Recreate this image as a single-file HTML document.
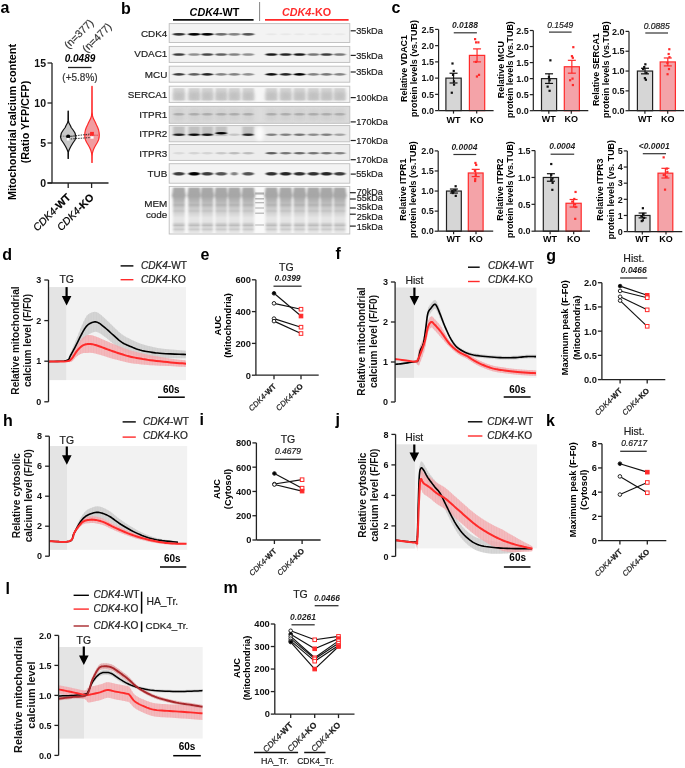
<!DOCTYPE html>
<html><head><meta charset="utf-8"><style>
html,body{margin:0;padding:0;background:#fff;width:685px;height:768px;overflow:hidden}
svg{display:block;will-change:transform}
text{font-family:"Liberation Sans", sans-serif}
</style></head><body>
<svg width="685" height="768" viewBox="0 0 685 768">
<rect width="685" height="768" fill="#fff"/>
<text x="0.50" y="13.10" font-size="16" font-weight="bold" font-style="normal" text-anchor="start" fill="#000">a</text>
<text x="16.00" y="122.00" font-size="10.8" font-weight="bold" font-style="normal" text-anchor="middle" fill="#000" transform="rotate(-90 16.00 122.00)">Mitochondrial calcium content</text>
<text x="28.50" y="122.00" font-size="10.8" font-weight="bold" font-style="normal" text-anchor="middle" fill="#000" transform="rotate(-90 28.50 122.00)">(Ratio YFP/CFP)</text>
<line x1="52.00" y1="63.00" x2="52.00" y2="183.00" stroke="#222" stroke-width="1.3"/>
<line x1="47.50" y1="183.00" x2="52.00" y2="183.00" stroke="#222" stroke-width="1.3"/>
<text x="46.00" y="186.78" font-size="10.5" font-weight="bold" font-style="normal" text-anchor="end" fill="#111">0</text>
<line x1="47.50" y1="143.00" x2="52.00" y2="143.00" stroke="#222" stroke-width="1.3"/>
<text x="46.00" y="146.78" font-size="10.5" font-weight="bold" font-style="normal" text-anchor="end" fill="#111">5</text>
<line x1="47.50" y1="103.00" x2="52.00" y2="103.00" stroke="#222" stroke-width="1.3"/>
<text x="46.00" y="106.78" font-size="10.5" font-weight="bold" font-style="normal" text-anchor="end" fill="#111">10</text>
<line x1="47.50" y1="63.00" x2="52.00" y2="63.00" stroke="#222" stroke-width="1.3"/>
<text x="46.00" y="66.78" font-size="10.5" font-weight="bold" font-style="normal" text-anchor="end" fill="#111">15</text>
<line x1="47.50" y1="183.00" x2="108.50" y2="183.00" stroke="#222" stroke-width="1.3"/>
<line x1="68.20" y1="183.00" x2="68.20" y2="188.00" stroke="#222" stroke-width="1.3"/>
<line x1="91.60" y1="183.00" x2="91.60" y2="188.00" stroke="#222" stroke-width="1.3"/>
<text x="71.20" y="198.00" font-size="10.5" font-weight="normal" font-style="normal" text-anchor="end" fill="#000" transform="rotate(-45 71.20 198.00)" stroke="#000" stroke-width="0.2"><tspan font-style="italic">CDK4</tspan><tspan font-weight="bold">-WT</tspan></text>
<text x="94.60" y="198.00" font-size="10.5" font-weight="normal" font-style="normal" text-anchor="end" fill="#000" transform="rotate(-45 94.60 198.00)" stroke="#000" stroke-width="0.2"><tspan font-style="italic">CDK4</tspan><tspan font-weight="bold">-KO</tspan></text>
<text x="80.00" y="61.50" font-size="10" font-weight="bold" font-style="italic" text-anchor="middle" fill="#000">0.0489</text>
<line x1="68.00" y1="67.50" x2="91.50" y2="67.50" stroke="#222" stroke-width="1.3"/>
<text x="80.00" y="80.60" font-size="10" font-weight="normal" font-style="normal" text-anchor="middle" fill="#333" stroke="#333" stroke-width="0.2">(+5.8%)</text>
<text x="81.30" y="36.40" font-size="10.5" font-weight="normal" font-style="normal" text-anchor="middle" fill="#333" transform="rotate(-45 81.30 36.40)" stroke="#333" stroke-width="0.2">(n=377)</text>
<text x="99.40" y="40.20" font-size="10.5" font-weight="normal" font-style="normal" text-anchor="middle" fill="#333" transform="rotate(-45 99.40 40.20)" stroke="#333" stroke-width="0.2">(n=477)</text>
<polygon points="68.35,111.00 68.40,121.00 69.00,123.00 69.80,124.50 70.60,126.00 71.20,127.50 73.10,130.00 75.00,133.00 75.90,136.80 75.00,140.00 72.90,143.00 70.80,146.50 69.80,148.50 69.00,150.30 68.40,152.00 68.35,158.50 68.05,158.50 68.00,152.00 67.40,150.30 66.60,148.50 65.60,146.50 63.50,143.00 61.40,140.00 60.50,136.80 61.40,133.00 63.30,130.00 65.20,127.50 65.80,126.00 66.60,124.50 67.40,123.00 68.00,121.00 68.05,111.00" fill="#c8c8c8" stroke="#111" stroke-width="1.2" stroke-linejoin="round"/>
<polygon points="92.15,86.40 92.20,112.00 92.50,116.00 93.40,118.60 94.40,120.50 95.40,122.50 96.50,125.00 97.70,127.50 98.60,130.00 99.10,132.50 99.30,135.00 99.10,137.50 98.50,140.00 97.30,142.50 95.80,145.00 94.40,147.50 93.20,150.30 92.40,153.00 92.20,156.00 92.15,162.50 91.85,162.50 91.80,156.00 91.60,153.00 90.80,150.30 89.60,147.50 88.20,145.00 86.70,142.50 85.50,140.00 84.90,137.50 84.70,135.00 84.90,132.50 85.40,130.00 86.30,127.50 87.50,125.00 88.60,122.50 89.60,120.50 90.60,118.60 91.50,116.00 91.80,112.00 91.85,86.40" fill="#f19ca0" stroke="#ff2a2a" stroke-width="1.2" stroke-linejoin="round"/>
<line x1="61.00" y1="136.20" x2="75.50" y2="136.20" stroke="#444" stroke-width="0.7" stroke-dasharray="1.2,1"/>
<line x1="85.50" y1="135.20" x2="98.50" y2="135.20" stroke="#c00" stroke-width="0.7" stroke-dasharray="1.2,1"/>
<line x1="68.20" y1="136.60" x2="92.00" y2="133.80" stroke="#222" stroke-width="0.9" stroke-dasharray="1.5,1"/>
<line x1="68.20" y1="139.20" x2="92.00" y2="137.40" stroke="#222" stroke-width="0.9" stroke-dasharray="1.5,1"/>
<circle cx="68.2" cy="136.6" r="2.1" fill="#000"/>
<rect x="66.80" y="137.90" width="2.80" height="2.60" fill="#fff" stroke="none" stroke-width="1"/>
<rect x="90.10" y="131.90" width="3.80" height="3.80" fill="#ff2a2a" stroke="none" stroke-width="1"/>
<rect x="90.40" y="136.30" width="3.20" height="2.40" fill="#fff" stroke="none" stroke-width="1"/>
<text x="121.00" y="13.50" font-size="16" font-weight="bold" font-style="normal" text-anchor="start" fill="#000">b</text>
<text x="214.50" y="15.80" font-size="10.8" font-weight="bold" font-style="normal" text-anchor="middle" fill="#000"><tspan font-style="italic">CDK4</tspan>-WT</text>
<text x="306.50" y="15.80" font-size="10.8" font-weight="bold" font-style="normal" text-anchor="middle" fill="#ff2a2a"><tspan font-style="italic">CDK4</tspan>-KO</text>
<line x1="173.00" y1="19.90" x2="253.60" y2="19.90" stroke="#111" stroke-width="1.8"/>
<line x1="265.00" y1="19.90" x2="348.60" y2="19.90" stroke="#ff2a2a" stroke-width="1.8"/>
<line x1="259.60" y1="2.00" x2="259.60" y2="21.00" stroke="#777" stroke-width="0.9"/>
<defs><filter id="bl" x="-50%" y="-100%" width="200%" height="300%"><feGaussianBlur stdDeviation="1.3 0.65"/></filter><filter id="blh" x="-20%" y="-5%" width="140%" height="110%"><feGaussianBlur stdDeviation="0.9 0.3"/></filter><filter id="bl2" x="-50%" y="-50%" width="200%" height="200%"><feGaussianBlur stdDeviation="2 1.5"/></filter><linearGradient id="memg" x1="0" y1="0" x2="0" y2="1"><stop offset="0.000" stop-color="#bcbcbc"/><stop offset="0.035" stop-color="#a8a8a8"/><stop offset="0.189" stop-color="#a6a6a6"/><stop offset="0.287" stop-color="#b4b4b4"/><stop offset="0.342" stop-color="#bdbdbd"/><stop offset="0.386" stop-color="#b3b3b3"/><stop offset="0.430" stop-color="#c5c5c5"/><stop offset="0.474" stop-color="#cdcdcd"/><stop offset="0.518" stop-color="#c2c2c2"/><stop offset="0.561" stop-color="#d4d4d4"/><stop offset="0.671" stop-color="#e5e5e5"/><stop offset="0.759" stop-color="#e3e3e3"/><stop offset="0.803" stop-color="#cbcbcb"/><stop offset="0.836" stop-color="#bdbdbd"/><stop offset="0.868" stop-color="#dadada"/><stop offset="0.923" stop-color="#cbcbcb"/><stop offset="0.956" stop-color="#dfdfdf"/><stop offset="1.000" stop-color="#e8e8e8"/></linearGradient></defs>
<rect x="169.20" y="23.60" width="180.60" height="18.90" fill="#f3f3f3" stroke="#bdbdbd" stroke-width="0.9"/>
<g clip-path="url(#clipCDK4)">
<ellipse cx="178.90" cy="34.30" rx="6.25" ry="1.40" fill="#000" opacity="0.8" filter="url(#bl)"/>
<ellipse cx="194.20" cy="34.30" rx="6.25" ry="1.40" fill="#000" opacity="1" filter="url(#bl)"/>
<ellipse cx="207.30" cy="34.30" rx="6.25" ry="1.40" fill="#000" opacity="1" filter="url(#bl)"/>
<ellipse cx="221.20" cy="34.30" rx="6.25" ry="1.40" fill="#000" opacity="0.55" filter="url(#bl)"/>
<ellipse cx="234.30" cy="34.30" rx="6.25" ry="1.40" fill="#000" opacity="0.45" filter="url(#bl)"/>
<ellipse cx="248.20" cy="34.30" rx="6.25" ry="1.40" fill="#000" opacity="0.65" filter="url(#bl)"/>
<ellipse cx="271.40" cy="34.30" rx="5.50" ry="1.00" fill="#000" opacity="0.04" filter="url(#bl)"/>
<ellipse cx="285.70" cy="34.30" rx="5.50" ry="1.00" fill="#000" opacity="0.04" filter="url(#bl)"/>
<ellipse cx="299.50" cy="34.30" rx="5.50" ry="1.00" fill="#000" opacity="0.04" filter="url(#bl)"/>
<ellipse cx="313.40" cy="34.30" rx="5.50" ry="1.00" fill="#000" opacity="0.04" filter="url(#bl)"/>
<ellipse cx="326.50" cy="34.30" rx="5.50" ry="1.00" fill="#000" opacity="0.04" filter="url(#bl)"/>
<ellipse cx="339.70" cy="34.30" rx="5.50" ry="1.00" fill="#000" opacity="0.04" filter="url(#bl)"/>
</g>
<clipPath id="clipCDK4"><rect x="169.2" y="23.6" width="180.60000000000002" height="18.9"/></clipPath>
<text x="167.30" y="37.00" font-size="9.9" font-weight="normal" font-style="normal" text-anchor="end" fill="#222" stroke="#222" stroke-width="0.2">CDK4</text>
<line x1="350.70" y1="30.80" x2="355.80" y2="30.80" stroke="#222" stroke-width="1.2"/>
<text x="356.20" y="34.10" font-size="9.2" font-weight="normal" font-style="normal" text-anchor="start" fill="#222" stroke="#222" stroke-width="0.2">35kDa</text>
<rect x="169.20" y="46.40" width="180.60" height="16.00" fill="#f1f1f1" stroke="#bdbdbd" stroke-width="0.9"/>
<g clip-path="url(#clipVDAC1)">
<ellipse cx="178.90" cy="54.50" rx="6.00" ry="1.30" fill="#000" opacity="0.75" filter="url(#bl)"/>
<ellipse cx="194.20" cy="54.50" rx="6.00" ry="1.30" fill="#000" opacity="0.4" filter="url(#bl)"/>
<ellipse cx="207.30" cy="54.50" rx="6.00" ry="1.30" fill="#000" opacity="0.7" filter="url(#bl)"/>
<ellipse cx="221.20" cy="54.50" rx="6.00" ry="1.30" fill="#000" opacity="0.6" filter="url(#bl)"/>
<ellipse cx="234.30" cy="54.50" rx="6.00" ry="1.30" fill="#000" opacity="0.45" filter="url(#bl)"/>
<ellipse cx="248.20" cy="54.50" rx="6.00" ry="1.30" fill="#000" opacity="0.4" filter="url(#bl)"/>
<ellipse cx="271.40" cy="54.50" rx="6.00" ry="1.30" fill="#000" opacity="0.9" filter="url(#bl)"/>
<ellipse cx="285.70" cy="54.50" rx="6.00" ry="1.30" fill="#000" opacity="0.85" filter="url(#bl)"/>
<ellipse cx="299.50" cy="54.50" rx="6.00" ry="1.30" fill="#000" opacity="0.9" filter="url(#bl)"/>
<ellipse cx="313.40" cy="54.50" rx="6.00" ry="1.30" fill="#000" opacity="0.5" filter="url(#bl)"/>
<ellipse cx="326.50" cy="54.50" rx="6.00" ry="1.30" fill="#000" opacity="0.75" filter="url(#bl)"/>
<ellipse cx="339.70" cy="54.50" rx="6.00" ry="1.30" fill="#000" opacity="0.5" filter="url(#bl)"/>
</g>
<clipPath id="clipVDAC1"><rect x="169.2" y="46.4" width="180.60000000000002" height="16.0"/></clipPath>
<text x="167.30" y="56.90" font-size="9.9" font-weight="normal" font-style="normal" text-anchor="end" fill="#222" stroke="#222" stroke-width="0.2">VDAC1</text>
<line x1="350.70" y1="55.40" x2="355.80" y2="55.40" stroke="#222" stroke-width="1.2"/>
<text x="356.20" y="58.70" font-size="9.2" font-weight="normal" font-style="normal" text-anchor="start" fill="#222" stroke="#222" stroke-width="0.2">35kDa</text>
<rect x="169.20" y="66.20" width="180.60" height="16.00" fill="#f1f1f1" stroke="#bdbdbd" stroke-width="0.9"/>
<g clip-path="url(#clipMCU)">
<ellipse cx="178.90" cy="74.40" rx="6.00" ry="1.30" fill="#000" opacity="0.75" filter="url(#bl)"/>
<ellipse cx="194.20" cy="74.40" rx="6.00" ry="1.30" fill="#000" opacity="0.6" filter="url(#bl)"/>
<ellipse cx="207.30" cy="74.40" rx="6.00" ry="1.30" fill="#000" opacity="0.85" filter="url(#bl)"/>
<ellipse cx="221.20" cy="74.40" rx="6.00" ry="1.30" fill="#000" opacity="0.45" filter="url(#bl)"/>
<ellipse cx="234.30" cy="74.40" rx="6.00" ry="1.30" fill="#000" opacity="0.45" filter="url(#bl)"/>
<ellipse cx="248.20" cy="74.40" rx="6.00" ry="1.30" fill="#000" opacity="0.4" filter="url(#bl)"/>
<ellipse cx="271.40" cy="74.40" rx="6.00" ry="1.30" fill="#000" opacity="0.95" filter="url(#bl)"/>
<ellipse cx="285.70" cy="74.40" rx="6.00" ry="1.30" fill="#000" opacity="0.85" filter="url(#bl)"/>
<ellipse cx="299.50" cy="74.40" rx="6.00" ry="1.30" fill="#000" opacity="1" filter="url(#bl)"/>
<ellipse cx="313.40" cy="74.40" rx="6.00" ry="1.30" fill="#000" opacity="0.45" filter="url(#bl)"/>
<ellipse cx="326.50" cy="74.40" rx="6.00" ry="1.30" fill="#000" opacity="0.5" filter="url(#bl)"/>
<ellipse cx="339.70" cy="74.40" rx="6.00" ry="1.30" fill="#000" opacity="0.45" filter="url(#bl)"/>
</g>
<clipPath id="clipMCU"><rect x="169.2" y="66.2" width="180.60000000000002" height="16.0"/></clipPath>
<text x="167.30" y="78.20" font-size="9.9" font-weight="normal" font-style="normal" text-anchor="end" fill="#222" stroke="#222" stroke-width="0.2">MCU</text>
<line x1="350.70" y1="72.00" x2="355.80" y2="72.00" stroke="#222" stroke-width="1.2"/>
<text x="356.20" y="75.30" font-size="9.2" font-weight="normal" font-style="normal" text-anchor="start" fill="#222" stroke="#222" stroke-width="0.2">35kDa</text>
<rect x="169.20" y="86.20" width="180.60" height="16.20" fill="#f6f6f6" stroke="#bdbdbd" stroke-width="0.9"/>
<g clip-path="url(#clipSERCA1)">
<rect x="173.10" y="88.20" width="11.60" height="12.20" fill="#d2d2d2" stroke="none" stroke-width="1" filter="url(#blh)"/>
<rect x="173.70" y="92.20" width="10.40" height="8.00" fill="#bdbdbd" stroke="none" stroke-width="1" filter="url(#bl2)" opacity="0.8"/>
<rect x="188.40" y="88.20" width="11.60" height="12.20" fill="#d2d2d2" stroke="none" stroke-width="1" filter="url(#blh)"/>
<rect x="189.00" y="92.20" width="10.40" height="8.00" fill="#bdbdbd" stroke="none" stroke-width="1" filter="url(#bl2)" opacity="0.8"/>
<rect x="201.50" y="88.20" width="11.60" height="12.20" fill="#d2d2d2" stroke="none" stroke-width="1" filter="url(#blh)"/>
<rect x="202.10" y="92.20" width="10.40" height="8.00" fill="#bdbdbd" stroke="none" stroke-width="1" filter="url(#bl2)" opacity="0.8"/>
<rect x="215.40" y="88.20" width="11.60" height="12.20" fill="#d2d2d2" stroke="none" stroke-width="1" filter="url(#blh)"/>
<rect x="216.00" y="92.20" width="10.40" height="8.00" fill="#bdbdbd" stroke="none" stroke-width="1" filter="url(#bl2)" opacity="0.8"/>
<rect x="228.50" y="88.20" width="11.60" height="12.20" fill="#d2d2d2" stroke="none" stroke-width="1" filter="url(#blh)"/>
<rect x="229.10" y="92.20" width="10.40" height="8.00" fill="#bdbdbd" stroke="none" stroke-width="1" filter="url(#bl2)" opacity="0.8"/>
<rect x="242.40" y="88.20" width="11.60" height="12.20" fill="#d2d2d2" stroke="none" stroke-width="1" filter="url(#blh)"/>
<rect x="243.00" y="92.20" width="10.40" height="8.00" fill="#bdbdbd" stroke="none" stroke-width="1" filter="url(#bl2)" opacity="0.8"/>
<rect x="265.60" y="88.20" width="11.60" height="12.20" fill="#d2d2d2" stroke="none" stroke-width="1" filter="url(#blh)"/>
<rect x="266.20" y="92.20" width="10.40" height="8.00" fill="#bdbdbd" stroke="none" stroke-width="1" filter="url(#bl2)" opacity="0.8"/>
<rect x="279.90" y="88.20" width="11.60" height="12.20" fill="#d2d2d2" stroke="none" stroke-width="1" filter="url(#blh)"/>
<rect x="280.50" y="92.20" width="10.40" height="8.00" fill="#bdbdbd" stroke="none" stroke-width="1" filter="url(#bl2)" opacity="0.8"/>
<rect x="293.70" y="88.20" width="11.60" height="12.20" fill="#d2d2d2" stroke="none" stroke-width="1" filter="url(#blh)"/>
<rect x="294.30" y="92.20" width="10.40" height="8.00" fill="#bdbdbd" stroke="none" stroke-width="1" filter="url(#bl2)" opacity="0.8"/>
<rect x="307.60" y="88.20" width="11.60" height="12.20" fill="#d2d2d2" stroke="none" stroke-width="1" filter="url(#blh)"/>
<rect x="308.20" y="92.20" width="10.40" height="8.00" fill="#bdbdbd" stroke="none" stroke-width="1" filter="url(#bl2)" opacity="0.8"/>
<rect x="320.70" y="88.20" width="11.60" height="12.20" fill="#d2d2d2" stroke="none" stroke-width="1" filter="url(#blh)"/>
<rect x="321.30" y="92.20" width="10.40" height="8.00" fill="#bdbdbd" stroke="none" stroke-width="1" filter="url(#bl2)" opacity="0.8"/>
<rect x="333.90" y="88.20" width="11.60" height="12.20" fill="#d2d2d2" stroke="none" stroke-width="1" filter="url(#blh)"/>
<rect x="334.50" y="92.20" width="10.40" height="8.00" fill="#bdbdbd" stroke="none" stroke-width="1" filter="url(#bl2)" opacity="0.8"/>
</g>
<clipPath id="clipSERCA1"><rect x="169.2" y="86.2" width="180.60000000000002" height="16.200000000000003"/></clipPath>
<text x="167.30" y="98.00" font-size="9.9" font-weight="normal" font-style="normal" text-anchor="end" fill="#222" stroke="#222" stroke-width="0.2">SERCA1</text>
<line x1="350.70" y1="97.60" x2="355.80" y2="97.60" stroke="#222" stroke-width="1.2"/>
<text x="356.20" y="100.90" font-size="9.2" font-weight="normal" font-style="normal" text-anchor="start" fill="#222" stroke="#222" stroke-width="0.2">100kDa</text>
<rect x="169.20" y="106.30" width="180.60" height="17.00" fill="#dcdcdc" stroke="#bdbdbd" stroke-width="0.9"/>
<g clip-path="url(#clipITPR1)">
<rect x="173.40" y="108.30" width="11.00" height="13.00" fill="#cfcfcf" stroke="none" stroke-width="1" filter="url(#bl2)" opacity="0.8"/>
<rect x="188.70" y="108.30" width="11.00" height="13.00" fill="#cfcfcf" stroke="none" stroke-width="1" filter="url(#bl2)" opacity="0.8"/>
<rect x="201.80" y="108.30" width="11.00" height="13.00" fill="#cfcfcf" stroke="none" stroke-width="1" filter="url(#bl2)" opacity="0.8"/>
<rect x="215.70" y="108.30" width="11.00" height="13.00" fill="#cfcfcf" stroke="none" stroke-width="1" filter="url(#bl2)" opacity="0.8"/>
<rect x="228.80" y="108.30" width="11.00" height="13.00" fill="#cfcfcf" stroke="none" stroke-width="1" filter="url(#bl2)" opacity="0.8"/>
<rect x="242.70" y="108.30" width="11.00" height="13.00" fill="#cfcfcf" stroke="none" stroke-width="1" filter="url(#bl2)" opacity="0.8"/>
<rect x="265.90" y="108.30" width="11.00" height="13.00" fill="#cfcfcf" stroke="none" stroke-width="1" filter="url(#bl2)" opacity="0.8"/>
<rect x="280.20" y="108.30" width="11.00" height="13.00" fill="#cfcfcf" stroke="none" stroke-width="1" filter="url(#bl2)" opacity="0.8"/>
<rect x="294.00" y="108.30" width="11.00" height="13.00" fill="#cfcfcf" stroke="none" stroke-width="1" filter="url(#bl2)" opacity="0.8"/>
<rect x="307.90" y="108.30" width="11.00" height="13.00" fill="#cfcfcf" stroke="none" stroke-width="1" filter="url(#bl2)" opacity="0.8"/>
<rect x="321.00" y="108.30" width="11.00" height="13.00" fill="#cfcfcf" stroke="none" stroke-width="1" filter="url(#bl2)" opacity="0.8"/>
<rect x="334.20" y="108.30" width="11.00" height="13.00" fill="#cfcfcf" stroke="none" stroke-width="1" filter="url(#bl2)" opacity="0.8"/>
<ellipse cx="178.90" cy="114.30" rx="5.50" ry="1.25" fill="#888" opacity="0.5" filter="url(#bl)"/>
<ellipse cx="194.20" cy="114.30" rx="5.50" ry="1.25" fill="#888" opacity="0.5" filter="url(#bl)"/>
<ellipse cx="207.30" cy="114.30" rx="5.50" ry="1.25" fill="#888" opacity="0.5" filter="url(#bl)"/>
<ellipse cx="221.20" cy="114.30" rx="5.50" ry="1.25" fill="#888" opacity="0.5" filter="url(#bl)"/>
<ellipse cx="234.30" cy="114.30" rx="5.50" ry="1.25" fill="#888" opacity="0.5" filter="url(#bl)"/>
<ellipse cx="248.20" cy="114.30" rx="5.50" ry="1.25" fill="#888" opacity="0.5" filter="url(#bl)"/>
<ellipse cx="271.40" cy="114.30" rx="5.50" ry="1.25" fill="#888" opacity="0.5" filter="url(#bl)"/>
<ellipse cx="285.70" cy="114.30" rx="5.50" ry="1.25" fill="#888" opacity="0.5" filter="url(#bl)"/>
<ellipse cx="299.50" cy="114.30" rx="5.50" ry="1.25" fill="#888" opacity="0.5" filter="url(#bl)"/>
<ellipse cx="313.40" cy="114.30" rx="5.50" ry="1.25" fill="#888" opacity="0.5" filter="url(#bl)"/>
<ellipse cx="326.50" cy="114.30" rx="5.50" ry="1.25" fill="#888" opacity="0.5" filter="url(#bl)"/>
<ellipse cx="339.70" cy="114.30" rx="5.50" ry="1.25" fill="#888" opacity="0.5" filter="url(#bl)"/>
</g>
<clipPath id="clipITPR1"><rect x="169.2" y="106.3" width="180.60000000000002" height="17.0"/></clipPath>
<text x="167.30" y="118.20" font-size="9.9" font-weight="normal" font-style="normal" text-anchor="end" fill="#222" stroke="#222" stroke-width="0.2">ITPR1</text>
<line x1="350.70" y1="121.90" x2="355.80" y2="121.90" stroke="#222" stroke-width="1.2"/>
<text x="356.20" y="125.20" font-size="9.2" font-weight="normal" font-style="normal" text-anchor="start" fill="#222" stroke="#222" stroke-width="0.2">170kDa</text>
<rect x="169.20" y="125.60" width="180.60" height="16.20" fill="#e9e9e9" stroke="#bdbdbd" stroke-width="0.9"/>
<g clip-path="url(#clipITPR2)">
<rect x="173.10" y="126.60" width="11.60" height="9.50" fill="#bdbdbd" stroke="none" stroke-width="1" filter="url(#blh)" opacity="0.9"/>
<rect x="188.40" y="126.60" width="11.60" height="9.50" fill="#bdbdbd" stroke="none" stroke-width="1" filter="url(#blh)" opacity="0.9"/>
<rect x="201.50" y="126.60" width="11.60" height="9.50" fill="#bdbdbd" stroke="none" stroke-width="1" filter="url(#blh)" opacity="0.9"/>
<rect x="215.40" y="126.60" width="11.60" height="9.50" fill="#bdbdbd" stroke="none" stroke-width="1" filter="url(#blh)" opacity="0.9"/>
<rect x="242.40" y="126.60" width="11.60" height="9.50" fill="#bdbdbd" stroke="none" stroke-width="1" filter="url(#blh)" opacity="0.9"/>
<ellipse cx="178.90" cy="134.70" rx="5.75" ry="1.30" fill="#000" opacity="0.85" filter="url(#bl)"/>
<ellipse cx="194.20" cy="134.70" rx="5.75" ry="1.30" fill="#000" opacity="0.95" filter="url(#bl)"/>
<ellipse cx="207.30" cy="134.70" rx="5.75" ry="1.30" fill="#000" opacity="0.9" filter="url(#bl)"/>
<ellipse cx="221.20" cy="133.20" rx="5.75" ry="1.30" fill="#000" opacity="1" filter="url(#bl)"/>
<ellipse cx="234.30" cy="134.70" rx="5.75" ry="1.30" fill="#000" opacity="0.15" filter="url(#bl)"/>
<ellipse cx="248.20" cy="134.70" rx="5.75" ry="1.30" fill="#000" opacity="0.8" filter="url(#bl)"/>
<ellipse cx="271.40" cy="134.70" rx="5.75" ry="1.30" fill="#000" opacity="0.45" filter="url(#bl)"/>
<ellipse cx="285.70" cy="134.70" rx="5.75" ry="1.30" fill="#000" opacity="0.45" filter="url(#bl)"/>
<ellipse cx="299.50" cy="134.70" rx="5.75" ry="1.30" fill="#000" opacity="0.5" filter="url(#bl)"/>
<ellipse cx="313.40" cy="134.70" rx="5.75" ry="1.30" fill="#000" opacity="0.4" filter="url(#bl)"/>
<ellipse cx="326.50" cy="134.70" rx="5.75" ry="1.30" fill="#000" opacity="0.45" filter="url(#bl)"/>
<ellipse cx="339.70" cy="134.70" rx="5.75" ry="1.30" fill="#000" opacity="0.3" filter="url(#bl)"/>
<ellipse cx="259.60" cy="133.70" rx="4.00" ry="8.00" fill="#fff" opacity="0.9" filter="url(#bl2)"/>
</g>
<clipPath id="clipITPR2"><rect x="169.2" y="125.6" width="180.60000000000002" height="16.200000000000017"/></clipPath>
<text x="167.30" y="137.40" font-size="9.9" font-weight="normal" font-style="normal" text-anchor="end" fill="#222" stroke="#222" stroke-width="0.2">ITPR2</text>
<line x1="350.70" y1="140.50" x2="355.80" y2="140.50" stroke="#222" stroke-width="1.2"/>
<text x="356.20" y="143.80" font-size="9.2" font-weight="normal" font-style="normal" text-anchor="start" fill="#222" stroke="#222" stroke-width="0.2">170kDa</text>
<rect x="169.20" y="144.40" width="180.60" height="16.00" fill="#ededed" stroke="#bdbdbd" stroke-width="0.9"/>
<g clip-path="url(#clipITPR3)">
<ellipse cx="178.90" cy="153.20" rx="5.75" ry="1.20" fill="#000" opacity="0.08" filter="url(#bl)"/>
<ellipse cx="194.20" cy="153.20" rx="5.75" ry="1.20" fill="#000" opacity="0.1" filter="url(#bl)"/>
<ellipse cx="207.30" cy="153.20" rx="5.75" ry="1.20" fill="#000" opacity="0.1" filter="url(#bl)"/>
<ellipse cx="221.20" cy="153.20" rx="5.75" ry="1.20" fill="#000" opacity="0.15" filter="url(#bl)"/>
<ellipse cx="234.30" cy="153.20" rx="5.75" ry="1.20" fill="#000" opacity="0.2" filter="url(#bl)"/>
<ellipse cx="248.20" cy="153.20" rx="5.75" ry="1.20" fill="#000" opacity="0.2" filter="url(#bl)"/>
<ellipse cx="271.40" cy="153.20" rx="5.75" ry="1.20" fill="#000" opacity="0.6" filter="url(#bl)"/>
<ellipse cx="285.70" cy="153.20" rx="5.75" ry="1.20" fill="#000" opacity="0.5" filter="url(#bl)"/>
<ellipse cx="299.50" cy="153.20" rx="5.75" ry="1.20" fill="#000" opacity="0.55" filter="url(#bl)"/>
<ellipse cx="313.40" cy="153.20" rx="5.75" ry="1.20" fill="#000" opacity="0.5" filter="url(#bl)"/>
<ellipse cx="326.50" cy="153.20" rx="5.75" ry="1.20" fill="#000" opacity="0.5" filter="url(#bl)"/>
<ellipse cx="339.70" cy="153.20" rx="5.75" ry="1.20" fill="#000" opacity="0.45" filter="url(#bl)"/>
</g>
<clipPath id="clipITPR3"><rect x="169.2" y="144.4" width="180.60000000000002" height="16.0"/></clipPath>
<text x="167.30" y="157.40" font-size="9.9" font-weight="normal" font-style="normal" text-anchor="end" fill="#222" stroke="#222" stroke-width="0.2">ITPR3</text>
<line x1="350.70" y1="159.70" x2="355.80" y2="159.70" stroke="#222" stroke-width="1.2"/>
<text x="356.20" y="163.00" font-size="9.2" font-weight="normal" font-style="normal" text-anchor="start" fill="#222" stroke="#222" stroke-width="0.2">170kDa</text>
<rect x="169.20" y="163.70" width="180.60" height="19.50" fill="#f3f3f3" stroke="#bdbdbd" stroke-width="0.9"/>
<g clip-path="url(#clipTUB)">
<ellipse cx="178.90" cy="173.75" rx="5.75" ry="1.70" fill="#000" opacity="0.75" filter="url(#bl)"/>
<ellipse cx="194.20" cy="173.75" rx="5.75" ry="1.70" fill="#000" opacity="1" filter="url(#bl)"/>
<ellipse cx="207.30" cy="173.75" rx="5.75" ry="1.70" fill="#000" opacity="0.75" filter="url(#bl)"/>
<ellipse cx="221.20" cy="173.75" rx="5.75" ry="1.70" fill="#000" opacity="0.65" filter="url(#bl)"/>
<ellipse cx="234.30" cy="173.75" rx="3.50" ry="1.70" fill="#000" opacity="0.45" filter="url(#bl)"/>
<ellipse cx="248.20" cy="173.75" rx="5.75" ry="1.70" fill="#000" opacity="0.65" filter="url(#bl)"/>
<ellipse cx="271.40" cy="173.75" rx="5.75" ry="1.70" fill="#000" opacity="0.8" filter="url(#bl)"/>
<ellipse cx="285.70" cy="173.75" rx="5.75" ry="1.70" fill="#000" opacity="0.85" filter="url(#bl)"/>
<ellipse cx="299.50" cy="173.75" rx="5.75" ry="1.70" fill="#000" opacity="0.8" filter="url(#bl)"/>
<ellipse cx="313.40" cy="173.75" rx="5.75" ry="1.70" fill="#000" opacity="0.8" filter="url(#bl)"/>
<ellipse cx="326.50" cy="173.75" rx="5.75" ry="1.70" fill="#000" opacity="0.85" filter="url(#bl)"/>
<ellipse cx="339.70" cy="173.75" rx="5.75" ry="1.70" fill="#000" opacity="0.75" filter="url(#bl)"/>
</g>
<clipPath id="clipTUB"><rect x="169.2" y="163.7" width="180.60000000000002" height="19.5"/></clipPath>
<text x="167.30" y="176.60" font-size="9.9" font-weight="normal" font-style="normal" text-anchor="end" fill="#222" stroke="#222" stroke-width="0.2">TUB</text>
<line x1="350.70" y1="174.10" x2="355.80" y2="174.10" stroke="#222" stroke-width="1.2"/>
<text x="356.20" y="177.40" font-size="9.2" font-weight="normal" font-style="normal" text-anchor="start" fill="#222" stroke="#222" stroke-width="0.2">55kDa</text>
<rect x="169.20" y="186.40" width="180.60" height="47.60" fill="#fafafa" stroke="#bdbdbd" stroke-width="0.9"/>
<g clip-path="url(#clipMEM)">
<polygon points="173.10,187.40 184.70,187.40 185.20,191.40 185.90,195.40 184.90,199.40 184.70,233.00 173.10,233.00 172.90,199.40 171.90,195.40 172.60,191.40" fill="url(#memg)" filter="url(#blh)"/>
<polygon points="188.40,187.40 200.00,187.40 200.50,191.40 201.20,195.40 200.20,199.40 200.00,233.00 188.40,233.00 188.20,199.40 187.20,195.40 187.90,191.40" fill="url(#memg)" filter="url(#blh)"/>
<polygon points="201.50,187.40 213.10,187.40 213.60,191.40 214.30,195.40 213.30,199.40 213.10,233.00 201.50,233.00 201.30,199.40 200.30,195.40 201.00,191.40" fill="url(#memg)" filter="url(#blh)"/>
<polygon points="215.40,187.40 227.00,187.40 227.50,191.40 228.20,195.40 227.20,199.40 227.00,233.00 215.40,233.00 215.20,199.40 214.20,195.40 214.90,191.40" fill="url(#memg)" filter="url(#blh)"/>
<polygon points="228.50,187.40 240.10,187.40 240.60,191.40 241.30,195.40 240.30,199.40 240.10,233.00 228.50,233.00 228.30,199.40 227.30,195.40 228.00,191.40" fill="url(#memg)" filter="url(#blh)"/>
<polygon points="242.40,187.40 254.00,187.40 254.50,191.40 255.20,195.40 254.20,199.40 254.00,233.00 242.40,233.00 242.20,199.40 241.20,195.40 241.90,191.40" fill="url(#memg)" filter="url(#blh)"/>
<polygon points="265.60,187.40 277.20,187.40 277.70,191.40 278.40,195.40 277.40,199.40 277.20,233.00 265.60,233.00 265.40,199.40 264.40,195.40 265.10,191.40" fill="url(#memg)" filter="url(#blh)"/>
<polygon points="279.90,187.40 291.50,187.40 292.00,191.40 292.70,195.40 291.70,199.40 291.50,233.00 279.90,233.00 279.70,199.40 278.70,195.40 279.40,191.40" fill="url(#memg)" filter="url(#blh)"/>
<polygon points="293.70,187.40 305.30,187.40 305.80,191.40 306.50,195.40 305.50,199.40 305.30,233.00 293.70,233.00 293.50,199.40 292.50,195.40 293.20,191.40" fill="url(#memg)" filter="url(#blh)"/>
<polygon points="307.60,187.40 319.20,187.40 319.70,191.40 320.40,195.40 319.40,199.40 319.20,233.00 307.60,233.00 307.40,199.40 306.40,195.40 307.10,191.40" fill="url(#memg)" filter="url(#blh)"/>
<polygon points="320.70,187.40 332.30,187.40 332.80,191.40 333.50,195.40 332.50,199.40 332.30,233.00 320.70,233.00 320.50,199.40 319.50,195.40 320.20,191.40" fill="url(#memg)" filter="url(#blh)"/>
<polygon points="333.90,187.40 345.50,187.40 346.00,191.40 346.70,195.40 345.70,199.40 345.50,233.00 333.90,233.00 333.70,199.40 332.70,195.40 333.40,191.40" fill="url(#memg)" filter="url(#blh)"/>
<line x1="255.20" y1="193.50" x2="264.00" y2="193.50" stroke="#777" stroke-width="2.2" opacity="0.55"/>
<line x1="255.20" y1="198.80" x2="264.00" y2="198.80" stroke="#777" stroke-width="1.3" opacity="0.6"/>
<line x1="255.20" y1="202.70" x2="264.00" y2="202.70" stroke="#777" stroke-width="1.2" opacity="0.55"/>
<line x1="255.20" y1="208.00" x2="264.00" y2="208.00" stroke="#777" stroke-width="1.2" opacity="0.5"/>
<line x1="255.20" y1="213.20" x2="264.00" y2="213.20" stroke="#777" stroke-width="1.2" opacity="0.55"/>
<line x1="255.20" y1="225.00" x2="264.00" y2="225.00" stroke="#777" stroke-width="1.2" opacity="0.45"/>
</g>
<clipPath id="clipMEM"><rect x="169.2" y="186.4" width="180.60000000000002" height="47.599999999999994"/></clipPath>
<text x="167.30" y="206.70" font-size="9.9" font-weight="normal" font-style="normal" text-anchor="end" fill="#222" stroke="#222" stroke-width="0.2">MEM</text>
<text x="167.30" y="218.20" font-size="9.9" font-weight="normal" font-style="normal" text-anchor="end" fill="#222" stroke="#222" stroke-width="0.2">code</text>
<line x1="349.90" y1="192.70" x2="355.80" y2="192.70" stroke="#222" stroke-width="1.2"/>
<line x1="349.90" y1="199.00" x2="355.80" y2="199.00" stroke="#222" stroke-width="1.2"/>
<line x1="349.90" y1="208.00" x2="355.80" y2="208.00" stroke="#222" stroke-width="1.2"/>
<line x1="349.90" y1="214.20" x2="355.80" y2="214.20" stroke="#222" stroke-width="1.2"/>
<line x1="349.90" y1="226.10" x2="355.80" y2="226.10" stroke="#222" stroke-width="1.2"/>
<text x="356.80" y="194.50" font-size="9" font-weight="normal" font-style="normal" text-anchor="start" fill="#222" stroke="#222" stroke-width="0.2">70kDa</text>
<text x="356.80" y="201.40" font-size="9" font-weight="normal" font-style="normal" text-anchor="start" fill="#222" stroke="#222" stroke-width="0.2">55kDa</text>
<text x="356.80" y="210.00" font-size="9" font-weight="normal" font-style="normal" text-anchor="start" fill="#222" stroke="#222" stroke-width="0.2">35kDa</text>
<text x="356.80" y="219.50" font-size="9" font-weight="normal" font-style="normal" text-anchor="start" fill="#222" stroke="#222" stroke-width="0.2">25kDa</text>
<text x="356.80" y="229.70" font-size="9" font-weight="normal" font-style="normal" text-anchor="start" fill="#222" stroke="#222" stroke-width="0.2">15kDa</text>
<text x="391.50" y="13.30" font-size="16" font-weight="bold" font-style="normal" text-anchor="start" fill="#000">c</text>
<rect x="445.90" y="78.12" width="15.30" height="32.48" fill="#d6d6d6" stroke="#222" stroke-width="1.2"/>
<rect x="469.40" y="55.38" width="15.30" height="55.22" fill="#f4a3a8" stroke="#ff2a2a" stroke-width="1.2"/>
<rect x="451.40" y="62.40" width="2.2" height="2.2" fill="#111"/>
<rect x="452.63" y="69.87" width="2.2" height="2.2" fill="#111"/>
<rect x="451.93" y="73.77" width="2.2" height="2.2" fill="#111"/>
<rect x="452.87" y="80.27" width="2.2" height="2.2" fill="#111"/>
<rect x="452.95" y="83.52" width="2.2" height="2.2" fill="#111"/>
<rect x="450.71" y="91.64" width="2.2" height="2.2" fill="#111"/>
<rect x="474.00" y="38.04" width="2.2" height="2.2" fill="#ff2a2a"/>
<rect x="477.30" y="41.29" width="2.2" height="2.2" fill="#ff2a2a"/>
<rect x="474.99" y="41.29" width="2.2" height="2.2" fill="#ff2a2a"/>
<rect x="474.89" y="60.78" width="2.2" height="2.2" fill="#ff2a2a"/>
<rect x="477.93" y="73.77" width="2.2" height="2.2" fill="#ff2a2a"/>
<rect x="475.83" y="75.40" width="2.2" height="2.2" fill="#ff2a2a"/>
<line x1="453.55" y1="73.25" x2="453.55" y2="82.99" stroke="#111" stroke-width="1.2"/>
<line x1="449.55" y1="73.25" x2="457.55" y2="73.25" stroke="#111" stroke-width="1.2"/>
<line x1="449.55" y1="82.99" x2="457.55" y2="82.99" stroke="#111" stroke-width="1.2"/>
<line x1="477.05" y1="48.89" x2="477.05" y2="61.88" stroke="#ff2a2a" stroke-width="1.2"/>
<line x1="473.05" y1="48.89" x2="481.05" y2="48.89" stroke="#ff2a2a" stroke-width="1.2"/>
<line x1="473.05" y1="61.88" x2="481.05" y2="61.88" stroke="#ff2a2a" stroke-width="1.2"/>
<line x1="438.60" y1="29.40" x2="438.60" y2="110.60" stroke="#222" stroke-width="1.2"/>
<line x1="435.10" y1="110.60" x2="438.60" y2="110.60" stroke="#222" stroke-width="1.2"/>
<text x="434.10" y="113.84" font-size="9" font-weight="bold" font-style="normal" text-anchor="end" fill="#111">0.0</text>
<line x1="435.10" y1="94.36" x2="438.60" y2="94.36" stroke="#222" stroke-width="1.2"/>
<text x="434.10" y="97.60" font-size="9" font-weight="bold" font-style="normal" text-anchor="end" fill="#111">0.5</text>
<line x1="435.10" y1="78.12" x2="438.60" y2="78.12" stroke="#222" stroke-width="1.2"/>
<text x="434.10" y="81.36" font-size="9" font-weight="bold" font-style="normal" text-anchor="end" fill="#111">1.0</text>
<line x1="435.10" y1="61.88" x2="438.60" y2="61.88" stroke="#222" stroke-width="1.2"/>
<text x="434.10" y="65.12" font-size="9" font-weight="bold" font-style="normal" text-anchor="end" fill="#111">1.5</text>
<line x1="435.10" y1="45.64" x2="438.60" y2="45.64" stroke="#222" stroke-width="1.2"/>
<text x="434.10" y="48.88" font-size="9" font-weight="bold" font-style="normal" text-anchor="end" fill="#111">2.0</text>
<line x1="435.10" y1="29.40" x2="438.60" y2="29.40" stroke="#222" stroke-width="1.2"/>
<text x="434.10" y="32.64" font-size="9" font-weight="bold" font-style="normal" text-anchor="end" fill="#111">2.5</text>
<line x1="438.60" y1="110.60" x2="493.60" y2="110.60" stroke="#222" stroke-width="1.2"/>
<line x1="453.50" y1="110.60" x2="453.50" y2="113.60" stroke="#222" stroke-width="1.2"/>
<line x1="476.70" y1="110.60" x2="476.70" y2="113.60" stroke="#222" stroke-width="1.2"/>
<text x="453.50" y="122.60" font-size="9" font-weight="bold" font-style="normal" text-anchor="middle" fill="#000">WT</text>
<text x="476.70" y="122.60" font-size="9" font-weight="bold" font-style="normal" text-anchor="middle" fill="#000">KO</text>
<text x="465.00" y="28.10" font-size="8.5" font-weight="bold" font-style="italic" text-anchor="middle" fill="#222">0.0188</text>
<line x1="453.75" y1="32.80" x2="476.90" y2="32.80" stroke="#333" stroke-width="1.2"/>
<text x="406.75" y="68.50" font-size="8.95" font-weight="bold" font-style="normal" text-anchor="middle" fill="#000" transform="rotate(-90 406.75 68.50)">Relative VDAC1</text>
<text x="416.90" y="68.50" font-size="8.95" font-weight="bold" font-style="normal" text-anchor="middle" fill="#000" transform="rotate(-90 416.90 68.50)">protein levels (vs.TUB)</text>
<rect x="541.50" y="78.62" width="15.10" height="32.08" fill="#d6d6d6" stroke="#222" stroke-width="1.2"/>
<rect x="564.30" y="66.75" width="15.10" height="43.95" fill="#f4a3a8" stroke="#ff2a2a" stroke-width="1.2"/>
<rect x="549.30" y="59.23" width="2.2" height="2.2" fill="#111"/>
<rect x="547.86" y="75.92" width="2.2" height="2.2" fill="#111"/>
<rect x="548.51" y="79.12" width="2.2" height="2.2" fill="#111"/>
<rect x="546.55" y="85.54" width="2.2" height="2.2" fill="#111"/>
<rect x="548.49" y="89.71" width="2.2" height="2.2" fill="#111"/>
<rect x="572.22" y="46.08" width="2.2" height="2.2" fill="#ff2a2a"/>
<rect x="570.84" y="55.06" width="2.2" height="2.2" fill="#ff2a2a"/>
<rect x="571.72" y="56.67" width="2.2" height="2.2" fill="#ff2a2a"/>
<rect x="571.44" y="77.52" width="2.2" height="2.2" fill="#ff2a2a"/>
<rect x="569.01" y="79.12" width="2.2" height="2.2" fill="#ff2a2a"/>
<rect x="571.78" y="83.94" width="2.2" height="2.2" fill="#ff2a2a"/>
<line x1="549.05" y1="73.81" x2="549.05" y2="83.43" stroke="#111" stroke-width="1.2"/>
<line x1="545.05" y1="73.81" x2="553.05" y2="73.81" stroke="#111" stroke-width="1.2"/>
<line x1="545.05" y1="83.43" x2="553.05" y2="83.43" stroke="#111" stroke-width="1.2"/>
<line x1="571.85" y1="60.33" x2="571.85" y2="73.17" stroke="#ff2a2a" stroke-width="1.2"/>
<line x1="567.85" y1="60.33" x2="575.85" y2="60.33" stroke="#ff2a2a" stroke-width="1.2"/>
<line x1="567.85" y1="73.17" x2="575.85" y2="73.17" stroke="#ff2a2a" stroke-width="1.2"/>
<line x1="533.30" y1="30.50" x2="533.30" y2="110.70" stroke="#222" stroke-width="1.2"/>
<line x1="529.80" y1="110.70" x2="533.30" y2="110.70" stroke="#222" stroke-width="1.2"/>
<text x="528.80" y="113.94" font-size="9" font-weight="bold" font-style="normal" text-anchor="end" fill="#111">0.0</text>
<line x1="529.80" y1="94.66" x2="533.30" y2="94.66" stroke="#222" stroke-width="1.2"/>
<text x="528.80" y="97.90" font-size="9" font-weight="bold" font-style="normal" text-anchor="end" fill="#111">0.5</text>
<line x1="529.80" y1="78.62" x2="533.30" y2="78.62" stroke="#222" stroke-width="1.2"/>
<text x="528.80" y="81.86" font-size="9" font-weight="bold" font-style="normal" text-anchor="end" fill="#111">1.0</text>
<line x1="529.80" y1="62.58" x2="533.30" y2="62.58" stroke="#222" stroke-width="1.2"/>
<text x="528.80" y="65.82" font-size="9" font-weight="bold" font-style="normal" text-anchor="end" fill="#111">1.5</text>
<line x1="529.80" y1="46.54" x2="533.30" y2="46.54" stroke="#222" stroke-width="1.2"/>
<text x="528.80" y="49.78" font-size="9" font-weight="bold" font-style="normal" text-anchor="end" fill="#111">2.0</text>
<line x1="529.80" y1="30.50" x2="533.30" y2="30.50" stroke="#222" stroke-width="1.2"/>
<text x="528.80" y="33.74" font-size="9" font-weight="bold" font-style="normal" text-anchor="end" fill="#111">2.5</text>
<line x1="533.30" y1="110.70" x2="588.30" y2="110.70" stroke="#222" stroke-width="1.2"/>
<line x1="548.80" y1="110.70" x2="548.80" y2="113.70" stroke="#222" stroke-width="1.2"/>
<line x1="571.30" y1="110.70" x2="571.30" y2="113.70" stroke="#222" stroke-width="1.2"/>
<text x="548.80" y="122.40" font-size="9" font-weight="bold" font-style="normal" text-anchor="middle" fill="#000">WT</text>
<text x="571.30" y="122.40" font-size="9" font-weight="bold" font-style="normal" text-anchor="middle" fill="#000">KO</text>
<text x="560.20" y="27.70" font-size="8.5" font-weight="normal" font-style="italic" text-anchor="middle" fill="#222" stroke="#222" stroke-width="0.2">0.1549</text>
<line x1="549.00" y1="32.10" x2="571.60" y2="32.10" stroke="#333" stroke-width="1.2"/>
<text x="504.00" y="69.60" font-size="8.95" font-weight="bold" font-style="normal" text-anchor="middle" fill="#000" transform="rotate(-90 504.00 69.60)">Relative MCU</text>
<text x="513.20" y="69.60" font-size="8.95" font-weight="bold" font-style="normal" text-anchor="middle" fill="#000" transform="rotate(-90 513.20 69.60)">protein levels (vs.TUB)</text>
<rect x="637.40" y="71.05" width="15.20" height="39.65" fill="#d6d6d6" stroke="#222" stroke-width="1.2"/>
<rect x="660.20" y="61.93" width="15.20" height="48.77" fill="#f4a3a8" stroke="#ff2a2a" stroke-width="1.2"/>
<rect x="644.26" y="63.21" width="2.2" height="2.2" fill="#111"/>
<rect x="643.11" y="65.98" width="2.2" height="2.2" fill="#111"/>
<rect x="642.02" y="67.97" width="2.2" height="2.2" fill="#111"/>
<rect x="645.36" y="71.93" width="2.2" height="2.2" fill="#111"/>
<rect x="643.79" y="77.09" width="2.2" height="2.2" fill="#111"/>
<rect x="644.78" y="78.67" width="2.2" height="2.2" fill="#111"/>
<rect x="668.22" y="48.14" width="2.2" height="2.2" fill="#ff2a2a"/>
<rect x="667.56" y="52.90" width="2.2" height="2.2" fill="#ff2a2a"/>
<rect x="668.38" y="56.07" width="2.2" height="2.2" fill="#ff2a2a"/>
<rect x="666.28" y="62.02" width="2.2" height="2.2" fill="#ff2a2a"/>
<rect x="667.90" y="67.97" width="2.2" height="2.2" fill="#ff2a2a"/>
<rect x="666.48" y="73.12" width="2.2" height="2.2" fill="#ff2a2a"/>
<line x1="645.00" y1="68.27" x2="645.00" y2="73.83" stroke="#111" stroke-width="1.2"/>
<line x1="641.00" y1="68.27" x2="649.00" y2="68.27" stroke="#111" stroke-width="1.2"/>
<line x1="641.00" y1="73.83" x2="649.00" y2="73.83" stroke="#111" stroke-width="1.2"/>
<line x1="667.80" y1="57.97" x2="667.80" y2="65.90" stroke="#ff2a2a" stroke-width="1.2"/>
<line x1="663.80" y1="57.97" x2="671.80" y2="57.97" stroke="#ff2a2a" stroke-width="1.2"/>
<line x1="663.80" y1="65.90" x2="671.80" y2="65.90" stroke="#ff2a2a" stroke-width="1.2"/>
<line x1="629.00" y1="31.40" x2="629.00" y2="110.70" stroke="#222" stroke-width="1.2"/>
<line x1="625.50" y1="110.70" x2="629.00" y2="110.70" stroke="#222" stroke-width="1.2"/>
<text x="624.50" y="113.94" font-size="9" font-weight="bold" font-style="normal" text-anchor="end" fill="#111">0.0</text>
<line x1="625.50" y1="90.88" x2="629.00" y2="90.88" stroke="#222" stroke-width="1.2"/>
<text x="624.50" y="94.11" font-size="9" font-weight="bold" font-style="normal" text-anchor="end" fill="#111">0.5</text>
<line x1="625.50" y1="71.05" x2="629.00" y2="71.05" stroke="#222" stroke-width="1.2"/>
<text x="624.50" y="74.29" font-size="9" font-weight="bold" font-style="normal" text-anchor="end" fill="#111">1.0</text>
<line x1="625.50" y1="51.22" x2="629.00" y2="51.22" stroke="#222" stroke-width="1.2"/>
<text x="624.50" y="54.46" font-size="9" font-weight="bold" font-style="normal" text-anchor="end" fill="#111">1.5</text>
<line x1="625.50" y1="31.40" x2="629.00" y2="31.40" stroke="#222" stroke-width="1.2"/>
<text x="624.50" y="34.64" font-size="9" font-weight="bold" font-style="normal" text-anchor="end" fill="#111">2.0</text>
<line x1="629.00" y1="110.70" x2="684.00" y2="110.70" stroke="#222" stroke-width="1.2"/>
<line x1="644.90" y1="110.70" x2="644.90" y2="113.70" stroke="#222" stroke-width="1.2"/>
<line x1="667.70" y1="110.70" x2="667.70" y2="113.70" stroke="#222" stroke-width="1.2"/>
<text x="644.90" y="122.40" font-size="9" font-weight="bold" font-style="normal" text-anchor="middle" fill="#000">WT</text>
<text x="667.70" y="122.40" font-size="9" font-weight="bold" font-style="normal" text-anchor="middle" fill="#000">KO</text>
<text x="656.70" y="28.50" font-size="8.5" font-weight="normal" font-style="italic" text-anchor="middle" fill="#222" stroke="#222" stroke-width="0.2">0.0885</text>
<line x1="645.30" y1="33.00" x2="668.00" y2="33.00" stroke="#333" stroke-width="1.2"/>
<text x="598.60" y="69.60" font-size="8.95" font-weight="bold" font-style="normal" text-anchor="middle" fill="#000" transform="rotate(-90 598.60 69.60)">Relative SERCA1</text>
<text x="608.80" y="69.60" font-size="8.95" font-weight="bold" font-style="normal" text-anchor="middle" fill="#000" transform="rotate(-90 608.80 69.60)">protein levels (vs.TUB)</text>
<rect x="446.50" y="191.05" width="14.80" height="40.15" fill="#d6d6d6" stroke="#222" stroke-width="1.2"/>
<rect x="468.30" y="172.98" width="14.80" height="58.22" fill="#f4a3a8" stroke="#ff2a2a" stroke-width="1.2"/>
<rect x="454.54" y="185.13" width="2.2" height="2.2" fill="#111"/>
<rect x="454.32" y="189.15" width="2.2" height="2.2" fill="#111"/>
<rect x="451.19" y="189.95" width="2.2" height="2.2" fill="#111"/>
<rect x="451.34" y="190.75" width="2.2" height="2.2" fill="#111"/>
<rect x="451.67" y="191.96" width="2.2" height="2.2" fill="#111"/>
<rect x="454.66" y="194.77" width="2.2" height="2.2" fill="#111"/>
<rect x="474.34" y="161.84" width="2.2" height="2.2" fill="#ff2a2a"/>
<rect x="475.11" y="163.85" width="2.2" height="2.2" fill="#ff2a2a"/>
<rect x="473.80" y="169.88" width="2.2" height="2.2" fill="#ff2a2a"/>
<rect x="474.63" y="173.89" width="2.2" height="2.2" fill="#ff2a2a"/>
<rect x="474.14" y="177.91" width="2.2" height="2.2" fill="#ff2a2a"/>
<rect x="474.00" y="179.91" width="2.2" height="2.2" fill="#ff2a2a"/>
<line x1="453.90" y1="189.04" x2="453.90" y2="193.06" stroke="#111" stroke-width="1.2"/>
<line x1="449.90" y1="189.04" x2="457.90" y2="189.04" stroke="#111" stroke-width="1.2"/>
<line x1="449.90" y1="193.06" x2="457.90" y2="193.06" stroke="#111" stroke-width="1.2"/>
<line x1="475.70" y1="169.37" x2="475.70" y2="176.60" stroke="#ff2a2a" stroke-width="1.2"/>
<line x1="471.70" y1="169.37" x2="479.70" y2="169.37" stroke="#ff2a2a" stroke-width="1.2"/>
<line x1="471.70" y1="176.60" x2="479.70" y2="176.60" stroke="#ff2a2a" stroke-width="1.2"/>
<line x1="438.20" y1="150.90" x2="438.20" y2="231.20" stroke="#222" stroke-width="1.2"/>
<line x1="434.70" y1="231.20" x2="438.20" y2="231.20" stroke="#222" stroke-width="1.2"/>
<text x="433.70" y="234.44" font-size="9" font-weight="bold" font-style="normal" text-anchor="end" fill="#111">0.0</text>
<line x1="434.70" y1="211.12" x2="438.20" y2="211.12" stroke="#222" stroke-width="1.2"/>
<text x="433.70" y="214.37" font-size="9" font-weight="bold" font-style="normal" text-anchor="end" fill="#111">0.5</text>
<line x1="434.70" y1="191.05" x2="438.20" y2="191.05" stroke="#222" stroke-width="1.2"/>
<text x="433.70" y="194.29" font-size="9" font-weight="bold" font-style="normal" text-anchor="end" fill="#111">1.0</text>
<line x1="434.70" y1="170.97" x2="438.20" y2="170.97" stroke="#222" stroke-width="1.2"/>
<text x="433.70" y="174.22" font-size="9" font-weight="bold" font-style="normal" text-anchor="end" fill="#111">1.5</text>
<line x1="434.70" y1="150.90" x2="438.20" y2="150.90" stroke="#222" stroke-width="1.2"/>
<text x="433.70" y="154.14" font-size="9" font-weight="bold" font-style="normal" text-anchor="end" fill="#111">2.0</text>
<line x1="438.20" y1="231.20" x2="493.20" y2="231.20" stroke="#222" stroke-width="1.2"/>
<line x1="453.60" y1="231.20" x2="453.60" y2="234.20" stroke="#222" stroke-width="1.2"/>
<line x1="476.00" y1="231.20" x2="476.00" y2="234.20" stroke="#222" stroke-width="1.2"/>
<text x="453.60" y="242.40" font-size="9" font-weight="bold" font-style="normal" text-anchor="middle" fill="#000">WT</text>
<text x="476.00" y="242.40" font-size="9" font-weight="bold" font-style="normal" text-anchor="middle" fill="#000">KO</text>
<text x="464.40" y="149.80" font-size="8.5" font-weight="bold" font-style="italic" text-anchor="middle" fill="#222">0.0004</text>
<line x1="453.40" y1="154.50" x2="476.20" y2="154.50" stroke="#333" stroke-width="1.2"/>
<text x="405.90" y="189.60" font-size="8.95" font-weight="bold" font-style="normal" text-anchor="middle" fill="#000" transform="rotate(-90 405.90 189.60)">Relative ITPR1</text>
<text x="416.50" y="189.60" font-size="8.95" font-weight="bold" font-style="normal" text-anchor="middle" fill="#000" transform="rotate(-90 416.50 189.60)">protein levels (vs.TUB)</text>
<rect x="543.30" y="177.47" width="15.20" height="53.73" fill="#d6d6d6" stroke="#222" stroke-width="1.2"/>
<rect x="566.00" y="203.26" width="15.20" height="27.94" fill="#f4a3a8" stroke="#ff2a2a" stroke-width="1.2"/>
<rect x="550.14" y="162.93" width="2.2" height="2.2" fill="#111"/>
<rect x="550.14" y="173.68" width="2.2" height="2.2" fill="#111"/>
<rect x="551.42" y="177.44" width="2.2" height="2.2" fill="#111"/>
<rect x="550.53" y="179.05" width="2.2" height="2.2" fill="#111"/>
<rect x="551.52" y="181.74" width="2.2" height="2.2" fill="#111"/>
<rect x="551.23" y="188.73" width="2.2" height="2.2" fill="#111"/>
<rect x="574.46" y="190.87" width="2.2" height="2.2" fill="#ff2a2a"/>
<rect x="573.19" y="197.86" width="2.2" height="2.2" fill="#ff2a2a"/>
<rect x="571.15" y="200.55" width="2.2" height="2.2" fill="#ff2a2a"/>
<rect x="573.94" y="203.23" width="2.2" height="2.2" fill="#ff2a2a"/>
<rect x="574.36" y="205.92" width="2.2" height="2.2" fill="#ff2a2a"/>
<rect x="574.12" y="217.74" width="2.2" height="2.2" fill="#ff2a2a"/>
<line x1="550.90" y1="173.71" x2="550.90" y2="181.23" stroke="#111" stroke-width="1.2"/>
<line x1="546.90" y1="173.71" x2="554.90" y2="173.71" stroke="#111" stroke-width="1.2"/>
<line x1="546.90" y1="181.23" x2="554.90" y2="181.23" stroke="#111" stroke-width="1.2"/>
<line x1="573.60" y1="199.50" x2="573.60" y2="207.02" stroke="#ff2a2a" stroke-width="1.2"/>
<line x1="569.60" y1="199.50" x2="577.60" y2="199.50" stroke="#ff2a2a" stroke-width="1.2"/>
<line x1="569.60" y1="207.02" x2="577.60" y2="207.02" stroke="#ff2a2a" stroke-width="1.2"/>
<line x1="535.00" y1="150.60" x2="535.00" y2="231.20" stroke="#222" stroke-width="1.2"/>
<line x1="531.50" y1="231.20" x2="535.00" y2="231.20" stroke="#222" stroke-width="1.2"/>
<text x="530.50" y="234.44" font-size="9" font-weight="bold" font-style="normal" text-anchor="end" fill="#111">0.0</text>
<line x1="531.50" y1="204.33" x2="535.00" y2="204.33" stroke="#222" stroke-width="1.2"/>
<text x="530.50" y="207.57" font-size="9" font-weight="bold" font-style="normal" text-anchor="end" fill="#111">0.5</text>
<line x1="531.50" y1="177.47" x2="535.00" y2="177.47" stroke="#222" stroke-width="1.2"/>
<text x="530.50" y="180.71" font-size="9" font-weight="bold" font-style="normal" text-anchor="end" fill="#111">1.0</text>
<line x1="531.50" y1="150.60" x2="535.00" y2="150.60" stroke="#222" stroke-width="1.2"/>
<text x="530.50" y="153.84" font-size="9" font-weight="bold" font-style="normal" text-anchor="end" fill="#111">1.5</text>
<line x1="535.00" y1="231.20" x2="590.00" y2="231.20" stroke="#222" stroke-width="1.2"/>
<line x1="550.10" y1="231.20" x2="550.10" y2="234.20" stroke="#222" stroke-width="1.2"/>
<line x1="573.70" y1="231.20" x2="573.70" y2="234.20" stroke="#222" stroke-width="1.2"/>
<text x="550.10" y="242.40" font-size="9" font-weight="bold" font-style="normal" text-anchor="middle" fill="#000">WT</text>
<text x="573.70" y="242.40" font-size="9" font-weight="bold" font-style="normal" text-anchor="middle" fill="#000">KO</text>
<text x="562.30" y="149.30" font-size="8.5" font-weight="bold" font-style="italic" text-anchor="middle" fill="#222">0.0004</text>
<line x1="550.60" y1="154.20" x2="574.20" y2="154.20" stroke="#333" stroke-width="1.2"/>
<text x="503.00" y="189.60" font-size="8.95" font-weight="bold" font-style="normal" text-anchor="middle" fill="#000" transform="rotate(-90 503.00 189.60)">Relative ITPR2</text>
<text x="513.20" y="189.60" font-size="8.95" font-weight="bold" font-style="normal" text-anchor="middle" fill="#000" transform="rotate(-90 513.20 189.60)">protein levels (vs.TUB)</text>
<rect x="635.20" y="215.46" width="14.80" height="16.14" fill="#d6d6d6" stroke="#222" stroke-width="1.2"/>
<rect x="658.00" y="173.17" width="14.80" height="58.43" fill="#f4a3a8" stroke="#ff2a2a" stroke-width="1.2"/>
<rect x="641.78" y="207.10" width="2.2" height="2.2" fill="#111"/>
<rect x="642.36" y="212.75" width="2.2" height="2.2" fill="#111"/>
<rect x="640.34" y="215.17" width="2.2" height="2.2" fill="#111"/>
<rect x="642.83" y="216.78" width="2.2" height="2.2" fill="#111"/>
<rect x="641.79" y="219.20" width="2.2" height="2.2" fill="#111"/>
<rect x="640.64" y="220.01" width="2.2" height="2.2" fill="#111"/>
<rect x="662.55" y="156.26" width="2.2" height="2.2" fill="#ff2a2a"/>
<rect x="665.72" y="167.55" width="2.2" height="2.2" fill="#ff2a2a"/>
<rect x="666.26" y="170.78" width="2.2" height="2.2" fill="#ff2a2a"/>
<rect x="662.65" y="174.01" width="2.2" height="2.2" fill="#ff2a2a"/>
<rect x="665.50" y="175.62" width="2.2" height="2.2" fill="#ff2a2a"/>
<rect x="663.94" y="188.54" width="2.2" height="2.2" fill="#ff2a2a"/>
<line x1="642.60" y1="213.04" x2="642.60" y2="217.88" stroke="#111" stroke-width="1.2"/>
<line x1="638.60" y1="213.04" x2="646.60" y2="213.04" stroke="#111" stroke-width="1.2"/>
<line x1="638.60" y1="217.88" x2="646.60" y2="217.88" stroke="#111" stroke-width="1.2"/>
<line x1="665.40" y1="168.33" x2="665.40" y2="178.02" stroke="#ff2a2a" stroke-width="1.2"/>
<line x1="661.40" y1="168.33" x2="669.40" y2="168.33" stroke="#ff2a2a" stroke-width="1.2"/>
<line x1="661.40" y1="178.02" x2="669.40" y2="178.02" stroke="#ff2a2a" stroke-width="1.2"/>
<line x1="627.30" y1="150.90" x2="627.30" y2="231.60" stroke="#222" stroke-width="1.2"/>
<line x1="623.80" y1="231.60" x2="627.30" y2="231.60" stroke="#222" stroke-width="1.2"/>
<text x="622.80" y="234.84" font-size="9" font-weight="bold" font-style="normal" text-anchor="end" fill="#111">0</text>
<line x1="623.80" y1="215.46" x2="627.30" y2="215.46" stroke="#222" stroke-width="1.2"/>
<text x="622.80" y="218.70" font-size="9" font-weight="bold" font-style="normal" text-anchor="end" fill="#111">1</text>
<line x1="623.80" y1="199.32" x2="627.30" y2="199.32" stroke="#222" stroke-width="1.2"/>
<text x="622.80" y="202.56" font-size="9" font-weight="bold" font-style="normal" text-anchor="end" fill="#111">2</text>
<line x1="623.80" y1="183.18" x2="627.30" y2="183.18" stroke="#222" stroke-width="1.2"/>
<text x="622.80" y="186.42" font-size="9" font-weight="bold" font-style="normal" text-anchor="end" fill="#111">3</text>
<line x1="623.80" y1="167.04" x2="627.30" y2="167.04" stroke="#222" stroke-width="1.2"/>
<text x="622.80" y="170.28" font-size="9" font-weight="bold" font-style="normal" text-anchor="end" fill="#111">4</text>
<line x1="623.80" y1="150.90" x2="627.30" y2="150.90" stroke="#222" stroke-width="1.2"/>
<text x="622.80" y="154.14" font-size="9" font-weight="bold" font-style="normal" text-anchor="end" fill="#111">5</text>
<line x1="627.30" y1="231.60" x2="682.30" y2="231.60" stroke="#222" stroke-width="1.2"/>
<line x1="642.30" y1="231.60" x2="642.30" y2="234.60" stroke="#222" stroke-width="1.2"/>
<line x1="666.00" y1="231.60" x2="666.00" y2="234.60" stroke="#222" stroke-width="1.2"/>
<text x="642.30" y="242.40" font-size="9" font-weight="bold" font-style="normal" text-anchor="middle" fill="#000">WT</text>
<text x="666.00" y="242.40" font-size="9" font-weight="bold" font-style="normal" text-anchor="middle" fill="#000">KO</text>
<text x="654.20" y="149.00" font-size="8.5" font-weight="bold" font-style="italic" text-anchor="middle" fill="#222">&lt;0.0001</text>
<line x1="642.80" y1="153.70" x2="666.00" y2="153.70" stroke="#333" stroke-width="1.2"/>
<text x="603.00" y="189.60" font-size="8.95" font-weight="bold" font-style="normal" text-anchor="middle" fill="#000" transform="rotate(-90 603.00 189.60)">Relative ITPR3</text>
<text x="613.70" y="189.60" font-size="8.95" font-weight="bold" font-style="normal" text-anchor="middle" fill="#000" transform="rotate(-90 613.70 189.60)">protein levels (vs. TUB)</text>
<text x="2.20" y="259.70" font-size="16" font-weight="bold" font-style="normal" text-anchor="start" fill="#000">d</text>
<rect x="49.20" y="287.10" width="136.80" height="93.00" fill="#f2f2f2" stroke="none" stroke-width="1"/>
<rect x="49.20" y="287.10" width="17.00" height="93.00" fill="#e4e4e4" stroke="none" stroke-width="1"/>
<polygon points="48.60,361.20 50.70,361.10 53.72,361.02 57.24,360.91 60.82,360.73 64.02,360.44 66.40,359.99 67.85,359.12 68.71,358.17 69.18,357.10 69.49,355.89 69.86,354.51 70.50,352.92 71.41,350.88 72.42,348.56 73.49,346.06 74.57,343.50 75.62,340.97 76.60,338.58 77.51,336.38 78.37,334.20 79.21,332.06 80.04,329.96 80.86,327.92 81.70,325.94 82.54,324.07 83.36,322.22 84.18,320.43 85.02,318.73 85.89,317.15 86.80,315.73 87.78,314.81 88.83,314.03 89.90,313.37 90.97,312.83 92.02,312.40 93.00,312.07 93.89,311.92 94.71,311.86 95.49,311.92 96.29,312.10 97.15,312.41 98.10,312.87 99.15,313.54 100.28,314.38 101.46,315.35 102.68,316.43 103.93,317.55 105.20,318.70 106.50,319.91 107.85,321.21 109.23,322.57 110.63,323.95 112.02,325.32 113.40,326.64 114.77,327.95 116.14,329.29 117.51,330.61 118.87,331.89 120.24,333.09 121.60,334.17 122.93,335.12 124.23,335.95 125.52,336.71 126.84,337.42 128.22,338.12 129.70,338.86 131.29,339.67 132.97,340.49 134.72,341.31 136.49,342.10 138.26,342.84 140.00,343.51 141.68,344.09 143.33,344.61 144.98,345.07 146.66,345.50 148.39,345.91 150.20,346.33 151.99,346.76 153.70,347.17 155.46,347.57 157.41,347.95 159.68,348.33 162.40,348.69 165.95,349.08 170.30,349.48 174.96,349.86 179.46,350.22 183.30,350.55 186.00,350.85 186.00,358.16 183.30,358.24 179.46,358.29 174.96,358.31 170.30,358.31 165.95,358.30 162.40,358.28 159.68,358.23 157.41,358.18 155.46,358.11 153.70,358.02 151.99,357.92 150.20,357.80 148.39,357.65 146.66,357.50 144.98,357.33 143.33,357.13 141.68,356.88 140.00,356.56 138.26,356.16 136.49,355.68 134.72,355.16 132.97,354.60 131.29,354.04 129.70,353.50 128.22,352.97 126.84,352.47 125.52,351.97 124.23,351.42 122.93,350.80 121.60,350.06 120.24,349.19 118.87,348.20 117.51,347.13 116.14,346.02 114.77,344.89 113.40,343.79 112.02,342.68 110.63,341.52 109.23,340.35 107.85,339.21 106.50,338.12 105.20,337.12 103.93,336.15 102.68,335.21 101.46,334.32 100.28,333.53 99.15,332.87 98.10,332.39 97.15,332.06 96.29,331.87 95.49,331.82 94.71,331.90 93.89,332.08 93.00,332.37 92.02,332.70 90.97,333.13 89.90,333.67 88.83,334.33 87.78,335.11 86.80,336.03 85.89,336.75 85.02,337.63 84.18,338.63 83.36,339.73 82.54,340.88 81.70,342.05 80.86,343.20 80.04,344.41 79.21,345.68 78.37,347.00 77.51,348.35 76.60,349.72 75.62,351.12 74.57,352.66 73.49,354.23 72.42,355.74 71.41,357.07 70.50,358.11 69.86,359.04 69.49,359.76 69.18,360.30 68.71,360.70 67.85,360.99 66.40,361.19 64.02,361.58 60.82,361.80 57.24,361.92 53.72,361.96 50.70,361.98 48.60,362.01" fill="#cfcfcf" opacity="0.75"/>
<line x1="67.80" y1="359.15" x2="67.80" y2="360.99" stroke="#c4c4c4" stroke-width="0.45"/>
<line x1="69.40" y1="356.25" x2="69.40" y2="359.92" stroke="#c4c4c4" stroke-width="0.45"/>
<line x1="71.00" y1="351.80" x2="71.00" y2="357.54" stroke="#c4c4c4" stroke-width="0.45"/>
<line x1="72.60" y1="348.14" x2="72.60" y2="355.49" stroke="#c4c4c4" stroke-width="0.45"/>
<line x1="74.20" y1="344.37" x2="74.20" y2="353.19" stroke="#c4c4c4" stroke-width="0.45"/>
<line x1="75.80" y1="340.53" x2="75.80" y2="350.86" stroke="#c4c4c4" stroke-width="0.45"/>
<line x1="77.40" y1="336.64" x2="77.40" y2="348.51" stroke="#c4c4c4" stroke-width="0.45"/>
<line x1="79.00" y1="332.60" x2="79.00" y2="346.02" stroke="#c4c4c4" stroke-width="0.45"/>
<line x1="80.60" y1="328.56" x2="80.60" y2="343.58" stroke="#c4c4c4" stroke-width="0.45"/>
<line x1="82.20" y1="324.83" x2="82.20" y2="341.35" stroke="#c4c4c4" stroke-width="0.45"/>
<line x1="83.80" y1="321.26" x2="83.80" y2="339.14" stroke="#c4c4c4" stroke-width="0.45"/>
<line x1="85.40" y1="318.03" x2="85.40" y2="337.24" stroke="#c4c4c4" stroke-width="0.45"/>
<line x1="87.00" y1="315.54" x2="87.00" y2="335.84" stroke="#c4c4c4" stroke-width="0.45"/>
<line x1="88.60" y1="314.20" x2="88.60" y2="334.50" stroke="#c4c4c4" stroke-width="0.45"/>
<line x1="90.20" y1="313.22" x2="90.20" y2="333.52" stroke="#c4c4c4" stroke-width="0.45"/>
<line x1="91.80" y1="312.49" x2="91.80" y2="332.79" stroke="#c4c4c4" stroke-width="0.45"/>
<line x1="93.40" y1="312.00" x2="93.40" y2="332.24" stroke="#c4c4c4" stroke-width="0.45"/>
<line x1="95.00" y1="311.88" x2="95.00" y2="331.87" stroke="#c4c4c4" stroke-width="0.45"/>
<line x1="96.60" y1="312.21" x2="96.60" y2="331.94" stroke="#c4c4c4" stroke-width="0.45"/>
<line x1="98.20" y1="312.94" x2="98.20" y2="332.43" stroke="#c4c4c4" stroke-width="0.45"/>
<line x1="99.80" y1="314.02" x2="99.80" y2="333.25" stroke="#c4c4c4" stroke-width="0.45"/>
<line x1="101.40" y1="315.31" x2="101.40" y2="334.28" stroke="#c4c4c4" stroke-width="0.45"/>
<line x1="103.00" y1="316.72" x2="103.00" y2="335.45" stroke="#c4c4c4" stroke-width="0.45"/>
<line x1="104.60" y1="318.16" x2="104.60" y2="336.66" stroke="#c4c4c4" stroke-width="0.45"/>
<line x1="106.20" y1="319.63" x2="106.20" y2="337.88" stroke="#c4c4c4" stroke-width="0.45"/>
<line x1="107.80" y1="321.16" x2="107.80" y2="339.16" stroke="#c4c4c4" stroke-width="0.45"/>
<line x1="109.40" y1="322.73" x2="109.40" y2="340.49" stroke="#c4c4c4" stroke-width="0.45"/>
<line x1="111.00" y1="324.31" x2="111.00" y2="341.83" stroke="#c4c4c4" stroke-width="0.45"/>
<line x1="112.60" y1="325.87" x2="112.60" y2="343.15" stroke="#c4c4c4" stroke-width="0.45"/>
<line x1="114.20" y1="327.41" x2="114.20" y2="344.44" stroke="#c4c4c4" stroke-width="0.45"/>
<line x1="115.80" y1="328.96" x2="115.80" y2="345.74" stroke="#c4c4c4" stroke-width="0.45"/>
<line x1="117.40" y1="330.51" x2="117.40" y2="347.04" stroke="#c4c4c4" stroke-width="0.45"/>
<line x1="119.00" y1="332.00" x2="119.00" y2="348.29" stroke="#c4c4c4" stroke-width="0.45"/>
<line x1="120.60" y1="333.38" x2="120.60" y2="349.42" stroke="#c4c4c4" stroke-width="0.45"/>
<line x1="122.20" y1="334.60" x2="122.20" y2="350.40" stroke="#c4c4c4" stroke-width="0.45"/>
<line x1="123.80" y1="335.68" x2="123.80" y2="351.22" stroke="#c4c4c4" stroke-width="0.45"/>
<line x1="125.40" y1="336.64" x2="125.40" y2="351.92" stroke="#c4c4c4" stroke-width="0.45"/>
<line x1="127.00" y1="337.50" x2="127.00" y2="352.53" stroke="#c4c4c4" stroke-width="0.45"/>
<line x1="128.60" y1="338.31" x2="128.60" y2="353.10" stroke="#c4c4c4" stroke-width="0.45"/>
<line x1="130.20" y1="339.11" x2="130.20" y2="353.67" stroke="#c4c4c4" stroke-width="0.45"/>
<line x1="131.80" y1="339.92" x2="131.80" y2="354.21" stroke="#c4c4c4" stroke-width="0.45"/>
<line x1="133.40" y1="340.69" x2="133.40" y2="354.74" stroke="#c4c4c4" stroke-width="0.45"/>
<line x1="135.00" y1="341.44" x2="135.00" y2="355.24" stroke="#c4c4c4" stroke-width="0.45"/>
<line x1="136.60" y1="342.15" x2="136.60" y2="355.71" stroke="#c4c4c4" stroke-width="0.45"/>
<line x1="138.20" y1="342.82" x2="138.20" y2="356.14" stroke="#c4c4c4" stroke-width="0.45"/>
<line x1="139.80" y1="343.43" x2="139.80" y2="356.51" stroke="#c4c4c4" stroke-width="0.45"/>
<line x1="141.40" y1="344.00" x2="141.40" y2="356.83" stroke="#c4c4c4" stroke-width="0.45"/>
<line x1="143.00" y1="344.50" x2="143.00" y2="357.08" stroke="#c4c4c4" stroke-width="0.45"/>
<line x1="144.60" y1="344.96" x2="144.60" y2="357.29" stroke="#c4c4c4" stroke-width="0.45"/>
<line x1="146.20" y1="345.38" x2="146.20" y2="357.46" stroke="#c4c4c4" stroke-width="0.45"/>
<line x1="147.80" y1="345.77" x2="147.80" y2="357.60" stroke="#c4c4c4" stroke-width="0.45"/>
<line x1="149.40" y1="346.15" x2="149.40" y2="357.74" stroke="#c4c4c4" stroke-width="0.45"/>
<line x1="151.00" y1="346.52" x2="151.00" y2="357.86" stroke="#c4c4c4" stroke-width="0.45"/>
<line x1="152.60" y1="346.91" x2="152.60" y2="357.96" stroke="#c4c4c4" stroke-width="0.45"/>
<line x1="154.20" y1="347.29" x2="154.20" y2="358.05" stroke="#c4c4c4" stroke-width="0.45"/>
<line x1="155.80" y1="347.64" x2="155.80" y2="358.12" stroke="#c4c4c4" stroke-width="0.45"/>
<line x1="157.40" y1="347.95" x2="157.40" y2="358.17" stroke="#c4c4c4" stroke-width="0.45"/>
<line x1="159.00" y1="348.21" x2="159.00" y2="358.22" stroke="#c4c4c4" stroke-width="0.45"/>
<line x1="160.60" y1="348.45" x2="160.60" y2="358.25" stroke="#c4c4c4" stroke-width="0.45"/>
<line x1="162.20" y1="348.66" x2="162.20" y2="358.28" stroke="#c4c4c4" stroke-width="0.45"/>
<line x1="163.80" y1="348.85" x2="163.80" y2="358.29" stroke="#c4c4c4" stroke-width="0.45"/>
<line x1="165.40" y1="349.02" x2="165.40" y2="358.29" stroke="#c4c4c4" stroke-width="0.45"/>
<line x1="167.00" y1="349.18" x2="167.00" y2="358.30" stroke="#c4c4c4" stroke-width="0.45"/>
<line x1="168.60" y1="349.32" x2="168.60" y2="358.30" stroke="#c4c4c4" stroke-width="0.45"/>
<line x1="170.20" y1="349.47" x2="170.20" y2="358.31" stroke="#c4c4c4" stroke-width="0.45"/>
<line x1="171.80" y1="349.60" x2="171.80" y2="358.31" stroke="#c4c4c4" stroke-width="0.45"/>
<line x1="173.40" y1="349.73" x2="173.40" y2="358.31" stroke="#c4c4c4" stroke-width="0.45"/>
<line x1="175.00" y1="349.86" x2="175.00" y2="358.31" stroke="#c4c4c4" stroke-width="0.45"/>
<line x1="176.60" y1="349.99" x2="176.60" y2="358.30" stroke="#c4c4c4" stroke-width="0.45"/>
<line x1="178.20" y1="350.12" x2="178.20" y2="358.29" stroke="#c4c4c4" stroke-width="0.45"/>
<line x1="179.80" y1="350.25" x2="179.80" y2="358.28" stroke="#c4c4c4" stroke-width="0.45"/>
<line x1="181.40" y1="350.39" x2="181.40" y2="358.26" stroke="#c4c4c4" stroke-width="0.45"/>
<line x1="183.00" y1="350.52" x2="183.00" y2="358.24" stroke="#c4c4c4" stroke-width="0.45"/>
<line x1="184.60" y1="350.69" x2="184.60" y2="358.20" stroke="#c4c4c4" stroke-width="0.45"/>
<polygon points="48.60,361.20 50.68,361.15 53.69,361.11 57.18,361.06 60.75,360.98 63.96,360.83 66.40,360.62 67.98,360.00 69.04,359.37 69.74,358.69 70.27,357.91 70.80,356.99 71.50,355.90 72.35,354.56 73.20,352.99 74.05,351.29 74.90,349.54 75.75,347.85 76.60,346.32 77.45,344.90 78.30,343.53 79.15,342.21 80.00,340.96 80.85,339.81 81.70,338.76 82.55,337.96 83.40,337.26 84.25,336.66 85.10,336.13 85.95,335.65 86.80,335.22 87.63,335.10 88.42,335.03 89.22,335.02 90.04,335.07 90.93,335.18 91.90,335.34 92.94,335.62 94.03,335.95 95.18,336.35 96.40,336.79 97.70,337.29 99.10,337.84 100.63,338.49 102.28,339.22 104.01,340.01 105.79,340.81 107.57,341.61 109.30,342.36 111.00,343.07 112.70,343.77 114.40,344.46 116.10,345.14 117.80,345.81 119.50,346.47 121.20,347.12 122.90,347.77 124.59,348.41 126.29,349.03 127.99,349.62 129.70,350.18 131.41,350.69 133.13,351.17 134.85,351.62 136.57,352.04 138.29,352.46 140.00,352.88 141.59,353.27 143.03,353.65 144.47,354.01 146.05,354.37 147.91,354.75 150.20,355.16 153.07,355.73 156.43,356.34 160.07,356.97 163.79,357.59 167.37,358.18 170.60,358.72 173.63,359.07 176.67,359.40 179.58,359.69 182.19,359.96 184.38,360.19 186.00,360.39 186.00,366.88 184.38,366.84 182.19,366.76 179.58,366.64 176.67,366.49 173.63,366.32 170.60,366.11 167.37,366.01 163.79,365.86 160.07,365.69 156.43,365.50 153.07,365.33 150.20,365.21 147.91,365.02 146.05,364.86 144.47,364.71 143.03,364.57 141.59,364.42 140.00,364.25 138.29,364.05 136.57,363.86 134.85,363.65 133.13,363.43 131.41,363.17 129.70,362.88 127.99,362.55 126.29,362.18 124.59,361.78 122.90,361.36 121.20,360.93 119.50,360.50 117.80,360.07 116.10,359.62 114.40,359.16 112.70,358.69 111.00,358.21 109.30,357.71 107.57,357.18 105.79,356.61 104.01,356.03 102.28,355.46 100.63,354.95 99.10,354.52 97.70,354.13 96.40,353.79 95.18,353.50 94.03,353.26 92.94,353.08 91.90,352.96 90.93,352.84 90.04,352.77 89.22,352.76 88.42,352.81 87.63,352.92 86.80,353.08 85.95,353.01 85.10,352.98 84.25,353.01 83.40,353.11 82.55,353.30 81.70,353.60 80.85,353.88 80.00,354.28 79.15,354.77 78.30,355.33 77.45,355.94 76.60,356.60 75.75,357.37 74.90,358.30 74.05,359.29 73.20,360.24 72.35,361.05 71.50,361.63 70.80,361.96 70.27,362.12 69.74,362.14 69.04,362.06 67.98,361.93 66.40,361.78 63.96,361.94 60.75,362.03 57.18,362.05 53.69,362.04 50.68,362.02 48.60,362.01" fill="#f5b3b7" opacity="0.8"/>
<line x1="67.80" y1="360.08" x2="67.80" y2="361.91" stroke="#ee9ca1" stroke-width="0.45"/>
<line x1="69.40" y1="359.02" x2="69.40" y2="362.10" stroke="#ee9ca1" stroke-width="0.45"/>
<line x1="71.00" y1="356.68" x2="71.00" y2="361.86" stroke="#ee9ca1" stroke-width="0.45"/>
<line x1="72.60" y1="354.10" x2="72.60" y2="360.81" stroke="#ee9ca1" stroke-width="0.45"/>
<line x1="74.20" y1="350.98" x2="74.20" y2="359.11" stroke="#ee9ca1" stroke-width="0.45"/>
<line x1="75.80" y1="347.76" x2="75.80" y2="357.33" stroke="#ee9ca1" stroke-width="0.45"/>
<line x1="77.40" y1="344.98" x2="77.40" y2="355.98" stroke="#ee9ca1" stroke-width="0.45"/>
<line x1="79.00" y1="342.44" x2="79.00" y2="354.86" stroke="#ee9ca1" stroke-width="0.45"/>
<line x1="80.60" y1="340.15" x2="80.60" y2="354.00" stroke="#ee9ca1" stroke-width="0.45"/>
<line x1="82.20" y1="338.29" x2="82.20" y2="353.42" stroke="#ee9ca1" stroke-width="0.45"/>
<line x1="83.80" y1="336.98" x2="83.80" y2="353.06" stroke="#ee9ca1" stroke-width="0.45"/>
<line x1="85.40" y1="335.96" x2="85.40" y2="352.99" stroke="#ee9ca1" stroke-width="0.45"/>
<line x1="87.00" y1="335.19" x2="87.00" y2="353.04" stroke="#ee9ca1" stroke-width="0.45"/>
<line x1="88.60" y1="335.03" x2="88.60" y2="352.80" stroke="#ee9ca1" stroke-width="0.45"/>
<line x1="90.20" y1="335.09" x2="90.20" y2="352.78" stroke="#ee9ca1" stroke-width="0.45"/>
<line x1="91.80" y1="335.32" x2="91.80" y2="352.94" stroke="#ee9ca1" stroke-width="0.45"/>
<line x1="93.40" y1="335.76" x2="93.40" y2="353.15" stroke="#ee9ca1" stroke-width="0.45"/>
<line x1="95.00" y1="336.29" x2="95.00" y2="353.46" stroke="#ee9ca1" stroke-width="0.45"/>
<line x1="96.60" y1="336.87" x2="96.60" y2="353.84" stroke="#ee9ca1" stroke-width="0.45"/>
<line x1="98.20" y1="337.49" x2="98.20" y2="354.27" stroke="#ee9ca1" stroke-width="0.45"/>
<line x1="99.80" y1="338.14" x2="99.80" y2="354.72" stroke="#ee9ca1" stroke-width="0.45"/>
<line x1="101.40" y1="338.83" x2="101.40" y2="355.19" stroke="#ee9ca1" stroke-width="0.45"/>
<line x1="103.00" y1="339.55" x2="103.00" y2="355.70" stroke="#ee9ca1" stroke-width="0.45"/>
<line x1="104.60" y1="340.27" x2="104.60" y2="356.22" stroke="#ee9ca1" stroke-width="0.45"/>
<line x1="106.20" y1="341.00" x2="106.20" y2="356.74" stroke="#ee9ca1" stroke-width="0.45"/>
<line x1="107.80" y1="341.71" x2="107.80" y2="357.25" stroke="#ee9ca1" stroke-width="0.45"/>
<line x1="109.40" y1="342.40" x2="109.40" y2="357.74" stroke="#ee9ca1" stroke-width="0.45"/>
<line x1="111.00" y1="343.07" x2="111.00" y2="358.21" stroke="#ee9ca1" stroke-width="0.45"/>
<line x1="112.60" y1="343.73" x2="112.60" y2="358.66" stroke="#ee9ca1" stroke-width="0.45"/>
<line x1="114.20" y1="344.38" x2="114.20" y2="359.10" stroke="#ee9ca1" stroke-width="0.45"/>
<line x1="115.80" y1="345.02" x2="115.80" y2="359.54" stroke="#ee9ca1" stroke-width="0.45"/>
<line x1="117.40" y1="345.66" x2="117.40" y2="359.96" stroke="#ee9ca1" stroke-width="0.45"/>
<line x1="119.00" y1="346.28" x2="119.00" y2="360.37" stroke="#ee9ca1" stroke-width="0.45"/>
<line x1="120.60" y1="346.89" x2="120.60" y2="360.78" stroke="#ee9ca1" stroke-width="0.45"/>
<line x1="122.20" y1="347.51" x2="122.20" y2="361.19" stroke="#ee9ca1" stroke-width="0.45"/>
<line x1="123.80" y1="348.11" x2="123.80" y2="361.59" stroke="#ee9ca1" stroke-width="0.45"/>
<line x1="125.40" y1="348.71" x2="125.40" y2="361.97" stroke="#ee9ca1" stroke-width="0.45"/>
<line x1="127.00" y1="349.28" x2="127.00" y2="362.33" stroke="#ee9ca1" stroke-width="0.45"/>
<line x1="128.60" y1="349.82" x2="128.60" y2="362.67" stroke="#ee9ca1" stroke-width="0.45"/>
<line x1="130.20" y1="350.33" x2="130.20" y2="362.97" stroke="#ee9ca1" stroke-width="0.45"/>
<line x1="131.80" y1="350.80" x2="131.80" y2="363.23" stroke="#ee9ca1" stroke-width="0.45"/>
<line x1="133.40" y1="351.24" x2="133.40" y2="363.46" stroke="#ee9ca1" stroke-width="0.45"/>
<line x1="135.00" y1="351.65" x2="135.00" y2="363.67" stroke="#ee9ca1" stroke-width="0.45"/>
<line x1="136.60" y1="352.05" x2="136.60" y2="363.86" stroke="#ee9ca1" stroke-width="0.45"/>
<line x1="138.20" y1="352.44" x2="138.20" y2="364.04" stroke="#ee9ca1" stroke-width="0.45"/>
<line x1="139.80" y1="352.83" x2="139.80" y2="364.22" stroke="#ee9ca1" stroke-width="0.45"/>
<line x1="141.40" y1="353.23" x2="141.40" y2="364.40" stroke="#ee9ca1" stroke-width="0.45"/>
<line x1="143.00" y1="353.64" x2="143.00" y2="364.57" stroke="#ee9ca1" stroke-width="0.45"/>
<line x1="144.60" y1="354.04" x2="144.60" y2="364.72" stroke="#ee9ca1" stroke-width="0.45"/>
<line x1="146.20" y1="354.40" x2="146.20" y2="364.87" stroke="#ee9ca1" stroke-width="0.45"/>
<line x1="147.80" y1="354.73" x2="147.80" y2="365.01" stroke="#ee9ca1" stroke-width="0.45"/>
<line x1="149.40" y1="355.02" x2="149.40" y2="365.14" stroke="#ee9ca1" stroke-width="0.45"/>
<line x1="151.00" y1="355.32" x2="151.00" y2="365.24" stroke="#ee9ca1" stroke-width="0.45"/>
<line x1="152.60" y1="355.64" x2="152.60" y2="365.31" stroke="#ee9ca1" stroke-width="0.45"/>
<line x1="154.20" y1="355.94" x2="154.20" y2="365.39" stroke="#ee9ca1" stroke-width="0.45"/>
<line x1="155.80" y1="356.23" x2="155.80" y2="365.47" stroke="#ee9ca1" stroke-width="0.45"/>
<line x1="157.40" y1="356.51" x2="157.40" y2="365.55" stroke="#ee9ca1" stroke-width="0.45"/>
<line x1="159.00" y1="356.78" x2="159.00" y2="365.63" stroke="#ee9ca1" stroke-width="0.45"/>
<line x1="160.60" y1="357.06" x2="160.60" y2="365.71" stroke="#ee9ca1" stroke-width="0.45"/>
<line x1="162.20" y1="357.32" x2="162.20" y2="365.79" stroke="#ee9ca1" stroke-width="0.45"/>
<line x1="163.80" y1="357.59" x2="163.80" y2="365.86" stroke="#ee9ca1" stroke-width="0.45"/>
<line x1="165.40" y1="357.85" x2="165.40" y2="365.93" stroke="#ee9ca1" stroke-width="0.45"/>
<line x1="167.00" y1="358.12" x2="167.00" y2="366.00" stroke="#ee9ca1" stroke-width="0.45"/>
<line x1="168.60" y1="358.39" x2="168.60" y2="366.05" stroke="#ee9ca1" stroke-width="0.45"/>
<line x1="170.20" y1="358.65" x2="170.20" y2="366.10" stroke="#ee9ca1" stroke-width="0.45"/>
<line x1="171.80" y1="358.86" x2="171.80" y2="366.19" stroke="#ee9ca1" stroke-width="0.45"/>
<line x1="173.40" y1="359.05" x2="173.40" y2="366.30" stroke="#ee9ca1" stroke-width="0.45"/>
<line x1="175.00" y1="359.22" x2="175.00" y2="366.39" stroke="#ee9ca1" stroke-width="0.45"/>
<line x1="176.60" y1="359.39" x2="176.60" y2="366.49" stroke="#ee9ca1" stroke-width="0.45"/>
<line x1="178.20" y1="359.55" x2="178.20" y2="366.57" stroke="#ee9ca1" stroke-width="0.45"/>
<line x1="179.80" y1="359.72" x2="179.80" y2="366.65" stroke="#ee9ca1" stroke-width="0.45"/>
<line x1="181.40" y1="359.88" x2="181.40" y2="366.72" stroke="#ee9ca1" stroke-width="0.45"/>
<line x1="183.00" y1="360.05" x2="183.00" y2="366.79" stroke="#ee9ca1" stroke-width="0.45"/>
<line x1="184.60" y1="360.22" x2="184.60" y2="366.84" stroke="#ee9ca1" stroke-width="0.45"/>
<polyline points="48.60,361.61 50.70,361.54 53.72,361.49 57.24,361.42 60.82,361.27 64.02,361.01 66.40,360.59 67.85,360.05 68.71,359.43 69.18,358.70 69.49,357.82 69.86,356.77 70.50,355.52 71.41,353.97 72.42,352.15 73.49,350.15 74.57,348.08 75.62,346.05 76.60,344.15 77.51,342.36 78.37,340.60 79.21,338.87 80.04,337.19 80.86,335.56 81.70,334.00 82.54,332.48 83.36,330.98 84.18,329.53 85.02,328.18 85.89,326.95 86.80,325.88 87.78,324.96 88.83,324.18 89.90,323.52 90.97,322.98 92.02,322.55 93.00,322.22 93.89,322.00 94.71,321.88 95.49,321.87 96.29,321.98 97.15,322.23 98.10,322.63 99.15,323.20 100.28,323.95 101.46,324.84 102.68,325.82 103.93,326.85 105.20,327.91 106.50,329.01 107.85,330.21 109.23,331.46 110.63,332.73 112.02,334.00 113.40,335.22 114.77,336.42 116.14,337.65 117.51,338.87 118.87,340.04 120.24,341.14 121.60,342.12 122.93,342.96 124.23,343.69 125.52,344.34 126.84,344.94 128.22,345.55 129.70,346.18 131.29,346.85 132.97,347.55 134.72,348.23 136.49,348.89 138.26,349.50 140.00,350.04 141.68,350.49 143.33,350.87 144.98,351.20 146.66,351.50 148.39,351.78 150.20,352.06 151.99,352.34 153.70,352.60 155.46,352.84 157.41,353.06 159.68,353.28 162.40,353.49 165.95,353.69 170.30,353.89 174.96,354.08 179.46,354.25 183.30,354.40 186.00,354.50" fill="none" stroke="#000" stroke-width="1.6" stroke-linejoin="round"/>
<polyline points="48.60,361.61 50.68,361.59 53.69,361.58 57.18,361.56 60.75,361.50 63.96,361.39 66.40,361.20 67.98,360.97 69.04,360.72 69.74,360.41 70.27,360.01 70.80,359.48 71.50,358.76 72.35,357.80 73.20,356.61 74.05,355.29 74.90,353.92 75.75,352.61 76.60,351.46 77.45,350.42 78.30,349.43 79.15,348.49 80.00,347.62 80.85,346.85 81.70,346.18 82.55,345.63 83.40,345.19 84.25,344.83 85.10,344.55 85.95,344.33 86.80,344.15 87.63,344.01 88.42,343.92 89.22,343.89 90.04,343.92 90.93,344.01 91.90,344.15 92.94,344.35 94.03,344.61 95.18,344.92 96.40,345.29 97.70,345.71 99.10,346.18 100.63,346.72 102.28,347.34 104.01,348.02 105.79,348.71 107.57,349.39 109.30,350.04 111.00,350.64 112.70,351.23 114.40,351.81 116.10,352.38 117.80,352.94 119.50,353.49 121.20,354.03 122.90,354.57 124.59,355.10 126.29,355.61 127.99,356.09 129.70,356.53 131.41,356.93 133.13,357.30 134.85,357.63 136.57,357.95 138.29,358.26 140.00,358.56 141.59,358.85 143.03,359.11 144.47,359.36 146.05,359.61 147.91,359.88 150.20,360.19 153.07,360.53 156.43,360.92 160.07,361.33 163.79,361.73 167.37,362.10 170.60,362.42 173.63,362.69 176.67,362.94 179.58,363.17 182.19,363.36 184.38,363.52 186.00,363.64" fill="none" stroke="#ff2a2a" stroke-width="2.0" stroke-linejoin="round"/>
<line x1="48.50" y1="280.00" x2="48.50" y2="401.80" stroke="#222" stroke-width="1.3"/>
<line x1="44.30" y1="401.80" x2="48.50" y2="401.80" stroke="#222" stroke-width="1.3"/>
<text x="41.30" y="405.04" font-size="9.0" font-weight="bold" font-style="normal" text-anchor="end" fill="#111">0</text>
<line x1="44.30" y1="361.20" x2="48.50" y2="361.20" stroke="#222" stroke-width="1.3"/>
<text x="41.30" y="364.44" font-size="9.0" font-weight="bold" font-style="normal" text-anchor="end" fill="#111">1</text>
<line x1="44.30" y1="320.60" x2="48.50" y2="320.60" stroke="#222" stroke-width="1.3"/>
<text x="41.30" y="323.84" font-size="9.0" font-weight="bold" font-style="normal" text-anchor="end" fill="#111">2</text>
<line x1="44.30" y1="280.00" x2="48.50" y2="280.00" stroke="#222" stroke-width="1.3"/>
<text x="41.30" y="283.24" font-size="9.0" font-weight="bold" font-style="normal" text-anchor="end" fill="#111">3</text>
<text x="19.00" y="340.50" font-size="10.1" font-weight="bold" font-style="normal" text-anchor="middle" fill="#111" transform="rotate(-90 19.00 340.50)">Relative mitochondrial</text>
<text x="31.20" y="340.50" font-size="10.1" font-weight="bold" font-style="normal" text-anchor="middle" fill="#111" transform="rotate(-90 31.20 340.50)">calcium level (F/F0)</text>
<text x="66.60" y="283.10" font-size="10.4" font-weight="normal" font-style="normal" text-anchor="middle" fill="#222" stroke="#222" stroke-width="0.2">TG</text>
<line x1="66.60" y1="287.10" x2="66.60" y2="297.50" stroke="#000" stroke-width="2.2"/>
<polygon points="61.80,295.90 71.40,295.90 66.60,305.50" fill="#000"/>
<line x1="120.60" y1="265.90" x2="133.40" y2="265.90" stroke="#000" stroke-width="1.4"/>
<text x="140.90" y="268.70" font-size="10.1" font-weight="normal" font-style="normal" text-anchor="start" fill="#222" stroke="#222" stroke-width="0.2"><tspan font-style="italic">CDK4</tspan>-WT</text>
<line x1="120.60" y1="279.70" x2="133.40" y2="279.70" stroke="#ff2a2a" stroke-width="1.4"/>
<text x="140.90" y="282.70" font-size="10.1" font-weight="normal" font-style="normal" text-anchor="start" fill="#222" stroke="#222" stroke-width="0.2"><tspan font-style="italic">CDK4</tspan>-KO</text>
<line x1="158.00" y1="397.20" x2="184.80" y2="397.20" stroke="#000" stroke-width="1.5"/>
<text x="171.30" y="393.00" font-size="10" font-weight="bold" font-style="normal" text-anchor="middle" fill="#000">60s</text>
<text x="335.60" y="259.00" font-size="16" font-weight="bold" font-style="normal" text-anchor="start" fill="#000">f</text>
<rect x="395.80" y="287.60" width="140.70" height="90.20" fill="#f2f2f2" stroke="none" stroke-width="1"/>
<rect x="395.80" y="287.60" width="18.20" height="90.20" fill="#e4e4e4" stroke="none" stroke-width="1"/>
<polygon points="395.00,363.80 395.93,363.70 397.20,363.57 398.72,363.41 400.39,363.23 402.11,363.02 403.80,362.80 405.58,362.54 407.56,362.24 409.59,361.91 411.55,361.59 413.30,361.27 414.70,361.00 415.70,360.23 416.40,359.60 416.89,358.99 417.26,358.27 417.60,357.31 418.00,356.00 418.42,354.87 418.77,353.36 419.10,351.61 419.43,349.78 419.78,347.99 420.20,346.40 420.70,345.07 421.26,343.90 421.85,342.79 422.44,341.61 423.00,340.25 423.50,338.60 423.93,336.62 424.32,334.38 424.68,331.96 425.01,329.44 425.35,326.90 425.70,324.40 426.04,321.81 426.36,319.05 426.68,316.26 427.01,313.59 427.38,311.19 427.80,309.20 428.28,307.69 428.81,306.55 429.38,305.68 429.96,304.96 430.54,304.31 431.10,303.60 431.66,302.82 432.24,302.06 432.82,301.35 433.38,300.74 433.91,300.28 434.40,300.00 434.82,299.90 435.17,299.93 435.50,300.10 435.83,300.43 436.18,300.93 436.60,301.60 437.06,302.45 437.54,303.45 438.04,304.62 438.60,305.97 439.21,307.49 439.90,309.20 440.68,311.61 441.53,314.29 442.45,317.15 443.41,320.09 444.40,323.01 445.40,325.80 446.42,328.11 447.49,330.47 448.58,332.80 449.69,335.04 450.80,337.13 451.90,339.00 452.94,340.61 453.93,342.02 454.92,343.27 455.98,344.42 457.15,345.51 458.50,346.60 460.04,347.69 461.73,348.74 463.54,349.74 465.44,350.66 467.40,351.49 469.40,352.20 471.42,352.77 473.47,353.21 475.59,353.56 477.80,353.85 480.12,354.12 482.60,354.40 485.29,354.70 488.20,354.98 491.22,355.24 494.27,355.47 497.26,355.66 500.10,355.80 502.83,355.89 505.52,355.94 508.16,355.95 510.70,355.93 513.12,355.87 515.40,355.80 517.50,355.68 519.44,355.50 521.26,355.30 523.00,355.10 524.70,354.92 526.40,354.80 528.19,354.74 530.06,354.73 531.89,354.74 533.56,354.76 534.97,354.79 536.00,354.80 536.00,358.40 534.97,358.39 533.56,358.36 531.89,358.34 530.06,358.33 528.19,358.34 526.40,358.40 524.70,358.52 523.00,358.70 521.26,358.90 519.44,359.10 517.50,359.28 515.40,359.40 513.12,359.47 510.70,359.53 508.16,359.55 505.52,359.54 502.83,359.49 500.10,359.40 497.26,359.26 494.27,359.07 491.22,358.84 488.20,358.58 485.29,358.30 482.60,358.00 480.12,357.72 477.80,357.45 475.59,357.16 473.47,356.81 471.42,356.37 469.40,355.80 467.40,355.09 465.44,354.26 463.54,353.34 461.73,352.34 460.04,351.29 458.50,350.20 457.15,349.11 455.98,348.02 454.92,346.88 453.93,345.62 452.94,344.21 451.90,342.60 450.80,340.73 449.69,338.64 448.58,336.40 447.49,334.07 446.42,331.71 445.40,329.40 444.40,327.47 443.41,325.42 442.45,323.35 441.53,321.36 440.68,319.54 439.90,318.00 439.21,316.29 438.60,314.77 438.04,313.43 437.54,312.25 437.06,311.25 436.60,310.40 436.18,309.73 435.83,309.23 435.50,308.90 435.17,308.73 434.82,308.70 434.40,308.80 433.91,309.08 433.38,309.54 432.82,310.15 432.24,310.86 431.66,311.62 431.10,312.40 430.54,313.11 429.96,313.76 429.38,314.48 428.81,315.35 428.28,316.49 427.80,318.00 427.38,319.99 427.01,322.39 426.68,325.06 426.36,327.85 426.04,330.61 425.70,333.20 425.35,335.70 425.01,338.24 424.68,340.76 424.32,343.18 423.93,345.42 423.50,347.40 423.00,349.05 422.44,350.41 421.85,351.59 421.26,352.70 420.70,353.87 420.20,355.20 419.78,356.79 419.43,358.58 419.10,360.41 418.77,362.16 418.42,363.67 418.00,364.80 417.60,364.85 417.26,364.53 416.89,363.99 416.40,363.33 415.70,362.70 414.70,362.20 413.30,362.47 411.55,362.79 409.59,363.11 407.56,363.44 405.58,363.74 403.80,364.00 402.11,364.22 400.39,364.43 398.72,364.61 397.20,364.77 395.93,364.90 395.00,365.00" fill="#cfcfcf" opacity="0.75"/>
<line x1="415.80" y1="360.14" x2="415.80" y2="362.78" stroke="#c4c4c4" stroke-width="0.45"/>
<line x1="417.40" y1="357.88" x2="417.40" y2="364.66" stroke="#c4c4c4" stroke-width="0.45"/>
<line x1="419.00" y1="352.15" x2="419.00" y2="360.95" stroke="#c4c4c4" stroke-width="0.45"/>
<line x1="420.60" y1="345.33" x2="420.60" y2="354.13" stroke="#c4c4c4" stroke-width="0.45"/>
<line x1="422.20" y1="342.09" x2="422.20" y2="350.89" stroke="#c4c4c4" stroke-width="0.45"/>
<line x1="423.80" y1="337.22" x2="423.80" y2="346.02" stroke="#c4c4c4" stroke-width="0.45"/>
<line x1="425.40" y1="326.55" x2="425.40" y2="335.35" stroke="#c4c4c4" stroke-width="0.45"/>
<line x1="427.00" y1="313.71" x2="427.00" y2="322.51" stroke="#c4c4c4" stroke-width="0.45"/>
<line x1="428.60" y1="307.00" x2="428.60" y2="315.80" stroke="#c4c4c4" stroke-width="0.45"/>
<line x1="430.20" y1="304.69" x2="430.20" y2="313.49" stroke="#c4c4c4" stroke-width="0.45"/>
<line x1="431.80" y1="302.64" x2="431.80" y2="311.44" stroke="#c4c4c4" stroke-width="0.45"/>
<line x1="433.40" y1="300.72" x2="433.40" y2="309.52" stroke="#c4c4c4" stroke-width="0.45"/>
<line x1="435.00" y1="299.91" x2="435.00" y2="308.71" stroke="#c4c4c4" stroke-width="0.45"/>
<line x1="436.60" y1="301.60" x2="436.60" y2="310.40" stroke="#c4c4c4" stroke-width="0.45"/>
<line x1="438.20" y1="305.01" x2="438.20" y2="313.81" stroke="#c4c4c4" stroke-width="0.45"/>
<line x1="439.80" y1="308.95" x2="439.80" y2="317.75" stroke="#c4c4c4" stroke-width="0.45"/>
<line x1="441.40" y1="313.87" x2="441.40" y2="321.07" stroke="#c4c4c4" stroke-width="0.45"/>
<line x1="443.00" y1="318.83" x2="443.00" y2="324.54" stroke="#c4c4c4" stroke-width="0.45"/>
<line x1="444.60" y1="323.56" x2="444.60" y2="327.86" stroke="#c4c4c4" stroke-width="0.45"/>
<line x1="446.20" y1="327.61" x2="446.20" y2="331.21" stroke="#c4c4c4" stroke-width="0.45"/>
<line x1="447.80" y1="331.13" x2="447.80" y2="334.73" stroke="#c4c4c4" stroke-width="0.45"/>
<line x1="449.40" y1="334.46" x2="449.40" y2="338.06" stroke="#c4c4c4" stroke-width="0.45"/>
<line x1="451.00" y1="337.47" x2="451.00" y2="341.07" stroke="#c4c4c4" stroke-width="0.45"/>
<line x1="452.60" y1="340.08" x2="452.60" y2="343.68" stroke="#c4c4c4" stroke-width="0.45"/>
<line x1="454.20" y1="342.36" x2="454.20" y2="345.96" stroke="#c4c4c4" stroke-width="0.45"/>
<line x1="455.80" y1="344.23" x2="455.80" y2="347.83" stroke="#c4c4c4" stroke-width="0.45"/>
<line x1="457.40" y1="345.72" x2="457.40" y2="349.32" stroke="#c4c4c4" stroke-width="0.45"/>
<line x1="459.00" y1="346.95" x2="459.00" y2="350.55" stroke="#c4c4c4" stroke-width="0.45"/>
<line x1="460.60" y1="348.04" x2="460.60" y2="351.64" stroke="#c4c4c4" stroke-width="0.45"/>
<line x1="462.20" y1="349.00" x2="462.20" y2="352.60" stroke="#c4c4c4" stroke-width="0.45"/>
<line x1="463.80" y1="349.86" x2="463.80" y2="353.46" stroke="#c4c4c4" stroke-width="0.45"/>
<line x1="465.40" y1="350.64" x2="465.40" y2="354.24" stroke="#c4c4c4" stroke-width="0.45"/>
<line x1="467.00" y1="351.32" x2="467.00" y2="354.92" stroke="#c4c4c4" stroke-width="0.45"/>
<line x1="468.60" y1="351.91" x2="468.60" y2="355.51" stroke="#c4c4c4" stroke-width="0.45"/>
<line x1="470.20" y1="352.43" x2="470.20" y2="356.03" stroke="#c4c4c4" stroke-width="0.45"/>
<line x1="471.80" y1="352.86" x2="471.80" y2="356.46" stroke="#c4c4c4" stroke-width="0.45"/>
<line x1="473.40" y1="353.20" x2="473.40" y2="356.80" stroke="#c4c4c4" stroke-width="0.45"/>
<line x1="475.00" y1="353.47" x2="475.00" y2="357.07" stroke="#c4c4c4" stroke-width="0.45"/>
<line x1="476.60" y1="353.70" x2="476.60" y2="357.30" stroke="#c4c4c4" stroke-width="0.45"/>
<line x1="478.20" y1="353.90" x2="478.20" y2="357.50" stroke="#c4c4c4" stroke-width="0.45"/>
<line x1="479.80" y1="354.08" x2="479.80" y2="357.68" stroke="#c4c4c4" stroke-width="0.45"/>
<line x1="481.40" y1="354.26" x2="481.40" y2="357.86" stroke="#c4c4c4" stroke-width="0.45"/>
<line x1="483.00" y1="354.44" x2="483.00" y2="358.04" stroke="#c4c4c4" stroke-width="0.45"/>
<line x1="484.60" y1="354.62" x2="484.60" y2="358.22" stroke="#c4c4c4" stroke-width="0.45"/>
<line x1="486.20" y1="354.78" x2="486.20" y2="358.38" stroke="#c4c4c4" stroke-width="0.45"/>
<line x1="487.80" y1="354.94" x2="487.80" y2="358.54" stroke="#c4c4c4" stroke-width="0.45"/>
<line x1="489.40" y1="355.08" x2="489.40" y2="358.68" stroke="#c4c4c4" stroke-width="0.45"/>
<line x1="491.00" y1="355.22" x2="491.00" y2="358.82" stroke="#c4c4c4" stroke-width="0.45"/>
<line x1="492.60" y1="355.34" x2="492.60" y2="358.94" stroke="#c4c4c4" stroke-width="0.45"/>
<line x1="494.20" y1="355.46" x2="494.20" y2="359.06" stroke="#c4c4c4" stroke-width="0.45"/>
<line x1="495.80" y1="355.56" x2="495.80" y2="359.16" stroke="#c4c4c4" stroke-width="0.45"/>
<line x1="497.40" y1="355.66" x2="497.40" y2="359.26" stroke="#c4c4c4" stroke-width="0.45"/>
<line x1="499.00" y1="355.74" x2="499.00" y2="359.34" stroke="#c4c4c4" stroke-width="0.45"/>
<line x1="500.60" y1="355.82" x2="500.60" y2="359.42" stroke="#c4c4c4" stroke-width="0.45"/>
<line x1="502.20" y1="355.87" x2="502.20" y2="359.47" stroke="#c4c4c4" stroke-width="0.45"/>
<line x1="503.80" y1="355.91" x2="503.80" y2="359.51" stroke="#c4c4c4" stroke-width="0.45"/>
<line x1="505.40" y1="355.94" x2="505.40" y2="359.54" stroke="#c4c4c4" stroke-width="0.45"/>
<line x1="507.00" y1="355.95" x2="507.00" y2="359.55" stroke="#c4c4c4" stroke-width="0.45"/>
<line x1="508.60" y1="355.95" x2="508.60" y2="359.55" stroke="#c4c4c4" stroke-width="0.45"/>
<line x1="510.20" y1="355.93" x2="510.20" y2="359.53" stroke="#c4c4c4" stroke-width="0.45"/>
<line x1="511.80" y1="355.90" x2="511.80" y2="359.50" stroke="#c4c4c4" stroke-width="0.45"/>
<line x1="513.40" y1="355.87" x2="513.40" y2="359.47" stroke="#c4c4c4" stroke-width="0.45"/>
<line x1="515.00" y1="355.81" x2="515.00" y2="359.41" stroke="#c4c4c4" stroke-width="0.45"/>
<line x1="516.60" y1="355.73" x2="516.60" y2="359.33" stroke="#c4c4c4" stroke-width="0.45"/>
<line x1="518.20" y1="355.62" x2="518.20" y2="359.22" stroke="#c4c4c4" stroke-width="0.45"/>
<line x1="519.80" y1="355.46" x2="519.80" y2="359.06" stroke="#c4c4c4" stroke-width="0.45"/>
<line x1="521.40" y1="355.28" x2="521.40" y2="358.88" stroke="#c4c4c4" stroke-width="0.45"/>
<line x1="523.00" y1="355.10" x2="523.00" y2="358.70" stroke="#c4c4c4" stroke-width="0.45"/>
<line x1="524.60" y1="354.93" x2="524.60" y2="358.53" stroke="#c4c4c4" stroke-width="0.45"/>
<line x1="526.20" y1="354.81" x2="526.20" y2="358.41" stroke="#c4c4c4" stroke-width="0.45"/>
<line x1="527.80" y1="354.75" x2="527.80" y2="358.35" stroke="#c4c4c4" stroke-width="0.45"/>
<line x1="529.40" y1="354.73" x2="529.40" y2="358.33" stroke="#c4c4c4" stroke-width="0.45"/>
<line x1="531.00" y1="354.73" x2="531.00" y2="358.33" stroke="#c4c4c4" stroke-width="0.45"/>
<line x1="532.60" y1="354.75" x2="532.60" y2="358.35" stroke="#c4c4c4" stroke-width="0.45"/>
<line x1="534.20" y1="354.77" x2="534.20" y2="358.37" stroke="#c4c4c4" stroke-width="0.45"/>
<line x1="535.80" y1="354.80" x2="535.80" y2="358.40" stroke="#c4c4c4" stroke-width="0.45"/>
<polygon points="395.00,358.40 396.21,358.55 397.90,358.77 399.89,359.02 402.01,359.30 404.11,359.56 406.00,359.80 407.78,360.08 409.60,360.42 411.39,360.76 413.07,361.02 414.56,361.13 415.80,361.00 416.69,359.48 417.27,357.88 417.66,356.12 418.00,354.14 418.40,351.86 419.00,349.20 419.82,347.28 420.78,344.90 421.80,342.23 422.82,339.41 423.78,336.61 424.60,334.00 425.27,331.85 425.84,329.61 426.34,327.40 426.81,325.32 427.29,323.48 427.80,322.00 428.34,320.46 428.89,319.19 429.44,318.15 430.00,317.35 430.55,316.77 431.10,316.40 431.61,316.28 432.08,316.41 432.54,316.77 433.06,317.32 433.66,318.01 434.40,318.80 435.28,319.71 436.28,320.79 437.36,322.00 438.52,323.35 439.74,324.82 441.00,326.40 442.33,328.66 443.74,331.17 445.21,333.80 446.71,336.43 448.22,338.94 449.70,341.20 451.16,342.76 452.63,344.17 454.09,345.46 455.56,346.65 457.03,347.76 458.50,348.80 459.99,349.74 461.52,350.57 463.04,351.31 464.54,352.01 465.97,352.69 467.30,353.40 468.49,354.12 469.55,354.82 470.55,355.51 471.55,356.20 472.61,356.89 473.80,357.60 475.11,358.33 476.49,359.07 477.93,359.82 479.43,360.57 480.99,361.30 482.60,362.00 484.29,362.69 486.07,363.39 487.91,364.06 489.78,364.70 491.65,365.29 493.50,365.80 495.30,366.22 497.08,366.56 498.86,366.84 500.67,367.09 502.54,367.33 504.50,367.60 506.50,367.88 508.51,368.16 510.59,368.44 512.76,368.70 515.09,368.96 517.60,369.20 520.57,369.44 524.02,369.67 527.62,369.90 531.03,370.10 533.94,370.27 536.00,370.40 536.00,376.00 533.94,375.87 531.03,375.70 527.62,375.50 524.02,375.27 520.57,375.04 517.60,374.80 515.09,374.56 512.76,374.30 510.59,374.04 508.51,373.76 506.50,373.48 504.50,373.20 502.54,372.93 500.67,372.69 498.86,372.44 497.08,372.16 495.30,371.82 493.50,371.40 491.65,370.89 489.78,370.30 487.91,369.66 486.07,368.99 484.29,368.29 482.60,367.60 480.99,366.90 479.43,366.17 477.93,365.43 476.49,364.67 475.11,363.93 473.80,363.20 472.61,362.49 471.55,361.80 470.55,361.11 469.55,360.42 468.49,359.72 467.30,359.00 465.97,358.29 464.54,357.61 463.04,356.91 461.52,356.17 459.99,355.34 458.50,354.40 457.03,353.36 455.56,352.25 454.09,351.06 452.63,349.77 451.16,348.36 449.70,346.80 448.22,345.47 446.71,343.90 445.21,342.20 443.74,340.50 442.33,338.93 441.00,337.60 439.74,336.02 438.52,334.55 437.36,333.20 436.28,331.99 435.28,330.91 434.40,330.00 433.66,329.21 433.06,328.52 432.54,327.98 432.08,327.61 431.61,327.48 431.10,327.60 430.55,327.97 430.00,328.55 429.44,329.35 428.89,330.39 428.34,331.66 427.80,333.20 427.29,335.48 426.81,338.12 426.34,341.00 425.84,344.01 425.27,347.05 424.60,350.00 423.78,352.61 422.82,355.41 421.80,358.23 420.78,360.90 419.82,363.28 419.00,365.20 418.40,365.39 418.00,365.21 417.66,364.73 417.27,364.01 416.69,363.15 415.80,362.20 414.56,362.33 413.07,362.22 411.39,361.96 409.60,361.62 407.78,361.28 406.00,361.00 404.11,360.76 402.01,360.50 399.89,360.23 397.90,359.97 396.21,359.75 395.00,359.60" fill="#f5b3b7" opacity="0.8"/>
<line x1="417.40" y1="357.29" x2="417.40" y2="364.25" stroke="#ee9ca1" stroke-width="0.45"/>
<line x1="419.00" y1="349.20" x2="419.00" y2="365.20" stroke="#ee9ca1" stroke-width="0.45"/>
<line x1="420.60" y1="345.35" x2="420.60" y2="361.35" stroke="#ee9ca1" stroke-width="0.45"/>
<line x1="422.20" y1="341.12" x2="422.20" y2="357.12" stroke="#ee9ca1" stroke-width="0.45"/>
<line x1="423.80" y1="336.54" x2="423.80" y2="352.54" stroke="#ee9ca1" stroke-width="0.45"/>
<line x1="425.40" y1="331.35" x2="425.40" y2="346.36" stroke="#ee9ca1" stroke-width="0.45"/>
<line x1="427.00" y1="324.60" x2="427.00" y2="337.09" stroke="#ee9ca1" stroke-width="0.45"/>
<line x1="428.60" y1="319.87" x2="428.60" y2="331.07" stroke="#ee9ca1" stroke-width="0.45"/>
<line x1="430.20" y1="317.13" x2="430.20" y2="328.33" stroke="#ee9ca1" stroke-width="0.45"/>
<line x1="431.80" y1="316.33" x2="431.80" y2="327.53" stroke="#ee9ca1" stroke-width="0.45"/>
<line x1="433.40" y1="317.71" x2="433.40" y2="328.91" stroke="#ee9ca1" stroke-width="0.45"/>
<line x1="435.00" y1="319.42" x2="435.00" y2="330.62" stroke="#ee9ca1" stroke-width="0.45"/>
<line x1="436.60" y1="321.15" x2="436.60" y2="332.35" stroke="#ee9ca1" stroke-width="0.45"/>
<line x1="438.20" y1="322.97" x2="438.20" y2="334.17" stroke="#ee9ca1" stroke-width="0.45"/>
<line x1="439.80" y1="324.89" x2="439.80" y2="336.09" stroke="#ee9ca1" stroke-width="0.45"/>
<line x1="441.40" y1="327.08" x2="441.40" y2="338.00" stroke="#ee9ca1" stroke-width="0.45"/>
<line x1="443.00" y1="329.86" x2="443.00" y2="339.68" stroke="#ee9ca1" stroke-width="0.45"/>
<line x1="444.60" y1="332.71" x2="444.60" y2="341.49" stroke="#ee9ca1" stroke-width="0.45"/>
<line x1="446.20" y1="335.53" x2="446.20" y2="343.32" stroke="#ee9ca1" stroke-width="0.45"/>
<line x1="447.80" y1="338.24" x2="447.80" y2="345.03" stroke="#ee9ca1" stroke-width="0.45"/>
<line x1="449.40" y1="340.74" x2="449.40" y2="346.53" stroke="#ee9ca1" stroke-width="0.45"/>
<line x1="451.00" y1="342.58" x2="451.00" y2="348.18" stroke="#ee9ca1" stroke-width="0.45"/>
<line x1="452.60" y1="344.15" x2="452.60" y2="349.75" stroke="#ee9ca1" stroke-width="0.45"/>
<line x1="454.20" y1="345.55" x2="454.20" y2="351.15" stroke="#ee9ca1" stroke-width="0.45"/>
<line x1="455.80" y1="346.83" x2="455.80" y2="352.43" stroke="#ee9ca1" stroke-width="0.45"/>
<line x1="457.40" y1="348.02" x2="457.40" y2="353.62" stroke="#ee9ca1" stroke-width="0.45"/>
<line x1="459.00" y1="349.12" x2="459.00" y2="354.72" stroke="#ee9ca1" stroke-width="0.45"/>
<line x1="460.60" y1="350.07" x2="460.60" y2="355.67" stroke="#ee9ca1" stroke-width="0.45"/>
<line x1="462.20" y1="350.90" x2="462.20" y2="356.50" stroke="#ee9ca1" stroke-width="0.45"/>
<line x1="463.80" y1="351.66" x2="463.80" y2="357.26" stroke="#ee9ca1" stroke-width="0.45"/>
<line x1="465.40" y1="352.42" x2="465.40" y2="358.02" stroke="#ee9ca1" stroke-width="0.45"/>
<line x1="467.00" y1="353.24" x2="467.00" y2="358.84" stroke="#ee9ca1" stroke-width="0.45"/>
<line x1="468.60" y1="354.19" x2="468.60" y2="359.79" stroke="#ee9ca1" stroke-width="0.45"/>
<line x1="470.20" y1="355.27" x2="470.20" y2="360.87" stroke="#ee9ca1" stroke-width="0.45"/>
<line x1="471.80" y1="356.36" x2="471.80" y2="361.96" stroke="#ee9ca1" stroke-width="0.45"/>
<line x1="473.40" y1="357.36" x2="473.40" y2="362.96" stroke="#ee9ca1" stroke-width="0.45"/>
<line x1="475.00" y1="358.27" x2="475.00" y2="363.87" stroke="#ee9ca1" stroke-width="0.45"/>
<line x1="476.60" y1="359.13" x2="476.60" y2="364.73" stroke="#ee9ca1" stroke-width="0.45"/>
<line x1="478.20" y1="359.96" x2="478.20" y2="365.56" stroke="#ee9ca1" stroke-width="0.45"/>
<line x1="479.80" y1="360.75" x2="479.80" y2="366.35" stroke="#ee9ca1" stroke-width="0.45"/>
<line x1="481.40" y1="361.48" x2="481.40" y2="367.08" stroke="#ee9ca1" stroke-width="0.45"/>
<line x1="483.00" y1="362.16" x2="483.00" y2="367.76" stroke="#ee9ca1" stroke-width="0.45"/>
<line x1="484.60" y1="362.81" x2="484.60" y2="368.41" stroke="#ee9ca1" stroke-width="0.45"/>
<line x1="486.20" y1="363.43" x2="486.20" y2="369.03" stroke="#ee9ca1" stroke-width="0.45"/>
<line x1="487.80" y1="364.02" x2="487.80" y2="369.62" stroke="#ee9ca1" stroke-width="0.45"/>
<line x1="489.40" y1="364.57" x2="489.40" y2="370.17" stroke="#ee9ca1" stroke-width="0.45"/>
<line x1="491.00" y1="365.08" x2="491.00" y2="370.68" stroke="#ee9ca1" stroke-width="0.45"/>
<line x1="492.60" y1="365.55" x2="492.60" y2="371.15" stroke="#ee9ca1" stroke-width="0.45"/>
<line x1="494.20" y1="365.96" x2="494.20" y2="371.56" stroke="#ee9ca1" stroke-width="0.45"/>
<line x1="495.80" y1="366.31" x2="495.80" y2="371.91" stroke="#ee9ca1" stroke-width="0.45"/>
<line x1="497.40" y1="366.61" x2="497.40" y2="372.21" stroke="#ee9ca1" stroke-width="0.45"/>
<line x1="499.00" y1="366.86" x2="499.00" y2="372.46" stroke="#ee9ca1" stroke-width="0.45"/>
<line x1="500.60" y1="367.08" x2="500.60" y2="372.68" stroke="#ee9ca1" stroke-width="0.45"/>
<line x1="502.20" y1="367.29" x2="502.20" y2="372.89" stroke="#ee9ca1" stroke-width="0.45"/>
<line x1="503.80" y1="367.51" x2="503.80" y2="373.11" stroke="#ee9ca1" stroke-width="0.45"/>
<line x1="505.40" y1="367.73" x2="505.40" y2="373.33" stroke="#ee9ca1" stroke-width="0.45"/>
<line x1="507.00" y1="367.95" x2="507.00" y2="373.55" stroke="#ee9ca1" stroke-width="0.45"/>
<line x1="508.60" y1="368.17" x2="508.60" y2="373.77" stroke="#ee9ca1" stroke-width="0.45"/>
<line x1="510.20" y1="368.39" x2="510.20" y2="373.99" stroke="#ee9ca1" stroke-width="0.45"/>
<line x1="511.80" y1="368.59" x2="511.80" y2="374.19" stroke="#ee9ca1" stroke-width="0.45"/>
<line x1="513.40" y1="368.77" x2="513.40" y2="374.37" stroke="#ee9ca1" stroke-width="0.45"/>
<line x1="515.00" y1="368.95" x2="515.00" y2="374.55" stroke="#ee9ca1" stroke-width="0.45"/>
<line x1="516.60" y1="369.10" x2="516.60" y2="374.70" stroke="#ee9ca1" stroke-width="0.45"/>
<line x1="518.20" y1="369.25" x2="518.20" y2="374.85" stroke="#ee9ca1" stroke-width="0.45"/>
<line x1="519.80" y1="369.38" x2="519.80" y2="374.98" stroke="#ee9ca1" stroke-width="0.45"/>
<line x1="521.40" y1="369.49" x2="521.40" y2="375.09" stroke="#ee9ca1" stroke-width="0.45"/>
<line x1="523.00" y1="369.60" x2="523.00" y2="375.20" stroke="#ee9ca1" stroke-width="0.45"/>
<line x1="524.60" y1="369.71" x2="524.60" y2="375.31" stroke="#ee9ca1" stroke-width="0.45"/>
<line x1="526.20" y1="369.81" x2="526.20" y2="375.41" stroke="#ee9ca1" stroke-width="0.45"/>
<line x1="527.80" y1="369.91" x2="527.80" y2="375.51" stroke="#ee9ca1" stroke-width="0.45"/>
<line x1="529.40" y1="370.01" x2="529.40" y2="375.61" stroke="#ee9ca1" stroke-width="0.45"/>
<line x1="531.00" y1="370.10" x2="531.00" y2="375.70" stroke="#ee9ca1" stroke-width="0.45"/>
<line x1="532.60" y1="370.20" x2="532.60" y2="375.80" stroke="#ee9ca1" stroke-width="0.45"/>
<line x1="534.20" y1="370.29" x2="534.20" y2="375.89" stroke="#ee9ca1" stroke-width="0.45"/>
<line x1="535.80" y1="370.39" x2="535.80" y2="375.99" stroke="#ee9ca1" stroke-width="0.45"/>
<polyline points="395.00,364.40 395.93,364.30 397.20,364.17 398.72,364.01 400.39,363.83 402.11,363.62 403.80,363.40 405.58,363.14 407.56,362.84 409.59,362.51 411.55,362.19 413.30,361.87 414.70,361.60 415.70,361.46 416.40,361.47 416.89,361.49 417.26,361.40 417.60,361.08 418.00,360.40 418.42,359.27 418.77,357.76 419.10,356.01 419.43,354.18 419.78,352.39 420.20,350.80 420.70,349.47 421.26,348.30 421.85,347.19 422.44,346.01 423.00,344.65 423.50,343.00 423.93,341.02 424.32,338.78 424.68,336.36 425.01,333.84 425.35,331.30 425.70,328.80 426.04,326.21 426.36,323.45 426.68,320.66 427.01,317.99 427.38,315.59 427.80,313.60 428.28,312.09 428.81,310.95 429.38,310.08 429.96,309.36 430.54,308.71 431.10,308.00 431.66,307.22 432.24,306.46 432.82,305.75 433.38,305.14 433.91,304.68 434.40,304.40 434.82,304.30 435.17,304.33 435.50,304.50 435.83,304.83 436.18,305.33 436.60,306.00 437.06,306.85 437.54,307.85 438.04,309.02 438.60,310.37 439.21,311.89 439.90,313.60 440.68,315.57 441.53,317.82 442.45,320.25 443.41,322.76 444.40,325.24 445.40,327.60 446.42,329.91 447.49,332.27 448.58,334.60 449.69,336.84 450.80,338.93 451.90,340.80 452.94,342.41 453.93,343.82 454.92,345.07 455.98,346.22 457.15,347.31 458.50,348.40 460.04,349.49 461.73,350.54 463.54,351.54 465.44,352.46 467.40,353.29 469.40,354.00 471.42,354.57 473.47,355.01 475.59,355.36 477.80,355.65 480.12,355.92 482.60,356.20 485.29,356.50 488.20,356.78 491.22,357.04 494.27,357.27 497.26,357.46 500.10,357.60 502.83,357.69 505.52,357.74 508.16,357.75 510.70,357.73 513.12,357.67 515.40,357.60 517.50,357.48 519.44,357.30 521.26,357.10 523.00,356.90 524.70,356.72 526.40,356.60 528.19,356.54 530.06,356.53 531.89,356.54 533.56,356.56 534.97,356.59 536.00,356.60" fill="none" stroke="#000" stroke-width="1.6" stroke-linejoin="round"/>
<polyline points="395.00,359.00 396.21,359.15 397.90,359.37 399.89,359.62 402.01,359.90 404.11,360.16 406.00,360.40 407.78,360.68 409.60,361.02 411.39,361.36 413.07,361.62 414.56,361.73 415.80,361.60 416.69,361.32 417.27,360.95 417.66,360.43 418.00,359.67 418.40,358.62 419.00,357.20 419.82,355.28 420.78,352.90 421.80,350.23 422.82,347.41 423.78,344.61 424.60,342.00 425.27,339.45 425.84,336.81 426.34,334.20 426.81,331.72 427.29,329.48 427.80,327.60 428.34,326.06 428.89,324.79 429.44,323.75 430.00,322.95 430.55,322.37 431.10,322.00 431.61,321.88 432.08,322.01 432.54,322.38 433.06,322.92 433.66,323.61 434.40,324.40 435.28,325.31 436.28,326.39 437.36,327.60 438.52,328.95 439.74,330.42 441.00,332.00 442.33,333.80 443.74,335.84 445.21,338.00 446.71,340.16 448.22,342.20 449.70,344.00 451.16,345.56 452.63,346.97 454.09,348.26 455.56,349.45 457.03,350.56 458.50,351.60 459.99,352.54 461.52,353.37 463.04,354.11 464.54,354.81 465.97,355.49 467.30,356.20 468.49,356.92 469.55,357.62 470.55,358.31 471.55,359.00 472.61,359.69 473.80,360.40 475.11,361.13 476.49,361.87 477.93,362.62 479.43,363.37 480.99,364.10 482.60,364.80 484.29,365.49 486.07,366.19 487.91,366.86 489.78,367.50 491.65,368.09 493.50,368.60 495.30,369.02 497.08,369.36 498.86,369.64 500.67,369.89 502.54,370.13 504.50,370.40 506.50,370.68 508.51,370.96 510.59,371.24 512.76,371.50 515.09,371.76 517.60,372.00 520.57,372.24 524.02,372.47 527.62,372.70 531.03,372.90 533.94,373.07 536.00,373.20" fill="none" stroke="#ff2a2a" stroke-width="2.0" stroke-linejoin="round"/>
<line x1="395.10" y1="282.00" x2="395.10" y2="402.00" stroke="#222" stroke-width="1.3"/>
<line x1="390.90" y1="402.00" x2="395.10" y2="402.00" stroke="#222" stroke-width="1.3"/>
<text x="387.90" y="405.24" font-size="9.0" font-weight="bold" font-style="normal" text-anchor="end" fill="#111">0</text>
<line x1="390.90" y1="362.00" x2="395.10" y2="362.00" stroke="#222" stroke-width="1.3"/>
<text x="387.90" y="365.24" font-size="9.0" font-weight="bold" font-style="normal" text-anchor="end" fill="#111">1</text>
<line x1="390.90" y1="322.00" x2="395.10" y2="322.00" stroke="#222" stroke-width="1.3"/>
<text x="387.90" y="325.24" font-size="9.0" font-weight="bold" font-style="normal" text-anchor="end" fill="#111">2</text>
<line x1="390.90" y1="282.00" x2="395.10" y2="282.00" stroke="#222" stroke-width="1.3"/>
<text x="387.90" y="285.24" font-size="9.0" font-weight="bold" font-style="normal" text-anchor="end" fill="#111">3</text>
<text x="365.10" y="341.50" font-size="10.1" font-weight="bold" font-style="normal" text-anchor="middle" fill="#111" transform="rotate(-90 365.10 341.50)">Relative mitochondrial</text>
<text x="377.30" y="341.50" font-size="10.1" font-weight="bold" font-style="normal" text-anchor="middle" fill="#111" transform="rotate(-90 377.30 341.50)">calcium level (F/F0)</text>
<text x="414.40" y="283.80" font-size="10.4" font-weight="normal" font-style="normal" text-anchor="middle" fill="#222" stroke="#222" stroke-width="0.2">Hist</text>
<line x1="414.40" y1="287.60" x2="414.40" y2="297.50" stroke="#000" stroke-width="2.2"/>
<polygon points="409.60,295.90 419.20,295.90 414.40,305.50" fill="#000"/>
<line x1="468.00" y1="267.20" x2="479.70" y2="267.20" stroke="#000" stroke-width="1.4"/>
<text x="487.90" y="268.90" font-size="10.1" font-weight="normal" font-style="normal" text-anchor="start" fill="#222" stroke="#222" stroke-width="0.2"><tspan font-style="italic">CDK4</tspan>-WT</text>
<line x1="468.00" y1="281.50" x2="479.70" y2="281.50" stroke="#ff2a2a" stroke-width="1.4"/>
<text x="487.90" y="283.40" font-size="10.1" font-weight="normal" font-style="normal" text-anchor="start" fill="#222" stroke="#222" stroke-width="0.2"><tspan font-style="italic">CDK4</tspan>-KO</text>
<line x1="503.70" y1="397.00" x2="530.60" y2="397.00" stroke="#000" stroke-width="1.5"/>
<text x="517.50" y="392.80" font-size="10" font-weight="bold" font-style="normal" text-anchor="middle" fill="#000">60s</text>
<text x="3.00" y="425.50" font-size="16" font-weight="bold" font-style="normal" text-anchor="start" fill="#000">h</text>
<rect x="50.00" y="446.00" width="137.20" height="103.80" fill="#f2f2f2" stroke="none" stroke-width="1"/>
<rect x="50.00" y="446.00" width="17.00" height="103.80" fill="#e4e4e4" stroke="none" stroke-width="1"/>
<polygon points="49.30,540.75 51.69,540.84 55.16,541.02 59.19,541.21 63.27,541.29 66.91,541.18 69.60,540.75 71.21,539.81 72.11,538.63 72.57,537.24 72.83,535.68 73.16,534.01 73.80,532.26 74.74,530.18 75.77,527.85 76.86,525.39 77.99,522.95 79.11,520.66 80.20,518.64 81.24,516.90 82.25,515.34 83.26,513.92 84.30,512.62 85.41,511.41 86.60,510.27 87.93,509.42 89.39,508.65 90.91,507.98 92.42,507.40 93.87,506.92 95.20,506.55 96.36,506.40 97.39,506.35 98.35,506.40 99.31,506.55 100.34,506.79 101.50,507.11 102.78,507.61 104.12,508.19 105.53,508.87 107.00,509.64 108.52,510.52 110.10,511.51 111.73,512.67 113.40,514.00 115.14,515.43 116.93,516.91 118.78,518.39 120.70,519.80 122.71,521.22 124.80,522.66 126.96,524.09 129.15,525.49 131.34,526.84 133.50,528.11 135.63,529.31 137.77,530.46 139.90,531.56 142.03,532.59 144.17,533.57 146.30,534.47 148.36,535.30 150.34,536.05 152.32,536.73 154.38,537.37 156.61,537.98 159.10,538.58 162.12,539.15 165.65,539.71 169.35,540.24 172.87,540.72 175.87,541.15 178.00,541.50 178.00,543.00 175.87,542.92 172.87,542.77 169.35,542.56 165.65,542.30 162.12,542.02 159.10,541.72 156.61,541.44 154.38,541.15 152.32,540.83 150.34,540.46 148.36,540.03 146.30,539.53 144.17,538.94 142.03,538.29 139.90,537.57 137.77,536.80 135.63,535.97 133.50,535.09 131.34,534.14 129.15,533.11 126.96,532.02 124.80,530.91 122.71,529.79 120.70,528.70 118.78,527.55 116.93,526.33 115.14,525.12 113.40,523.96 111.73,522.89 110.10,521.99 108.52,521.22 107.00,520.56 105.53,520.00 104.12,519.54 102.78,519.17 101.50,518.89 100.34,518.60 99.31,518.40 98.35,518.29 97.39,518.27 96.36,518.36 95.20,518.55 93.87,518.73 92.42,519.02 90.91,519.41 89.39,519.89 87.93,520.47 86.60,521.13 85.41,521.63 84.30,522.20 83.26,522.86 82.25,523.64 81.24,524.56 80.20,525.66 79.11,527.04 77.99,528.69 76.86,530.49 75.77,532.31 74.74,534.00 73.80,535.44 73.16,536.81 72.83,538.10 72.57,539.28 72.11,540.29 71.21,541.09 69.60,541.65 66.91,542.08 63.27,542.19 59.19,542.11 55.16,541.92 51.69,541.74 49.30,541.65" fill="#cfcfcf" opacity="0.75"/>
<line x1="50.90" y1="540.81" x2="50.90" y2="541.71" stroke="#c4c4c4" stroke-width="0.45"/>
<line x1="52.50" y1="540.88" x2="52.50" y2="541.78" stroke="#c4c4c4" stroke-width="0.45"/>
<line x1="54.10" y1="540.96" x2="54.10" y2="541.86" stroke="#c4c4c4" stroke-width="0.45"/>
<line x1="55.70" y1="541.05" x2="55.70" y2="541.95" stroke="#c4c4c4" stroke-width="0.45"/>
<line x1="57.30" y1="541.12" x2="57.30" y2="542.02" stroke="#c4c4c4" stroke-width="0.45"/>
<line x1="58.90" y1="541.20" x2="58.90" y2="542.10" stroke="#c4c4c4" stroke-width="0.45"/>
<line x1="60.50" y1="541.24" x2="60.50" y2="542.14" stroke="#c4c4c4" stroke-width="0.45"/>
<line x1="62.10" y1="541.27" x2="62.10" y2="542.17" stroke="#c4c4c4" stroke-width="0.45"/>
<line x1="63.70" y1="541.28" x2="63.70" y2="542.18" stroke="#c4c4c4" stroke-width="0.45"/>
<line x1="65.30" y1="541.23" x2="65.30" y2="542.13" stroke="#c4c4c4" stroke-width="0.45"/>
<line x1="66.90" y1="541.18" x2="66.90" y2="542.08" stroke="#c4c4c4" stroke-width="0.45"/>
<line x1="68.50" y1="540.92" x2="68.50" y2="541.82" stroke="#c4c4c4" stroke-width="0.45"/>
<line x1="70.10" y1="540.46" x2="70.10" y2="541.48" stroke="#c4c4c4" stroke-width="0.45"/>
<line x1="71.70" y1="539.16" x2="71.70" y2="540.65" stroke="#c4c4c4" stroke-width="0.45"/>
<line x1="73.30" y1="533.63" x2="73.30" y2="536.51" stroke="#c4c4c4" stroke-width="0.45"/>
<line x1="74.90" y1="529.82" x2="74.90" y2="533.74" stroke="#c4c4c4" stroke-width="0.45"/>
<line x1="76.50" y1="526.21" x2="76.50" y2="531.10" stroke="#c4c4c4" stroke-width="0.45"/>
<line x1="78.10" y1="522.72" x2="78.10" y2="528.52" stroke="#c4c4c4" stroke-width="0.45"/>
<line x1="79.70" y1="519.56" x2="79.70" y2="526.29" stroke="#c4c4c4" stroke-width="0.45"/>
<line x1="81.30" y1="516.81" x2="81.30" y2="524.51" stroke="#c4c4c4" stroke-width="0.45"/>
<line x1="82.90" y1="514.43" x2="82.90" y2="523.14" stroke="#c4c4c4" stroke-width="0.45"/>
<line x1="84.50" y1="512.41" x2="84.50" y2="522.10" stroke="#c4c4c4" stroke-width="0.45"/>
<line x1="86.10" y1="510.75" x2="86.10" y2="521.34" stroke="#c4c4c4" stroke-width="0.45"/>
<line x1="87.70" y1="509.57" x2="87.70" y2="520.58" stroke="#c4c4c4" stroke-width="0.45"/>
<line x1="89.30" y1="508.70" x2="89.30" y2="519.93" stroke="#c4c4c4" stroke-width="0.45"/>
<line x1="90.90" y1="507.98" x2="90.90" y2="519.41" stroke="#c4c4c4" stroke-width="0.45"/>
<line x1="92.50" y1="507.38" x2="92.50" y2="519.01" stroke="#c4c4c4" stroke-width="0.45"/>
<line x1="94.10" y1="506.86" x2="94.10" y2="518.70" stroke="#c4c4c4" stroke-width="0.45"/>
<line x1="95.70" y1="506.48" x2="95.70" y2="518.47" stroke="#c4c4c4" stroke-width="0.45"/>
<line x1="97.30" y1="506.35" x2="97.30" y2="518.28" stroke="#c4c4c4" stroke-width="0.45"/>
<line x1="98.90" y1="506.48" x2="98.90" y2="518.35" stroke="#c4c4c4" stroke-width="0.45"/>
<line x1="100.50" y1="506.83" x2="100.50" y2="518.64" stroke="#c4c4c4" stroke-width="0.45"/>
<line x1="102.10" y1="507.35" x2="102.10" y2="519.02" stroke="#c4c4c4" stroke-width="0.45"/>
<line x1="103.70" y1="508.01" x2="103.70" y2="519.42" stroke="#c4c4c4" stroke-width="0.45"/>
<line x1="105.30" y1="508.76" x2="105.30" y2="519.92" stroke="#c4c4c4" stroke-width="0.45"/>
<line x1="106.90" y1="509.59" x2="106.90" y2="520.52" stroke="#c4c4c4" stroke-width="0.45"/>
<line x1="108.50" y1="510.51" x2="108.50" y2="521.21" stroke="#c4c4c4" stroke-width="0.45"/>
<line x1="110.10" y1="511.51" x2="110.10" y2="521.99" stroke="#c4c4c4" stroke-width="0.45"/>
<line x1="111.70" y1="512.66" x2="111.70" y2="522.88" stroke="#c4c4c4" stroke-width="0.45"/>
<line x1="113.30" y1="513.92" x2="113.30" y2="523.89" stroke="#c4c4c4" stroke-width="0.45"/>
<line x1="114.90" y1="515.23" x2="114.90" y2="524.96" stroke="#c4c4c4" stroke-width="0.45"/>
<line x1="116.50" y1="516.55" x2="116.50" y2="526.04" stroke="#c4c4c4" stroke-width="0.45"/>
<line x1="118.10" y1="517.84" x2="118.10" y2="527.10" stroke="#c4c4c4" stroke-width="0.45"/>
<line x1="119.70" y1="519.06" x2="119.70" y2="528.10" stroke="#c4c4c4" stroke-width="0.45"/>
<line x1="121.30" y1="520.23" x2="121.30" y2="529.03" stroke="#c4c4c4" stroke-width="0.45"/>
<line x1="122.90" y1="521.35" x2="122.90" y2="529.90" stroke="#c4c4c4" stroke-width="0.45"/>
<line x1="124.50" y1="522.45" x2="124.50" y2="530.75" stroke="#c4c4c4" stroke-width="0.45"/>
<line x1="126.10" y1="523.52" x2="126.10" y2="531.58" stroke="#c4c4c4" stroke-width="0.45"/>
<line x1="127.70" y1="524.56" x2="127.70" y2="532.39" stroke="#c4c4c4" stroke-width="0.45"/>
<line x1="129.30" y1="525.58" x2="129.30" y2="533.18" stroke="#c4c4c4" stroke-width="0.45"/>
<line x1="130.90" y1="526.57" x2="130.90" y2="533.93" stroke="#c4c4c4" stroke-width="0.45"/>
<line x1="132.50" y1="527.52" x2="132.50" y2="534.65" stroke="#c4c4c4" stroke-width="0.45"/>
<line x1="134.10" y1="528.45" x2="134.10" y2="535.33" stroke="#c4c4c4" stroke-width="0.45"/>
<line x1="135.70" y1="529.35" x2="135.70" y2="535.99" stroke="#c4c4c4" stroke-width="0.45"/>
<line x1="137.30" y1="530.21" x2="137.30" y2="536.61" stroke="#c4c4c4" stroke-width="0.45"/>
<line x1="138.90" y1="531.04" x2="138.90" y2="537.21" stroke="#c4c4c4" stroke-width="0.45"/>
<line x1="140.50" y1="531.85" x2="140.50" y2="537.77" stroke="#c4c4c4" stroke-width="0.45"/>
<line x1="142.10" y1="532.62" x2="142.10" y2="538.31" stroke="#c4c4c4" stroke-width="0.45"/>
<line x1="143.70" y1="533.35" x2="143.70" y2="538.80" stroke="#c4c4c4" stroke-width="0.45"/>
<line x1="145.30" y1="534.05" x2="145.30" y2="539.25" stroke="#c4c4c4" stroke-width="0.45"/>
<line x1="146.90" y1="534.71" x2="146.90" y2="539.68" stroke="#c4c4c4" stroke-width="0.45"/>
<line x1="148.50" y1="535.35" x2="148.50" y2="540.06" stroke="#c4c4c4" stroke-width="0.45"/>
<line x1="150.10" y1="535.96" x2="150.10" y2="540.41" stroke="#c4c4c4" stroke-width="0.45"/>
<line x1="151.70" y1="536.52" x2="151.70" y2="540.71" stroke="#c4c4c4" stroke-width="0.45"/>
<line x1="153.30" y1="537.04" x2="153.30" y2="540.98" stroke="#c4c4c4" stroke-width="0.45"/>
<line x1="154.90" y1="537.52" x2="154.90" y2="541.22" stroke="#c4c4c4" stroke-width="0.45"/>
<line x1="156.50" y1="537.95" x2="156.50" y2="541.42" stroke="#c4c4c4" stroke-width="0.45"/>
<line x1="158.10" y1="538.34" x2="158.10" y2="541.61" stroke="#c4c4c4" stroke-width="0.45"/>
<line x1="159.70" y1="538.70" x2="159.70" y2="541.78" stroke="#c4c4c4" stroke-width="0.45"/>
<line x1="161.30" y1="539.00" x2="161.30" y2="541.94" stroke="#c4c4c4" stroke-width="0.45"/>
<line x1="162.90" y1="539.28" x2="162.90" y2="542.08" stroke="#c4c4c4" stroke-width="0.45"/>
<line x1="164.50" y1="539.53" x2="164.50" y2="542.21" stroke="#c4c4c4" stroke-width="0.45"/>
<line x1="166.10" y1="539.77" x2="166.10" y2="542.33" stroke="#c4c4c4" stroke-width="0.45"/>
<line x1="167.70" y1="540.00" x2="167.70" y2="542.44" stroke="#c4c4c4" stroke-width="0.45"/>
<line x1="169.30" y1="540.23" x2="169.30" y2="542.55" stroke="#c4c4c4" stroke-width="0.45"/>
<line x1="170.90" y1="540.45" x2="170.90" y2="542.65" stroke="#c4c4c4" stroke-width="0.45"/>
<line x1="172.50" y1="540.67" x2="172.50" y2="542.74" stroke="#c4c4c4" stroke-width="0.45"/>
<line x1="174.10" y1="540.90" x2="174.10" y2="542.83" stroke="#c4c4c4" stroke-width="0.45"/>
<line x1="175.70" y1="541.12" x2="175.70" y2="542.91" stroke="#c4c4c4" stroke-width="0.45"/>
<line x1="177.30" y1="541.38" x2="177.30" y2="542.97" stroke="#c4c4c4" stroke-width="0.45"/>
<polygon points="49.30,540.75 51.68,540.86 55.12,541.11 59.12,541.35 63.19,541.46 66.85,541.31 69.60,540.75 71.33,539.56 72.40,537.96 73.05,536.10 73.53,534.11 74.06,532.12 74.90,530.27 76.04,528.38 77.28,526.39 78.58,524.41 79.90,522.53 81.19,520.85 82.40,519.47 83.53,518.55 84.61,517.90 85.67,517.44 86.71,517.12 87.75,516.86 88.80,516.60 89.84,516.44 90.86,516.35 91.87,516.32 92.91,516.35 94.01,516.44 95.20,516.60 96.47,516.83 97.80,517.11 99.19,517.45 100.63,517.87 102.14,518.37 103.70,518.96 105.29,519.70 106.91,520.55 108.59,521.48 110.36,522.47 112.25,523.50 114.30,524.53 116.55,525.63 118.98,526.80 121.53,528.01 124.14,529.21 126.75,530.36 129.30,531.43 131.79,532.42 134.27,533.36 136.76,534.25 139.24,535.10 141.72,535.91 144.20,536.68 146.71,537.41 149.24,538.10 151.78,538.76 154.29,539.36 156.74,539.92 159.10,540.42 161.33,540.86 163.46,541.23 165.52,541.55 167.58,541.83 169.69,542.08 171.90,542.31 174.40,542.50 177.17,542.64 180.00,542.75 182.65,542.84 184.89,542.92 186.50,543.00 186.50,544.50 184.89,544.55 182.65,544.60 180.00,544.64 177.17,544.66 174.40,544.65 171.90,544.59 169.69,544.50 167.58,544.38 165.52,544.22 163.46,544.03 161.33,543.78 159.10,543.48 156.74,543.12 154.29,542.71 151.78,542.26 149.24,541.75 146.71,541.21 144.20,540.62 141.72,540.00 139.24,539.35 136.76,538.64 134.27,537.90 131.79,537.11 129.30,536.27 126.75,535.35 124.14,534.35 121.53,533.30 118.98,532.24 116.55,531.22 114.30,530.27 112.25,529.34 110.36,528.43 108.59,527.54 106.91,526.72 105.29,525.97 103.70,525.34 102.14,524.78 100.63,524.32 99.19,523.94 97.80,523.64 96.47,523.39 95.20,523.20 94.01,523.04 92.91,522.95 91.87,522.92 90.86,522.95 89.84,523.04 88.80,523.20 87.75,523.26 86.71,523.31 85.67,523.43 84.61,523.67 83.53,524.12 82.40,524.83 81.19,525.76 79.90,526.99 78.58,528.42 77.28,529.95 76.04,531.49 74.90,532.93 74.06,534.49 73.53,536.18 73.05,537.88 72.40,539.45 71.33,540.75 69.60,541.65 66.85,542.21 63.19,542.36 59.12,542.25 55.12,542.01 51.68,541.76 49.30,541.65" fill="#f5b3b7" opacity="0.8"/>
<line x1="50.90" y1="540.82" x2="50.90" y2="541.72" stroke="#ee9ca1" stroke-width="0.45"/>
<line x1="52.50" y1="540.92" x2="52.50" y2="541.82" stroke="#ee9ca1" stroke-width="0.45"/>
<line x1="54.10" y1="541.03" x2="54.10" y2="541.93" stroke="#ee9ca1" stroke-width="0.45"/>
<line x1="55.70" y1="541.14" x2="55.70" y2="542.04" stroke="#ee9ca1" stroke-width="0.45"/>
<line x1="57.30" y1="541.24" x2="57.30" y2="542.14" stroke="#ee9ca1" stroke-width="0.45"/>
<line x1="58.90" y1="541.34" x2="58.90" y2="542.24" stroke="#ee9ca1" stroke-width="0.45"/>
<line x1="60.50" y1="541.39" x2="60.50" y2="542.29" stroke="#ee9ca1" stroke-width="0.45"/>
<line x1="62.10" y1="541.43" x2="62.10" y2="542.33" stroke="#ee9ca1" stroke-width="0.45"/>
<line x1="63.70" y1="541.44" x2="63.70" y2="542.34" stroke="#ee9ca1" stroke-width="0.45"/>
<line x1="65.30" y1="541.37" x2="65.30" y2="542.27" stroke="#ee9ca1" stroke-width="0.45"/>
<line x1="66.90" y1="541.30" x2="66.90" y2="542.20" stroke="#ee9ca1" stroke-width="0.45"/>
<line x1="68.50" y1="540.97" x2="68.50" y2="541.87" stroke="#ee9ca1" stroke-width="0.45"/>
<line x1="70.10" y1="540.40" x2="70.10" y2="541.39" stroke="#ee9ca1" stroke-width="0.45"/>
<line x1="71.70" y1="539.00" x2="71.70" y2="540.30" stroke="#ee9ca1" stroke-width="0.45"/>
<line x1="73.30" y1="535.05" x2="73.30" y2="536.99" stroke="#ee9ca1" stroke-width="0.45"/>
<line x1="74.90" y1="530.27" x2="74.90" y2="532.93" stroke="#ee9ca1" stroke-width="0.45"/>
<line x1="76.50" y1="527.63" x2="76.50" y2="530.92" stroke="#ee9ca1" stroke-width="0.45"/>
<line x1="78.10" y1="525.14" x2="78.10" y2="528.99" stroke="#ee9ca1" stroke-width="0.45"/>
<line x1="79.70" y1="522.81" x2="79.70" y2="527.21" stroke="#ee9ca1" stroke-width="0.45"/>
<line x1="81.30" y1="520.72" x2="81.30" y2="525.68" stroke="#ee9ca1" stroke-width="0.45"/>
<line x1="82.90" y1="519.06" x2="82.90" y2="524.52" stroke="#ee9ca1" stroke-width="0.45"/>
<line x1="84.50" y1="517.96" x2="84.50" y2="523.72" stroke="#ee9ca1" stroke-width="0.45"/>
<line x1="86.10" y1="517.31" x2="86.10" y2="523.38" stroke="#ee9ca1" stroke-width="0.45"/>
<line x1="87.70" y1="516.88" x2="87.70" y2="523.26" stroke="#ee9ca1" stroke-width="0.45"/>
<line x1="89.30" y1="516.53" x2="89.30" y2="523.13" stroke="#ee9ca1" stroke-width="0.45"/>
<line x1="90.90" y1="516.35" x2="90.90" y2="522.95" stroke="#ee9ca1" stroke-width="0.45"/>
<line x1="92.50" y1="516.34" x2="92.50" y2="522.94" stroke="#ee9ca1" stroke-width="0.45"/>
<line x1="94.10" y1="516.46" x2="94.10" y2="523.06" stroke="#ee9ca1" stroke-width="0.45"/>
<line x1="95.70" y1="516.69" x2="95.70" y2="523.28" stroke="#ee9ca1" stroke-width="0.45"/>
<line x1="97.30" y1="517.00" x2="97.30" y2="523.54" stroke="#ee9ca1" stroke-width="0.45"/>
<line x1="98.90" y1="517.38" x2="98.90" y2="523.88" stroke="#ee9ca1" stroke-width="0.45"/>
<line x1="100.50" y1="517.83" x2="100.50" y2="524.29" stroke="#ee9ca1" stroke-width="0.45"/>
<line x1="102.10" y1="518.36" x2="102.10" y2="524.77" stroke="#ee9ca1" stroke-width="0.45"/>
<line x1="103.70" y1="518.96" x2="103.70" y2="525.34" stroke="#ee9ca1" stroke-width="0.45"/>
<line x1="105.30" y1="519.70" x2="105.30" y2="525.98" stroke="#ee9ca1" stroke-width="0.45"/>
<line x1="106.90" y1="520.54" x2="106.90" y2="526.71" stroke="#ee9ca1" stroke-width="0.45"/>
<line x1="108.50" y1="521.43" x2="108.50" y2="527.50" stroke="#ee9ca1" stroke-width="0.45"/>
<line x1="110.10" y1="522.33" x2="110.10" y2="528.30" stroke="#ee9ca1" stroke-width="0.45"/>
<line x1="111.70" y1="523.20" x2="111.70" y2="529.08" stroke="#ee9ca1" stroke-width="0.45"/>
<line x1="113.30" y1="524.02" x2="113.30" y2="529.82" stroke="#ee9ca1" stroke-width="0.45"/>
<line x1="114.90" y1="524.82" x2="114.90" y2="530.52" stroke="#ee9ca1" stroke-width="0.45"/>
<line x1="116.50" y1="525.61" x2="116.50" y2="531.20" stroke="#ee9ca1" stroke-width="0.45"/>
<line x1="118.10" y1="526.38" x2="118.10" y2="531.87" stroke="#ee9ca1" stroke-width="0.45"/>
<line x1="119.70" y1="527.14" x2="119.70" y2="532.54" stroke="#ee9ca1" stroke-width="0.45"/>
<line x1="121.30" y1="527.90" x2="121.30" y2="533.20" stroke="#ee9ca1" stroke-width="0.45"/>
<line x1="122.90" y1="528.64" x2="122.90" y2="533.85" stroke="#ee9ca1" stroke-width="0.45"/>
<line x1="124.50" y1="529.36" x2="124.50" y2="534.49" stroke="#ee9ca1" stroke-width="0.45"/>
<line x1="126.10" y1="530.07" x2="126.10" y2="535.10" stroke="#ee9ca1" stroke-width="0.45"/>
<line x1="127.70" y1="530.76" x2="127.70" y2="535.69" stroke="#ee9ca1" stroke-width="0.45"/>
<line x1="129.30" y1="531.43" x2="129.30" y2="536.27" stroke="#ee9ca1" stroke-width="0.45"/>
<line x1="130.90" y1="532.06" x2="130.90" y2="536.81" stroke="#ee9ca1" stroke-width="0.45"/>
<line x1="132.50" y1="532.69" x2="132.50" y2="537.34" stroke="#ee9ca1" stroke-width="0.45"/>
<line x1="134.10" y1="533.29" x2="134.10" y2="537.84" stroke="#ee9ca1" stroke-width="0.45"/>
<line x1="135.70" y1="533.87" x2="135.70" y2="538.33" stroke="#ee9ca1" stroke-width="0.45"/>
<line x1="137.30" y1="534.44" x2="137.30" y2="538.80" stroke="#ee9ca1" stroke-width="0.45"/>
<line x1="138.90" y1="534.98" x2="138.90" y2="539.25" stroke="#ee9ca1" stroke-width="0.45"/>
<line x1="140.50" y1="535.51" x2="140.50" y2="539.68" stroke="#ee9ca1" stroke-width="0.45"/>
<line x1="142.10" y1="536.03" x2="142.10" y2="540.10" stroke="#ee9ca1" stroke-width="0.45"/>
<line x1="143.70" y1="536.52" x2="143.70" y2="540.50" stroke="#ee9ca1" stroke-width="0.45"/>
<line x1="145.30" y1="537.00" x2="145.30" y2="540.88" stroke="#ee9ca1" stroke-width="0.45"/>
<line x1="146.90" y1="537.46" x2="146.90" y2="541.25" stroke="#ee9ca1" stroke-width="0.45"/>
<line x1="148.50" y1="537.90" x2="148.50" y2="541.59" stroke="#ee9ca1" stroke-width="0.45"/>
<line x1="150.10" y1="538.32" x2="150.10" y2="541.92" stroke="#ee9ca1" stroke-width="0.45"/>
<line x1="151.70" y1="538.73" x2="151.70" y2="542.24" stroke="#ee9ca1" stroke-width="0.45"/>
<line x1="153.30" y1="539.12" x2="153.30" y2="542.53" stroke="#ee9ca1" stroke-width="0.45"/>
<line x1="154.90" y1="539.50" x2="154.90" y2="542.82" stroke="#ee9ca1" stroke-width="0.45"/>
<line x1="156.50" y1="539.87" x2="156.50" y2="543.08" stroke="#ee9ca1" stroke-width="0.45"/>
<line x1="158.10" y1="540.21" x2="158.10" y2="543.33" stroke="#ee9ca1" stroke-width="0.45"/>
<line x1="159.70" y1="540.54" x2="159.70" y2="543.56" stroke="#ee9ca1" stroke-width="0.45"/>
<line x1="161.30" y1="540.85" x2="161.30" y2="543.78" stroke="#ee9ca1" stroke-width="0.45"/>
<line x1="162.90" y1="541.13" x2="162.90" y2="543.96" stroke="#ee9ca1" stroke-width="0.45"/>
<line x1="164.50" y1="541.39" x2="164.50" y2="544.13" stroke="#ee9ca1" stroke-width="0.45"/>
<line x1="166.10" y1="541.63" x2="166.10" y2="544.27" stroke="#ee9ca1" stroke-width="0.45"/>
<line x1="167.70" y1="541.85" x2="167.70" y2="544.38" stroke="#ee9ca1" stroke-width="0.45"/>
<line x1="169.30" y1="542.04" x2="169.30" y2="544.48" stroke="#ee9ca1" stroke-width="0.45"/>
<line x1="170.90" y1="542.21" x2="170.90" y2="544.55" stroke="#ee9ca1" stroke-width="0.45"/>
<line x1="172.50" y1="542.35" x2="172.50" y2="544.61" stroke="#ee9ca1" stroke-width="0.45"/>
<line x1="174.10" y1="542.47" x2="174.10" y2="544.64" stroke="#ee9ca1" stroke-width="0.45"/>
<line x1="175.70" y1="542.56" x2="175.70" y2="544.66" stroke="#ee9ca1" stroke-width="0.45"/>
<line x1="177.30" y1="542.64" x2="177.30" y2="544.66" stroke="#ee9ca1" stroke-width="0.45"/>
<line x1="178.90" y1="542.70" x2="178.90" y2="544.65" stroke="#ee9ca1" stroke-width="0.45"/>
<line x1="180.50" y1="542.76" x2="180.50" y2="544.63" stroke="#ee9ca1" stroke-width="0.45"/>
<line x1="182.10" y1="542.82" x2="182.10" y2="544.61" stroke="#ee9ca1" stroke-width="0.45"/>
<line x1="183.70" y1="542.87" x2="183.70" y2="544.57" stroke="#ee9ca1" stroke-width="0.45"/>
<line x1="185.30" y1="542.94" x2="185.30" y2="544.53" stroke="#ee9ca1" stroke-width="0.45"/>
<polyline points="49.30,541.20 51.69,541.29 55.16,541.47 59.19,541.66 63.27,541.74 66.91,541.63 69.60,541.20 71.21,540.45 72.11,539.46 72.57,538.26 72.83,536.89 73.16,535.41 73.80,533.85 74.74,532.09 75.77,530.08 76.86,527.94 77.99,525.82 79.11,523.85 80.20,522.15 81.24,520.73 82.25,519.49 83.26,518.39 84.30,517.41 85.41,516.52 86.60,515.70 87.93,514.94 89.39,514.27 90.91,513.69 92.42,513.21 93.87,512.83 95.20,512.55 96.36,512.38 97.39,512.31 98.35,512.34 99.31,512.47 100.34,512.69 101.50,513.00 102.78,513.39 104.12,513.87 105.53,514.43 107.00,515.10 108.52,515.87 110.10,516.75 111.73,517.78 113.40,518.98 115.14,520.28 116.93,521.62 118.78,522.97 120.70,524.25 122.71,525.51 124.80,526.78 126.96,528.06 129.15,529.30 131.34,530.49 133.50,531.60 135.63,532.64 137.77,533.63 139.90,534.56 142.03,535.44 144.17,536.25 146.30,537.00 148.36,537.67 150.34,538.26 152.32,538.78 154.38,539.26 156.61,539.71 159.10,540.15 162.12,540.59 165.65,541.01 169.35,541.40 172.87,541.74 175.87,542.03 178.00,542.25" fill="none" stroke="#000" stroke-width="1.6" stroke-linejoin="round"/>
<polyline points="49.30,541.20 51.68,541.31 55.12,541.56 59.12,541.80 63.19,541.91 66.85,541.76 69.60,541.20 71.33,540.15 72.40,538.71 73.05,536.99 73.53,535.14 74.06,533.30 74.90,531.60 76.04,529.93 77.28,528.17 78.58,526.42 79.90,524.76 81.19,523.31 82.40,522.15 83.53,521.33 84.61,520.78 85.67,520.43 86.71,520.22 87.75,520.06 88.80,519.90 89.84,519.74 90.86,519.65 91.87,519.62 92.91,519.65 94.01,519.74 95.20,519.90 96.47,520.11 97.80,520.37 99.19,520.70 100.63,521.09 102.14,521.58 103.70,522.15 105.29,522.84 106.91,523.63 108.59,524.51 110.36,525.45 112.25,526.42 114.30,527.40 116.55,528.42 118.98,529.52 121.53,530.65 124.14,531.78 126.75,532.86 129.30,533.85 131.79,534.76 134.27,535.63 136.76,536.45 139.24,537.22 141.72,537.96 144.20,538.65 146.71,539.31 149.24,539.93 151.78,540.51 154.29,541.04 156.74,541.52 159.10,541.95 161.33,542.32 163.46,542.63 165.52,542.89 167.58,543.11 169.69,543.29 171.90,543.45 174.40,543.57 177.17,543.65 180.00,543.69 182.65,543.72 184.89,543.73 186.50,543.75" fill="none" stroke="#ff2a2a" stroke-width="2.0" stroke-linejoin="round"/>
<line x1="49.30" y1="436.20" x2="49.30" y2="556.20" stroke="#222" stroke-width="1.3"/>
<line x1="45.10" y1="556.20" x2="49.30" y2="556.20" stroke="#222" stroke-width="1.3"/>
<text x="42.10" y="559.44" font-size="9.0" font-weight="bold" font-style="normal" text-anchor="end" fill="#111">0</text>
<line x1="45.10" y1="526.20" x2="49.30" y2="526.20" stroke="#222" stroke-width="1.3"/>
<text x="42.10" y="529.44" font-size="9.0" font-weight="bold" font-style="normal" text-anchor="end" fill="#111">2</text>
<line x1="45.10" y1="496.20" x2="49.30" y2="496.20" stroke="#222" stroke-width="1.3"/>
<text x="42.10" y="499.44" font-size="9.0" font-weight="bold" font-style="normal" text-anchor="end" fill="#111">4</text>
<line x1="45.10" y1="466.20" x2="49.30" y2="466.20" stroke="#222" stroke-width="1.3"/>
<text x="42.10" y="469.44" font-size="9.0" font-weight="bold" font-style="normal" text-anchor="end" fill="#111">6</text>
<line x1="45.10" y1="436.20" x2="49.30" y2="436.20" stroke="#222" stroke-width="1.3"/>
<text x="42.10" y="439.44" font-size="9.0" font-weight="bold" font-style="normal" text-anchor="end" fill="#111">8</text>
<text x="20.50" y="495.70" font-size="10.1" font-weight="bold" font-style="normal" text-anchor="middle" fill="#111" transform="rotate(-90 20.50 495.70)">Relative cytosolic</text>
<text x="32.40" y="495.70" font-size="10.1" font-weight="bold" font-style="normal" text-anchor="middle" fill="#111" transform="rotate(-90 32.40 495.70)">calcium level (F/F0)</text>
<text x="66.80" y="443.60" font-size="10.4" font-weight="normal" font-style="normal" text-anchor="middle" fill="#222" stroke="#222" stroke-width="0.2">TG</text>
<line x1="66.80" y1="446.50" x2="66.80" y2="456.80" stroke="#000" stroke-width="2.2"/>
<polygon points="62.00,455.20 71.60,455.20 66.80,464.80" fill="#000"/>
<line x1="122.60" y1="421.90" x2="135.80" y2="421.90" stroke="#000" stroke-width="1.4"/>
<text x="143.00" y="424.80" font-size="10.1" font-weight="normal" font-style="normal" text-anchor="start" fill="#222" stroke="#222" stroke-width="0.2"><tspan font-style="italic">CDK4</tspan>-WT</text>
<line x1="122.60" y1="437.10" x2="135.80" y2="437.10" stroke="#ff2a2a" stroke-width="1.4"/>
<text x="143.00" y="439.40" font-size="10.1" font-weight="normal" font-style="normal" text-anchor="start" fill="#222" stroke="#222" stroke-width="0.2"><tspan font-style="italic">CDK4</tspan>-KO</text>
<line x1="160.00" y1="567.00" x2="186.30" y2="567.00" stroke="#000" stroke-width="1.5"/>
<text x="172.30" y="562.00" font-size="10" font-weight="bold" font-style="normal" text-anchor="middle" fill="#000">60s</text>
<text x="335.60" y="424.60" font-size="16" font-weight="bold" font-style="normal" text-anchor="start" fill="#000">j</text>
<rect x="396.30" y="444.40" width="140.80" height="104.00" fill="#f2f2f2" stroke="none" stroke-width="1"/>
<rect x="396.30" y="444.40" width="18.60" height="104.00" fill="#e4e4e4" stroke="none" stroke-width="1"/>
<polygon points="395.60,539.47 396.76,539.61 398.39,539.82 400.30,540.05 402.34,540.30 404.33,540.52 406.10,540.69 407.74,540.84 409.40,540.98 411.02,541.10 412.52,541.18 413.83,541.21 414.90,541.15 415.66,540.43 416.16,540.06 416.48,539.63 416.69,538.73 416.87,536.94 417.10,533.83 417.35,530.01 417.55,524.81 417.72,518.71 417.87,512.21 418.03,505.80 418.20,499.97 418.38,494.41 418.54,488.67 418.71,483.01 418.89,477.72 419.08,473.06 419.30,469.32 419.54,466.61 419.79,464.71 420.05,463.46 420.34,462.66 420.65,462.14 421.00,461.70 421.37,461.42 421.77,461.48 422.19,461.81 422.64,462.35 423.15,463.05 423.70,463.83 424.30,464.77 424.93,465.92 425.61,467.23 426.34,468.62 427.13,470.05 428.00,471.46 428.98,472.89 430.07,474.40 431.23,475.95 432.40,477.48 433.54,478.95 434.60,480.30 435.58,481.48 436.51,482.49 437.42,483.45 438.31,484.43 439.20,485.54 440.10,486.86 441.02,488.44 441.94,490.20 442.86,492.08 443.77,494.03 444.69,495.97 445.60,497.84 446.50,499.66 447.40,501.49 448.30,503.32 449.20,505.13 450.10,506.92 451.00,508.67 451.90,510.38 452.79,512.08 453.68,513.75 454.58,515.39 455.52,517.00 456.50,518.58 457.51,520.13 458.54,521.65 459.60,523.15 460.70,524.61 461.87,526.03 463.10,527.42 464.43,528.81 465.84,530.19 467.31,531.54 468.81,532.82 470.32,534.01 471.80,535.05 473.24,535.95 474.65,536.72 476.06,537.39 477.51,537.99 479.01,538.52 480.60,539.01 482.24,539.45 483.91,539.81 485.64,540.11 487.46,540.36 489.40,540.60 491.50,540.85 493.69,541.29 495.94,541.73 498.31,542.14 500.88,542.53 503.72,542.90 506.90,543.25 510.81,544.09 515.48,544.91 520.41,545.70 525.13,546.48 529.16,547.25 532.00,548.01 532.00,549.54 529.16,550.23 525.13,550.93 520.41,551.61 515.48,552.27 510.81,552.92 506.90,553.54 503.72,553.61 500.88,553.66 498.31,553.69 495.94,553.69 493.69,553.68 491.50,553.65 489.40,553.41 487.46,553.17 485.64,552.92 483.91,552.62 482.24,552.26 480.60,551.82 479.01,551.33 477.51,550.80 476.06,550.20 474.65,549.53 473.24,548.76 471.80,547.86 470.32,546.82 468.81,545.63 467.31,544.35 465.84,543.00 464.43,541.62 463.10,540.24 461.87,538.84 460.70,537.42 459.60,535.96 458.54,534.46 457.51,532.94 456.50,531.39 455.52,529.81 454.58,528.20 453.68,526.56 452.79,524.89 451.90,523.19 451.00,521.48 450.10,519.73 449.20,517.94 448.30,516.13 447.40,514.30 446.50,512.47 445.60,510.65 444.69,508.78 443.77,506.84 442.86,504.89 441.94,503.01 441.02,501.25 440.10,499.67 439.20,498.35 438.31,497.24 437.42,496.26 436.51,495.30 435.58,494.29 434.60,493.11 433.54,491.76 432.40,490.29 431.23,488.76 430.07,487.21 428.98,485.70 428.00,484.27 427.13,482.86 426.34,481.43 425.61,480.04 424.93,478.73 424.30,477.58 423.70,476.64 423.15,475.86 422.64,475.16 422.19,474.62 421.77,474.29 421.37,474.23 421.00,474.51 420.65,474.95 420.34,475.47 420.05,476.27 419.79,477.52 419.54,479.42 419.30,482.13 419.08,485.87 418.89,490.53 418.71,495.82 418.54,501.48 418.38,507.22 418.20,512.78 418.03,518.61 417.87,525.02 417.72,531.52 417.55,537.62 417.35,542.82 417.10,546.64 416.87,547.87 416.69,547.78 416.48,546.80 416.16,545.35 415.66,543.83 414.90,542.67 413.83,542.73 412.52,542.71 411.02,542.63 409.40,542.51 407.74,542.36 406.10,542.22 404.33,542.04 402.34,541.82 400.30,541.58 398.39,541.34 396.76,541.14 395.60,541.00" fill="#cfcfcf" opacity="0.75"/>
<line x1="397.20" y1="539.67" x2="397.20" y2="541.19" stroke="#c4c4c4" stroke-width="0.45"/>
<line x1="398.80" y1="539.87" x2="398.80" y2="541.39" stroke="#c4c4c4" stroke-width="0.45"/>
<line x1="400.40" y1="540.07" x2="400.40" y2="541.59" stroke="#c4c4c4" stroke-width="0.45"/>
<line x1="402.00" y1="540.26" x2="402.00" y2="541.78" stroke="#c4c4c4" stroke-width="0.45"/>
<line x1="403.60" y1="540.44" x2="403.60" y2="541.96" stroke="#c4c4c4" stroke-width="0.45"/>
<line x1="405.20" y1="540.60" x2="405.20" y2="542.13" stroke="#c4c4c4" stroke-width="0.45"/>
<line x1="406.80" y1="540.75" x2="406.80" y2="542.28" stroke="#c4c4c4" stroke-width="0.45"/>
<line x1="408.40" y1="540.89" x2="408.40" y2="542.42" stroke="#c4c4c4" stroke-width="0.45"/>
<line x1="410.00" y1="541.03" x2="410.00" y2="542.55" stroke="#c4c4c4" stroke-width="0.45"/>
<line x1="411.60" y1="541.13" x2="411.60" y2="542.66" stroke="#c4c4c4" stroke-width="0.45"/>
<line x1="413.20" y1="541.20" x2="413.20" y2="542.72" stroke="#c4c4c4" stroke-width="0.45"/>
<line x1="414.80" y1="541.16" x2="414.80" y2="542.68" stroke="#c4c4c4" stroke-width="0.45"/>
<line x1="416.40" y1="539.74" x2="416.40" y2="546.43" stroke="#c4c4c4" stroke-width="0.45"/>
<line x1="418.00" y1="507.02" x2="418.00" y2="519.83" stroke="#c4c4c4" stroke-width="0.45"/>
<line x1="419.60" y1="466.13" x2="419.60" y2="478.94" stroke="#c4c4c4" stroke-width="0.45"/>
<line x1="421.20" y1="461.55" x2="421.20" y2="474.36" stroke="#c4c4c4" stroke-width="0.45"/>
<line x1="422.80" y1="462.57" x2="422.80" y2="475.38" stroke="#c4c4c4" stroke-width="0.45"/>
<line x1="424.40" y1="464.96" x2="424.40" y2="477.77" stroke="#c4c4c4" stroke-width="0.45"/>
<line x1="426.00" y1="467.98" x2="426.00" y2="480.79" stroke="#c4c4c4" stroke-width="0.45"/>
<line x1="427.60" y1="470.81" x2="427.60" y2="483.62" stroke="#c4c4c4" stroke-width="0.45"/>
<line x1="429.20" y1="473.19" x2="429.20" y2="486.00" stroke="#c4c4c4" stroke-width="0.45"/>
<line x1="430.80" y1="475.38" x2="430.80" y2="488.19" stroke="#c4c4c4" stroke-width="0.45"/>
<line x1="432.40" y1="477.48" x2="432.40" y2="490.29" stroke="#c4c4c4" stroke-width="0.45"/>
<line x1="434.00" y1="479.54" x2="434.00" y2="492.35" stroke="#c4c4c4" stroke-width="0.45"/>
<line x1="435.60" y1="481.50" x2="435.60" y2="494.31" stroke="#c4c4c4" stroke-width="0.45"/>
<line x1="437.20" y1="483.22" x2="437.20" y2="496.03" stroke="#c4c4c4" stroke-width="0.45"/>
<line x1="438.80" y1="485.04" x2="438.80" y2="497.85" stroke="#c4c4c4" stroke-width="0.45"/>
<line x1="440.40" y1="487.38" x2="440.40" y2="500.19" stroke="#c4c4c4" stroke-width="0.45"/>
<line x1="442.00" y1="490.33" x2="442.00" y2="503.14" stroke="#c4c4c4" stroke-width="0.45"/>
<line x1="443.60" y1="493.66" x2="443.60" y2="506.47" stroke="#c4c4c4" stroke-width="0.45"/>
<line x1="445.20" y1="497.02" x2="445.20" y2="509.83" stroke="#c4c4c4" stroke-width="0.45"/>
<line x1="446.80" y1="500.27" x2="446.80" y2="513.08" stroke="#c4c4c4" stroke-width="0.45"/>
<line x1="448.40" y1="503.52" x2="448.40" y2="516.33" stroke="#c4c4c4" stroke-width="0.45"/>
<line x1="450.00" y1="506.73" x2="450.00" y2="519.54" stroke="#c4c4c4" stroke-width="0.45"/>
<line x1="451.60" y1="509.81" x2="451.60" y2="522.62" stroke="#c4c4c4" stroke-width="0.45"/>
<line x1="453.20" y1="512.86" x2="453.20" y2="525.67" stroke="#c4c4c4" stroke-width="0.45"/>
<line x1="454.80" y1="515.76" x2="454.80" y2="528.57" stroke="#c4c4c4" stroke-width="0.45"/>
<line x1="456.40" y1="518.42" x2="456.40" y2="531.23" stroke="#c4c4c4" stroke-width="0.45"/>
<line x1="458.00" y1="520.85" x2="458.00" y2="533.66" stroke="#c4c4c4" stroke-width="0.45"/>
<line x1="459.60" y1="523.15" x2="459.60" y2="535.96" stroke="#c4c4c4" stroke-width="0.45"/>
<line x1="461.20" y1="525.22" x2="461.20" y2="538.03" stroke="#c4c4c4" stroke-width="0.45"/>
<line x1="462.80" y1="527.09" x2="462.80" y2="539.90" stroke="#c4c4c4" stroke-width="0.45"/>
<line x1="464.40" y1="528.78" x2="464.40" y2="541.59" stroke="#c4c4c4" stroke-width="0.45"/>
<line x1="466.00" y1="530.34" x2="466.00" y2="543.15" stroke="#c4c4c4" stroke-width="0.45"/>
<line x1="467.60" y1="531.79" x2="467.60" y2="544.60" stroke="#c4c4c4" stroke-width="0.45"/>
<line x1="469.20" y1="533.13" x2="469.20" y2="545.94" stroke="#c4c4c4" stroke-width="0.45"/>
<line x1="470.80" y1="534.34" x2="470.80" y2="547.15" stroke="#c4c4c4" stroke-width="0.45"/>
<line x1="472.40" y1="535.42" x2="472.40" y2="548.23" stroke="#c4c4c4" stroke-width="0.45"/>
<line x1="474.00" y1="536.37" x2="474.00" y2="549.18" stroke="#c4c4c4" stroke-width="0.45"/>
<line x1="475.60" y1="537.17" x2="475.60" y2="549.98" stroke="#c4c4c4" stroke-width="0.45"/>
<line x1="477.20" y1="537.86" x2="477.20" y2="550.67" stroke="#c4c4c4" stroke-width="0.45"/>
<line x1="478.80" y1="538.45" x2="478.80" y2="551.26" stroke="#c4c4c4" stroke-width="0.45"/>
<line x1="480.40" y1="538.95" x2="480.40" y2="551.76" stroke="#c4c4c4" stroke-width="0.45"/>
<line x1="482.00" y1="539.39" x2="482.00" y2="552.20" stroke="#c4c4c4" stroke-width="0.45"/>
<line x1="483.60" y1="539.74" x2="483.60" y2="552.55" stroke="#c4c4c4" stroke-width="0.45"/>
<line x1="485.20" y1="540.03" x2="485.20" y2="552.84" stroke="#c4c4c4" stroke-width="0.45"/>
<line x1="486.80" y1="540.27" x2="486.80" y2="553.08" stroke="#c4c4c4" stroke-width="0.45"/>
<line x1="488.40" y1="540.48" x2="488.40" y2="553.29" stroke="#c4c4c4" stroke-width="0.45"/>
<line x1="490.00" y1="540.67" x2="490.00" y2="553.48" stroke="#c4c4c4" stroke-width="0.45"/>
<line x1="491.60" y1="540.87" x2="491.60" y2="553.66" stroke="#c4c4c4" stroke-width="0.45"/>
<line x1="493.20" y1="541.19" x2="493.20" y2="553.68" stroke="#c4c4c4" stroke-width="0.45"/>
<line x1="494.80" y1="541.51" x2="494.80" y2="553.69" stroke="#c4c4c4" stroke-width="0.45"/>
<line x1="496.40" y1="541.81" x2="496.40" y2="553.69" stroke="#c4c4c4" stroke-width="0.45"/>
<line x1="498.00" y1="542.08" x2="498.00" y2="553.69" stroke="#c4c4c4" stroke-width="0.45"/>
<line x1="499.60" y1="542.34" x2="499.60" y2="553.67" stroke="#c4c4c4" stroke-width="0.45"/>
<line x1="501.20" y1="542.57" x2="501.20" y2="553.65" stroke="#c4c4c4" stroke-width="0.45"/>
<line x1="502.80" y1="542.78" x2="502.80" y2="553.62" stroke="#c4c4c4" stroke-width="0.45"/>
<line x1="504.40" y1="542.98" x2="504.40" y2="553.59" stroke="#c4c4c4" stroke-width="0.45"/>
<line x1="506.00" y1="543.15" x2="506.00" y2="553.56" stroke="#c4c4c4" stroke-width="0.45"/>
<line x1="507.60" y1="543.40" x2="507.60" y2="553.43" stroke="#c4c4c4" stroke-width="0.45"/>
<line x1="509.20" y1="543.75" x2="509.20" y2="553.17" stroke="#c4c4c4" stroke-width="0.45"/>
<line x1="510.80" y1="544.09" x2="510.80" y2="552.92" stroke="#c4c4c4" stroke-width="0.45"/>
<line x1="512.40" y1="544.37" x2="512.40" y2="552.70" stroke="#c4c4c4" stroke-width="0.45"/>
<line x1="514.00" y1="544.65" x2="514.00" y2="552.48" stroke="#c4c4c4" stroke-width="0.45"/>
<line x1="515.60" y1="544.93" x2="515.60" y2="552.26" stroke="#c4c4c4" stroke-width="0.45"/>
<line x1="517.20" y1="545.19" x2="517.20" y2="552.04" stroke="#c4c4c4" stroke-width="0.45"/>
<line x1="518.80" y1="545.44" x2="518.80" y2="551.83" stroke="#c4c4c4" stroke-width="0.45"/>
<line x1="520.40" y1="545.70" x2="520.40" y2="551.61" stroke="#c4c4c4" stroke-width="0.45"/>
<line x1="522.00" y1="545.97" x2="522.00" y2="551.38" stroke="#c4c4c4" stroke-width="0.45"/>
<line x1="523.60" y1="546.23" x2="523.60" y2="551.15" stroke="#c4c4c4" stroke-width="0.45"/>
<line x1="525.20" y1="546.49" x2="525.20" y2="550.92" stroke="#c4c4c4" stroke-width="0.45"/>
<line x1="526.80" y1="546.80" x2="526.80" y2="550.64" stroke="#c4c4c4" stroke-width="0.45"/>
<line x1="528.40" y1="547.11" x2="528.40" y2="550.36" stroke="#c4c4c4" stroke-width="0.45"/>
<line x1="530.00" y1="547.48" x2="530.00" y2="550.03" stroke="#c4c4c4" stroke-width="0.45"/>
<line x1="531.60" y1="547.91" x2="531.60" y2="549.64" stroke="#c4c4c4" stroke-width="0.45"/>
<polygon points="395.60,539.47 397.90,539.77 401.23,540.24 405.10,540.76 409.00,541.25 412.44,541.62 414.90,541.76 416.29,540.36 416.99,539.20 417.21,537.92 417.19,536.13 417.15,533.47 417.30,529.56 417.60,525.66 417.86,520.33 418.10,514.13 418.33,507.59 418.55,501.27 418.80,495.70 419.04,490.55 419.26,485.31 419.49,480.27 419.74,475.76 420.03,472.06 420.40,469.47 420.81,468.29 421.26,468.32 421.74,469.16 422.30,470.43 422.95,471.73 423.70,472.68 424.60,473.33 425.63,474.02 426.74,474.75 427.91,475.50 429.07,476.29 430.20,477.10 431.27,477.95 432.31,478.85 433.36,479.78 434.43,480.72 435.57,481.66 436.80,482.59 438.14,483.48 439.57,484.34 441.07,485.20 442.59,486.09 444.11,487.04 445.60,488.08 447.05,489.23 448.50,490.46 449.95,491.75 451.40,493.07 452.85,494.40 454.30,495.70 455.76,496.99 457.23,498.29 458.70,499.59 460.17,500.90 461.64,502.19 463.10,503.48 464.55,504.77 466.00,506.07 467.45,507.37 468.90,508.65 470.35,509.90 471.80,511.11 473.24,512.26 474.65,513.37 476.06,514.45 477.51,515.52 479.01,516.58 480.60,517.66 482.29,518.77 484.07,519.90 485.91,521.02 487.78,522.13 489.65,523.20 491.50,524.22 493.33,525.20 495.16,526.15 497.00,527.06 498.84,527.94 500.67,528.77 502.50,529.56 504.32,530.72 506.14,531.83 507.95,532.90 509.76,533.93 511.58,534.94 513.40,535.93 515.26,537.04 517.17,538.13 519.08,539.18 520.94,540.22 522.73,541.22 524.40,542.19 526.01,542.99 527.61,543.77 529.14,544.52 530.51,545.23 531.65,545.89 532.50,546.49 532.50,551.06 531.65,551.29 530.51,551.45 529.14,551.56 527.61,551.64 526.01,551.68 524.40,551.70 522.73,551.85 520.94,551.97 519.08,552.06 517.17,552.12 515.26,552.15 513.40,552.16 511.58,552.02 509.76,551.87 507.95,551.69 506.14,551.47 504.32,551.22 502.50,550.91 500.67,550.12 498.84,549.29 497.00,548.41 495.16,547.50 493.33,546.55 491.50,545.57 489.65,544.55 487.78,543.48 485.91,542.37 484.07,541.25 482.29,540.12 480.60,539.01 479.01,537.93 477.51,536.87 476.06,535.80 474.65,534.72 473.24,533.61 471.80,532.46 470.35,531.25 468.90,530.00 467.45,528.72 466.00,527.42 464.55,526.12 463.10,524.83 461.64,523.54 460.17,522.25 458.70,520.94 457.23,519.64 455.76,518.34 454.30,517.05 452.85,515.75 451.40,514.42 449.95,513.10 448.50,511.81 447.05,510.58 445.60,509.43 444.11,508.39 442.59,507.44 441.07,506.55 439.57,505.69 438.14,504.83 436.80,503.94 435.57,503.01 434.43,502.07 433.36,501.13 432.31,500.20 431.27,499.30 430.20,498.45 429.07,497.64 427.91,496.85 426.74,496.10 425.63,495.37 424.60,494.68 423.70,494.03 422.95,493.08 422.30,491.78 421.74,490.51 421.26,489.67 420.81,489.64 420.40,490.82 420.03,493.41 419.74,497.11 419.49,501.62 419.26,506.66 419.04,511.90 418.80,517.05 418.55,522.62 418.33,528.94 418.10,535.48 417.86,541.68 417.60,547.01 417.30,550.91 417.15,551.52 417.19,550.88 417.21,549.36 416.99,547.33 416.29,545.19 414.90,543.28 412.44,543.14 409.00,542.78 405.10,542.28 401.23,541.76 397.90,541.30 395.60,541.00" fill="#f5b3b7" opacity="0.75"/>
<line x1="397.20" y1="539.68" x2="397.20" y2="541.21" stroke="#ee9ca1" stroke-width="0.45"/>
<line x1="398.80" y1="539.90" x2="398.80" y2="541.42" stroke="#ee9ca1" stroke-width="0.45"/>
<line x1="400.40" y1="540.12" x2="400.40" y2="541.65" stroke="#ee9ca1" stroke-width="0.45"/>
<line x1="402.00" y1="540.34" x2="402.00" y2="541.86" stroke="#ee9ca1" stroke-width="0.45"/>
<line x1="403.60" y1="540.56" x2="403.60" y2="542.08" stroke="#ee9ca1" stroke-width="0.45"/>
<line x1="405.20" y1="540.77" x2="405.20" y2="542.30" stroke="#ee9ca1" stroke-width="0.45"/>
<line x1="406.80" y1="540.97" x2="406.80" y2="542.50" stroke="#ee9ca1" stroke-width="0.45"/>
<line x1="408.40" y1="541.18" x2="408.40" y2="542.70" stroke="#ee9ca1" stroke-width="0.45"/>
<line x1="410.00" y1="541.36" x2="410.00" y2="542.88" stroke="#ee9ca1" stroke-width="0.45"/>
<line x1="411.60" y1="541.53" x2="411.60" y2="543.05" stroke="#ee9ca1" stroke-width="0.45"/>
<line x1="413.20" y1="541.66" x2="413.20" y2="543.19" stroke="#ee9ca1" stroke-width="0.45"/>
<line x1="414.80" y1="541.75" x2="414.80" y2="543.28" stroke="#ee9ca1" stroke-width="0.45"/>
<line x1="416.40" y1="540.17" x2="416.40" y2="545.53" stroke="#ee9ca1" stroke-width="0.45"/>
<line x1="418.00" y1="516.75" x2="418.00" y2="538.10" stroke="#ee9ca1" stroke-width="0.45"/>
<line x1="419.60" y1="478.24" x2="419.60" y2="499.59" stroke="#ee9ca1" stroke-width="0.45"/>
<line x1="421.20" y1="468.31" x2="421.20" y2="489.66" stroke="#ee9ca1" stroke-width="0.45"/>
<line x1="422.80" y1="471.44" x2="422.80" y2="492.79" stroke="#ee9ca1" stroke-width="0.45"/>
<line x1="424.40" y1="473.19" x2="424.40" y2="494.54" stroke="#ee9ca1" stroke-width="0.45"/>
<line x1="426.00" y1="474.26" x2="426.00" y2="495.61" stroke="#ee9ca1" stroke-width="0.45"/>
<line x1="427.60" y1="475.30" x2="427.60" y2="496.65" stroke="#ee9ca1" stroke-width="0.45"/>
<line x1="429.20" y1="476.38" x2="429.20" y2="497.73" stroke="#ee9ca1" stroke-width="0.45"/>
<line x1="430.80" y1="477.58" x2="430.80" y2="498.93" stroke="#ee9ca1" stroke-width="0.45"/>
<line x1="432.40" y1="478.93" x2="432.40" y2="500.28" stroke="#ee9ca1" stroke-width="0.45"/>
<line x1="434.00" y1="480.34" x2="434.00" y2="501.69" stroke="#ee9ca1" stroke-width="0.45"/>
<line x1="435.60" y1="481.68" x2="435.60" y2="503.03" stroke="#ee9ca1" stroke-width="0.45"/>
<line x1="437.20" y1="482.86" x2="437.20" y2="504.21" stroke="#ee9ca1" stroke-width="0.45"/>
<line x1="438.80" y1="483.88" x2="438.80" y2="505.23" stroke="#ee9ca1" stroke-width="0.45"/>
<line x1="440.40" y1="484.82" x2="440.40" y2="506.17" stroke="#ee9ca1" stroke-width="0.45"/>
<line x1="442.00" y1="485.75" x2="442.00" y2="507.10" stroke="#ee9ca1" stroke-width="0.45"/>
<line x1="443.60" y1="486.72" x2="443.60" y2="508.07" stroke="#ee9ca1" stroke-width="0.45"/>
<line x1="445.20" y1="487.80" x2="445.20" y2="509.15" stroke="#ee9ca1" stroke-width="0.45"/>
<line x1="446.80" y1="489.02" x2="446.80" y2="510.37" stroke="#ee9ca1" stroke-width="0.45"/>
<line x1="448.40" y1="490.37" x2="448.40" y2="511.72" stroke="#ee9ca1" stroke-width="0.45"/>
<line x1="450.00" y1="491.80" x2="450.00" y2="513.15" stroke="#ee9ca1" stroke-width="0.45"/>
<line x1="451.60" y1="493.26" x2="451.60" y2="514.61" stroke="#ee9ca1" stroke-width="0.45"/>
<line x1="453.20" y1="494.72" x2="453.20" y2="516.07" stroke="#ee9ca1" stroke-width="0.45"/>
<line x1="454.80" y1="496.15" x2="454.80" y2="517.50" stroke="#ee9ca1" stroke-width="0.45"/>
<line x1="456.40" y1="497.56" x2="456.40" y2="518.91" stroke="#ee9ca1" stroke-width="0.45"/>
<line x1="458.00" y1="498.97" x2="458.00" y2="520.32" stroke="#ee9ca1" stroke-width="0.45"/>
<line x1="459.60" y1="500.39" x2="459.60" y2="521.74" stroke="#ee9ca1" stroke-width="0.45"/>
<line x1="461.20" y1="501.81" x2="461.20" y2="523.16" stroke="#ee9ca1" stroke-width="0.45"/>
<line x1="462.80" y1="503.22" x2="462.80" y2="524.57" stroke="#ee9ca1" stroke-width="0.45"/>
<line x1="464.40" y1="504.64" x2="464.40" y2="525.99" stroke="#ee9ca1" stroke-width="0.45"/>
<line x1="466.00" y1="506.07" x2="466.00" y2="527.42" stroke="#ee9ca1" stroke-width="0.45"/>
<line x1="467.60" y1="507.50" x2="467.60" y2="528.85" stroke="#ee9ca1" stroke-width="0.45"/>
<line x1="469.20" y1="508.91" x2="469.20" y2="530.26" stroke="#ee9ca1" stroke-width="0.45"/>
<line x1="470.80" y1="510.28" x2="470.80" y2="531.63" stroke="#ee9ca1" stroke-width="0.45"/>
<line x1="472.40" y1="511.59" x2="472.40" y2="532.94" stroke="#ee9ca1" stroke-width="0.45"/>
<line x1="474.00" y1="512.86" x2="474.00" y2="534.21" stroke="#ee9ca1" stroke-width="0.45"/>
<line x1="475.60" y1="514.10" x2="475.60" y2="535.45" stroke="#ee9ca1" stroke-width="0.45"/>
<line x1="477.20" y1="515.29" x2="477.20" y2="536.64" stroke="#ee9ca1" stroke-width="0.45"/>
<line x1="478.80" y1="516.44" x2="478.80" y2="537.79" stroke="#ee9ca1" stroke-width="0.45"/>
<line x1="480.40" y1="517.53" x2="480.40" y2="538.88" stroke="#ee9ca1" stroke-width="0.45"/>
<line x1="482.00" y1="518.58" x2="482.00" y2="539.93" stroke="#ee9ca1" stroke-width="0.45"/>
<line x1="483.60" y1="519.60" x2="483.60" y2="540.95" stroke="#ee9ca1" stroke-width="0.45"/>
<line x1="485.20" y1="520.58" x2="485.20" y2="541.93" stroke="#ee9ca1" stroke-width="0.45"/>
<line x1="486.80" y1="521.55" x2="486.80" y2="542.90" stroke="#ee9ca1" stroke-width="0.45"/>
<line x1="488.40" y1="522.48" x2="488.40" y2="543.83" stroke="#ee9ca1" stroke-width="0.45"/>
<line x1="490.00" y1="523.39" x2="490.00" y2="544.74" stroke="#ee9ca1" stroke-width="0.45"/>
<line x1="491.60" y1="524.28" x2="491.60" y2="545.63" stroke="#ee9ca1" stroke-width="0.45"/>
<line x1="493.20" y1="525.13" x2="493.20" y2="546.48" stroke="#ee9ca1" stroke-width="0.45"/>
<line x1="494.80" y1="525.96" x2="494.80" y2="547.31" stroke="#ee9ca1" stroke-width="0.45"/>
<line x1="496.40" y1="526.76" x2="496.40" y2="548.11" stroke="#ee9ca1" stroke-width="0.45"/>
<line x1="498.00" y1="527.54" x2="498.00" y2="548.89" stroke="#ee9ca1" stroke-width="0.45"/>
<line x1="499.60" y1="528.29" x2="499.60" y2="549.64" stroke="#ee9ca1" stroke-width="0.45"/>
<line x1="501.20" y1="529.00" x2="501.20" y2="550.35" stroke="#ee9ca1" stroke-width="0.45"/>
<line x1="502.80" y1="529.75" x2="502.80" y2="550.96" stroke="#ee9ca1" stroke-width="0.45"/>
<line x1="504.40" y1="530.77" x2="504.40" y2="551.23" stroke="#ee9ca1" stroke-width="0.45"/>
<line x1="506.00" y1="531.75" x2="506.00" y2="551.45" stroke="#ee9ca1" stroke-width="0.45"/>
<line x1="507.60" y1="532.69" x2="507.60" y2="551.65" stroke="#ee9ca1" stroke-width="0.45"/>
<line x1="509.20" y1="533.61" x2="509.20" y2="551.81" stroke="#ee9ca1" stroke-width="0.45"/>
<line x1="510.80" y1="534.51" x2="510.80" y2="551.96" stroke="#ee9ca1" stroke-width="0.45"/>
<line x1="512.40" y1="535.39" x2="512.40" y2="552.08" stroke="#ee9ca1" stroke-width="0.45"/>
<line x1="514.00" y1="536.29" x2="514.00" y2="552.16" stroke="#ee9ca1" stroke-width="0.45"/>
<line x1="515.60" y1="537.23" x2="515.60" y2="552.14" stroke="#ee9ca1" stroke-width="0.45"/>
<line x1="517.20" y1="538.14" x2="517.20" y2="552.11" stroke="#ee9ca1" stroke-width="0.45"/>
<line x1="518.80" y1="539.03" x2="518.80" y2="552.06" stroke="#ee9ca1" stroke-width="0.45"/>
<line x1="520.40" y1="539.92" x2="520.40" y2="551.99" stroke="#ee9ca1" stroke-width="0.45"/>
<line x1="522.00" y1="540.81" x2="522.00" y2="551.90" stroke="#ee9ca1" stroke-width="0.45"/>
<line x1="523.60" y1="541.72" x2="523.60" y2="551.77" stroke="#ee9ca1" stroke-width="0.45"/>
<line x1="525.20" y1="542.58" x2="525.20" y2="551.69" stroke="#ee9ca1" stroke-width="0.45"/>
<line x1="526.80" y1="543.37" x2="526.80" y2="551.66" stroke="#ee9ca1" stroke-width="0.45"/>
<line x1="528.40" y1="544.15" x2="528.40" y2="551.60" stroke="#ee9ca1" stroke-width="0.45"/>
<line x1="530.00" y1="544.97" x2="530.00" y2="551.49" stroke="#ee9ca1" stroke-width="0.45"/>
<line x1="531.60" y1="545.86" x2="531.60" y2="551.29" stroke="#ee9ca1" stroke-width="0.45"/>
<polyline points="395.60,540.24 396.76,540.38 398.39,540.58 400.30,540.82 402.34,541.06 404.33,541.28 406.10,541.45 407.74,541.60 409.40,541.74 411.02,541.86 412.52,541.95 413.83,541.97 414.90,541.91 415.66,542.13 416.16,542.70 416.48,543.22 416.69,543.26 416.87,542.40 417.10,540.24 417.35,536.42 417.55,531.21 417.72,525.12 417.87,518.62 418.03,512.21 418.20,506.38 418.38,500.82 418.54,495.07 418.71,489.41 418.89,484.12 419.08,479.47 419.30,475.73 419.54,473.01 419.79,471.12 420.05,469.87 420.34,469.07 420.65,468.54 421.00,468.10 421.37,467.83 421.77,467.89 422.19,468.22 422.64,468.76 423.15,469.45 423.70,470.24 424.30,471.18 424.93,472.33 425.61,473.63 426.34,475.03 427.13,476.46 428.00,477.86 428.98,479.29 430.07,480.81 431.23,482.35 432.40,483.88 433.54,485.35 434.60,486.71 435.58,487.88 436.51,488.90 437.42,489.85 438.31,490.84 439.20,491.94 440.10,493.26 441.02,494.84 441.94,496.60 442.86,498.49 443.77,500.43 444.69,502.37 445.60,504.25 446.50,506.07 447.40,507.90 448.30,509.73 449.20,511.54 450.10,513.32 451.00,515.07 451.90,516.79 452.79,518.48 453.68,520.15 454.58,521.79 455.52,523.41 456.50,524.99 457.51,526.54 458.54,528.06 459.60,529.55 460.70,531.01 461.87,532.44 463.10,533.83 464.43,535.21 465.84,536.60 467.31,537.95 468.81,539.23 470.32,540.41 471.80,541.45 473.24,542.35 474.65,543.13 476.06,543.80 477.51,544.39 479.01,544.93 480.60,545.42 482.24,545.86 483.91,546.21 485.64,546.51 487.46,546.77 489.40,547.01 491.50,547.25 493.69,547.49 495.94,547.71 498.31,547.91 500.88,548.09 503.72,548.26 506.90,548.39 510.81,548.51 515.48,548.59 520.41,548.66 525.13,548.70 529.16,548.74 532.00,548.77" fill="none" stroke="#000" stroke-width="1.6" stroke-linejoin="round"/>
<polyline points="395.60,540.24 397.90,540.54 401.23,541.00 405.10,541.52 409.00,542.01 412.44,542.38 414.90,542.52 416.29,542.77 416.99,543.27 417.21,543.64 417.19,543.51 417.15,542.50 417.30,540.24 417.60,536.33 417.86,531.01 418.10,524.80 418.33,518.27 418.55,511.95 418.80,506.38 419.04,501.23 419.26,495.98 419.49,490.95 419.74,486.43 420.03,482.73 420.40,480.15 420.81,478.97 421.26,478.99 421.74,479.84 422.30,481.10 422.95,482.41 423.70,483.35 424.60,484.01 425.63,484.70 426.74,485.42 427.91,486.18 429.07,486.96 430.20,487.77 431.27,488.63 432.31,489.53 433.36,490.45 434.43,491.40 435.57,492.34 436.80,493.26 438.14,494.16 439.57,495.02 441.07,495.88 442.59,496.77 444.11,497.72 445.60,498.75 447.05,499.90 448.50,501.13 449.95,502.42 451.40,503.75 452.85,505.08 454.30,506.38 455.76,507.67 457.23,508.97 458.70,510.27 460.17,511.57 461.64,512.87 463.10,514.16 464.55,515.45 466.00,516.75 467.45,518.05 468.90,519.33 470.35,520.58 471.80,521.78 473.24,522.94 474.65,524.05 476.06,525.13 477.51,526.19 479.01,527.26 480.60,528.34 482.29,529.45 484.07,530.57 485.91,531.69 487.78,532.80 489.65,533.88 491.50,534.90 493.33,535.88 495.16,536.82 497.00,537.74 498.84,538.61 500.67,539.45 502.50,540.24 504.32,540.97 506.14,541.65 507.95,542.29 509.76,542.90 511.58,543.48 513.40,544.05 515.26,544.60 517.17,545.12 519.08,545.62 520.94,546.09 522.73,546.53 524.40,546.94 526.01,547.33 527.61,547.70 529.14,548.04 530.51,548.34 531.65,548.59 532.50,548.77" fill="none" stroke="#ff2a2a" stroke-width="2.0" stroke-linejoin="round"/>
<line x1="395.60" y1="434.40" x2="395.60" y2="556.40" stroke="#222" stroke-width="1.3"/>
<line x1="391.40" y1="556.40" x2="395.60" y2="556.40" stroke="#222" stroke-width="1.3"/>
<text x="388.40" y="559.64" font-size="9.0" font-weight="bold" font-style="normal" text-anchor="end" fill="#111">0</text>
<line x1="391.40" y1="525.90" x2="395.60" y2="525.90" stroke="#222" stroke-width="1.3"/>
<text x="388.40" y="529.14" font-size="9.0" font-weight="bold" font-style="normal" text-anchor="end" fill="#111">2</text>
<line x1="391.40" y1="495.40" x2="395.60" y2="495.40" stroke="#222" stroke-width="1.3"/>
<text x="388.40" y="498.64" font-size="9.0" font-weight="bold" font-style="normal" text-anchor="end" fill="#111">4</text>
<line x1="391.40" y1="464.90" x2="395.60" y2="464.90" stroke="#222" stroke-width="1.3"/>
<text x="388.40" y="468.14" font-size="9.0" font-weight="bold" font-style="normal" text-anchor="end" fill="#111">6</text>
<line x1="391.40" y1="434.40" x2="395.60" y2="434.40" stroke="#222" stroke-width="1.3"/>
<text x="388.40" y="437.64" font-size="9.0" font-weight="bold" font-style="normal" text-anchor="end" fill="#111">8</text>
<text x="366.40" y="495.20" font-size="10.1" font-weight="bold" font-style="normal" text-anchor="middle" fill="#111" transform="rotate(-90 366.40 495.20)">Relative cytosolic</text>
<text x="377.60" y="495.20" font-size="10.1" font-weight="bold" font-style="normal" text-anchor="middle" fill="#111" transform="rotate(-90 377.60 495.20)">calcium level (F/F0)</text>
<text x="414.30" y="441.10" font-size="10.4" font-weight="normal" font-style="normal" text-anchor="middle" fill="#222" stroke="#222" stroke-width="0.2">Hist</text>
<line x1="414.30" y1="444.50" x2="414.30" y2="454.00" stroke="#000" stroke-width="2.2"/>
<polygon points="409.50,452.40 419.10,452.40 414.30,462.00" fill="#000"/>
<line x1="467.90" y1="421.80" x2="482.40" y2="421.80" stroke="#000" stroke-width="1.4"/>
<text x="487.20" y="425.00" font-size="10.1" font-weight="normal" font-style="normal" text-anchor="start" fill="#222" stroke="#222" stroke-width="0.2"><tspan font-style="italic">CDK4</tspan>-WT</text>
<line x1="467.90" y1="436.00" x2="482.40" y2="436.00" stroke="#ff2a2a" stroke-width="1.4"/>
<text x="487.20" y="439.20" font-size="10.1" font-weight="normal" font-style="normal" text-anchor="start" fill="#222" stroke="#222" stroke-width="0.2"><tspan font-style="italic">CDK4</tspan>-KO</text>
<line x1="503.90" y1="567.00" x2="530.50" y2="567.00" stroke="#000" stroke-width="1.5"/>
<text x="517.70" y="560.60" font-size="10" font-weight="bold" font-style="normal" text-anchor="middle" fill="#000">60s</text>
<text x="5.60" y="593.80" font-size="16" font-weight="bold" font-style="normal" text-anchor="start" fill="#000">l</text>
<rect x="59.30" y="647.00" width="143.40" height="91.50" fill="#f2f2f2" stroke="none" stroke-width="1"/>
<rect x="59.30" y="647.00" width="24.70" height="91.50" fill="#e4e4e4" stroke="none" stroke-width="1"/>
<polygon points="58.60,694.50 60.27,694.44 62.61,694.37 65.36,694.27 68.27,694.17 71.07,694.04 73.50,693.90 75.65,693.74 77.74,693.57 79.73,693.38 81.56,693.17 83.16,692.94 84.50,692.70 85.47,692.52 86.10,692.43 86.51,692.32 86.83,692.10 87.19,691.66 87.70,690.90 88.35,689.57 89.04,687.89 89.76,685.99 90.51,684.01 91.29,682.10 92.10,680.40 92.95,679.01 93.85,677.67 94.78,676.39 95.73,675.20 96.67,674.13 97.60,673.20 98.49,672.42 99.36,671.76 100.22,671.21 101.11,670.78 102.06,670.44 103.10,670.20 104.26,670.05 105.51,670.00 106.83,670.05 108.16,670.20 109.47,670.45 110.70,670.80 111.86,671.29 112.97,671.93 114.06,672.67 115.14,673.47 116.21,674.26 117.30,675.00 118.38,675.70 119.42,676.40 120.47,677.10 121.54,677.80 122.68,678.50 123.90,679.20 125.20,680.06 126.56,680.94 127.98,681.83 129.45,682.69 130.99,683.52 132.60,684.30 134.30,684.88 136.10,685.43 137.96,685.95 139.86,686.43 141.75,686.88 143.60,687.30 145.30,687.68 146.83,688.02 148.37,688.33 150.06,688.61 152.05,688.87 154.50,689.10 157.59,689.32 161.23,689.51 165.17,689.68 169.17,689.82 173.00,689.93 176.40,690.00 179.40,690.02 182.19,690.00 184.80,689.94 187.26,689.87 189.58,689.78 191.80,689.70 193.98,689.61 196.11,689.50 198.11,689.38 199.90,689.27 201.39,689.17 202.50,689.10 202.50,692.10 201.39,692.17 199.90,692.27 198.11,692.38 196.11,692.50 193.98,692.61 191.80,692.70 189.58,692.78 187.26,692.87 184.80,692.94 182.19,693.00 179.40,693.02 176.40,693.00 173.00,692.93 169.17,692.82 165.17,692.68 161.23,692.51 157.59,692.32 154.50,692.10 152.05,691.87 150.06,691.61 148.37,691.33 146.83,691.02 145.30,690.68 143.60,690.30 141.75,689.88 139.86,689.43 137.96,688.95 136.10,688.43 134.30,687.88 132.60,687.30 130.99,686.82 129.45,686.29 127.98,685.73 126.56,685.14 125.20,684.56 123.90,684.00 122.68,683.30 121.54,682.60 120.47,681.90 119.42,681.20 118.38,680.50 117.30,679.80 116.21,679.06 115.14,678.27 114.06,677.48 112.97,676.73 111.86,676.09 110.70,675.60 109.47,675.25 108.16,675.00 106.83,674.85 105.51,674.80 104.26,674.85 103.10,675.00 102.06,675.24 101.11,675.58 100.22,676.01 99.36,676.56 98.49,677.22 97.60,678.00 96.67,678.93 95.73,680.00 94.78,681.19 93.85,682.47 92.95,683.81 92.10,685.20 91.29,686.60 90.51,688.21 89.76,689.89 89.04,691.49 88.35,692.87 87.70,693.90 87.19,694.66 86.83,695.10 86.51,695.32 86.10,695.43 85.47,695.52 84.50,695.70 83.16,695.94 81.56,696.17 79.73,696.38 77.74,696.57 75.65,696.74 73.50,696.90 71.07,697.04 68.27,697.17 65.36,697.27 62.61,697.37 60.27,697.44 58.60,697.50" fill="#cfcfcf" opacity="0.75"/>
<line x1="60.20" y1="694.44" x2="60.20" y2="697.44" stroke="#c4c4c4" stroke-width="0.45"/>
<line x1="61.80" y1="694.39" x2="61.80" y2="697.39" stroke="#c4c4c4" stroke-width="0.45"/>
<line x1="63.40" y1="694.34" x2="63.40" y2="697.34" stroke="#c4c4c4" stroke-width="0.45"/>
<line x1="65.00" y1="694.29" x2="65.00" y2="697.29" stroke="#c4c4c4" stroke-width="0.45"/>
<line x1="66.60" y1="694.23" x2="66.60" y2="697.23" stroke="#c4c4c4" stroke-width="0.45"/>
<line x1="68.20" y1="694.17" x2="68.20" y2="697.17" stroke="#c4c4c4" stroke-width="0.45"/>
<line x1="69.80" y1="694.10" x2="69.80" y2="697.10" stroke="#c4c4c4" stroke-width="0.45"/>
<line x1="71.40" y1="694.02" x2="71.40" y2="697.02" stroke="#c4c4c4" stroke-width="0.45"/>
<line x1="73.00" y1="693.93" x2="73.00" y2="696.93" stroke="#c4c4c4" stroke-width="0.45"/>
<line x1="74.60" y1="693.82" x2="74.60" y2="696.82" stroke="#c4c4c4" stroke-width="0.45"/>
<line x1="76.20" y1="693.70" x2="76.20" y2="696.70" stroke="#c4c4c4" stroke-width="0.45"/>
<line x1="77.80" y1="693.56" x2="77.80" y2="696.56" stroke="#c4c4c4" stroke-width="0.45"/>
<line x1="79.40" y1="693.41" x2="79.40" y2="696.41" stroke="#c4c4c4" stroke-width="0.45"/>
<line x1="81.00" y1="693.23" x2="81.00" y2="696.23" stroke="#c4c4c4" stroke-width="0.45"/>
<line x1="82.60" y1="693.02" x2="82.60" y2="696.02" stroke="#c4c4c4" stroke-width="0.45"/>
<line x1="84.20" y1="692.75" x2="84.20" y2="695.75" stroke="#c4c4c4" stroke-width="0.45"/>
<line x1="85.80" y1="692.48" x2="85.80" y2="695.48" stroke="#c4c4c4" stroke-width="0.45"/>
<line x1="87.40" y1="691.34" x2="87.40" y2="694.34" stroke="#c4c4c4" stroke-width="0.45"/>
<line x1="89.00" y1="687.98" x2="89.00" y2="691.56" stroke="#c4c4c4" stroke-width="0.45"/>
<line x1="90.60" y1="683.78" x2="90.60" y2="688.02" stroke="#c4c4c4" stroke-width="0.45"/>
<line x1="92.20" y1="680.24" x2="92.20" y2="685.04" stroke="#c4c4c4" stroke-width="0.45"/>
<line x1="93.80" y1="677.74" x2="93.80" y2="682.54" stroke="#c4c4c4" stroke-width="0.45"/>
<line x1="95.40" y1="675.61" x2="95.40" y2="680.41" stroke="#c4c4c4" stroke-width="0.45"/>
<line x1="97.00" y1="673.80" x2="97.00" y2="678.60" stroke="#c4c4c4" stroke-width="0.45"/>
<line x1="98.60" y1="672.33" x2="98.60" y2="677.13" stroke="#c4c4c4" stroke-width="0.45"/>
<line x1="100.20" y1="671.22" x2="100.20" y2="676.02" stroke="#c4c4c4" stroke-width="0.45"/>
<line x1="101.80" y1="670.54" x2="101.80" y2="675.34" stroke="#c4c4c4" stroke-width="0.45"/>
<line x1="103.40" y1="670.16" x2="103.40" y2="674.96" stroke="#c4c4c4" stroke-width="0.45"/>
<line x1="105.00" y1="670.02" x2="105.00" y2="674.82" stroke="#c4c4c4" stroke-width="0.45"/>
<line x1="106.60" y1="670.04" x2="106.60" y2="674.84" stroke="#c4c4c4" stroke-width="0.45"/>
<line x1="108.20" y1="670.21" x2="108.20" y2="675.01" stroke="#c4c4c4" stroke-width="0.45"/>
<line x1="109.80" y1="670.54" x2="109.80" y2="675.34" stroke="#c4c4c4" stroke-width="0.45"/>
<line x1="111.40" y1="671.10" x2="111.40" y2="675.90" stroke="#c4c4c4" stroke-width="0.45"/>
<line x1="113.00" y1="671.95" x2="113.00" y2="676.75" stroke="#c4c4c4" stroke-width="0.45"/>
<line x1="114.60" y1="673.07" x2="114.60" y2="677.87" stroke="#c4c4c4" stroke-width="0.45"/>
<line x1="116.20" y1="674.25" x2="116.20" y2="679.05" stroke="#c4c4c4" stroke-width="0.45"/>
<line x1="117.80" y1="675.33" x2="117.80" y2="680.13" stroke="#c4c4c4" stroke-width="0.45"/>
<line x1="119.40" y1="676.39" x2="119.40" y2="681.19" stroke="#c4c4c4" stroke-width="0.45"/>
<line x1="121.00" y1="677.45" x2="121.00" y2="682.25" stroke="#c4c4c4" stroke-width="0.45"/>
<line x1="122.60" y1="678.45" x2="122.60" y2="683.25" stroke="#c4c4c4" stroke-width="0.45"/>
<line x1="124.20" y1="679.40" x2="124.20" y2="684.13" stroke="#c4c4c4" stroke-width="0.45"/>
<line x1="125.80" y1="680.45" x2="125.80" y2="684.82" stroke="#c4c4c4" stroke-width="0.45"/>
<line x1="127.40" y1="681.47" x2="127.40" y2="685.49" stroke="#c4c4c4" stroke-width="0.45"/>
<line x1="129.00" y1="682.42" x2="129.00" y2="686.12" stroke="#c4c4c4" stroke-width="0.45"/>
<line x1="130.60" y1="683.31" x2="130.60" y2="686.68" stroke="#c4c4c4" stroke-width="0.45"/>
<line x1="132.20" y1="684.11" x2="132.20" y2="687.18" stroke="#c4c4c4" stroke-width="0.45"/>
<line x1="133.80" y1="684.71" x2="133.80" y2="687.71" stroke="#c4c4c4" stroke-width="0.45"/>
<line x1="135.40" y1="685.22" x2="135.40" y2="688.22" stroke="#c4c4c4" stroke-width="0.45"/>
<line x1="137.00" y1="685.68" x2="137.00" y2="688.68" stroke="#c4c4c4" stroke-width="0.45"/>
<line x1="138.60" y1="686.11" x2="138.60" y2="689.11" stroke="#c4c4c4" stroke-width="0.45"/>
<line x1="140.20" y1="686.52" x2="140.20" y2="689.52" stroke="#c4c4c4" stroke-width="0.45"/>
<line x1="141.80" y1="686.90" x2="141.80" y2="689.90" stroke="#c4c4c4" stroke-width="0.45"/>
<line x1="143.40" y1="687.26" x2="143.40" y2="690.26" stroke="#c4c4c4" stroke-width="0.45"/>
<line x1="145.00" y1="687.61" x2="145.00" y2="690.61" stroke="#c4c4c4" stroke-width="0.45"/>
<line x1="146.60" y1="687.97" x2="146.60" y2="690.97" stroke="#c4c4c4" stroke-width="0.45"/>
<line x1="148.20" y1="688.30" x2="148.20" y2="691.30" stroke="#c4c4c4" stroke-width="0.45"/>
<line x1="149.80" y1="688.57" x2="149.80" y2="691.57" stroke="#c4c4c4" stroke-width="0.45"/>
<line x1="151.40" y1="688.78" x2="151.40" y2="691.78" stroke="#c4c4c4" stroke-width="0.45"/>
<line x1="153.00" y1="688.96" x2="153.00" y2="691.96" stroke="#c4c4c4" stroke-width="0.45"/>
<line x1="154.60" y1="689.11" x2="154.60" y2="692.11" stroke="#c4c4c4" stroke-width="0.45"/>
<line x1="156.20" y1="689.22" x2="156.20" y2="692.22" stroke="#c4c4c4" stroke-width="0.45"/>
<line x1="157.80" y1="689.33" x2="157.80" y2="692.33" stroke="#c4c4c4" stroke-width="0.45"/>
<line x1="159.40" y1="689.41" x2="159.40" y2="692.41" stroke="#c4c4c4" stroke-width="0.45"/>
<line x1="161.00" y1="689.50" x2="161.00" y2="692.50" stroke="#c4c4c4" stroke-width="0.45"/>
<line x1="162.60" y1="689.57" x2="162.60" y2="692.57" stroke="#c4c4c4" stroke-width="0.45"/>
<line x1="164.20" y1="689.64" x2="164.20" y2="692.64" stroke="#c4c4c4" stroke-width="0.45"/>
<line x1="165.80" y1="689.70" x2="165.80" y2="692.70" stroke="#c4c4c4" stroke-width="0.45"/>
<line x1="167.40" y1="689.76" x2="167.40" y2="692.76" stroke="#c4c4c4" stroke-width="0.45"/>
<line x1="169.00" y1="689.82" x2="169.00" y2="692.82" stroke="#c4c4c4" stroke-width="0.45"/>
<line x1="170.60" y1="689.86" x2="170.60" y2="692.86" stroke="#c4c4c4" stroke-width="0.45"/>
<line x1="172.20" y1="689.91" x2="172.20" y2="692.91" stroke="#c4c4c4" stroke-width="0.45"/>
<line x1="173.80" y1="689.95" x2="173.80" y2="692.95" stroke="#c4c4c4" stroke-width="0.45"/>
<line x1="175.40" y1="689.98" x2="175.40" y2="692.98" stroke="#c4c4c4" stroke-width="0.45"/>
<line x1="177.00" y1="690.00" x2="177.00" y2="693.00" stroke="#c4c4c4" stroke-width="0.45"/>
<line x1="178.60" y1="690.02" x2="178.60" y2="693.02" stroke="#c4c4c4" stroke-width="0.45"/>
<line x1="180.20" y1="690.02" x2="180.20" y2="693.02" stroke="#c4c4c4" stroke-width="0.45"/>
<line x1="181.80" y1="690.00" x2="181.80" y2="693.00" stroke="#c4c4c4" stroke-width="0.45"/>
<line x1="183.40" y1="689.97" x2="183.40" y2="692.97" stroke="#c4c4c4" stroke-width="0.45"/>
<line x1="185.00" y1="689.94" x2="185.00" y2="692.94" stroke="#c4c4c4" stroke-width="0.45"/>
<line x1="186.60" y1="689.89" x2="186.60" y2="692.89" stroke="#c4c4c4" stroke-width="0.45"/>
<line x1="188.20" y1="689.83" x2="188.20" y2="692.83" stroke="#c4c4c4" stroke-width="0.45"/>
<line x1="189.80" y1="689.77" x2="189.80" y2="692.77" stroke="#c4c4c4" stroke-width="0.45"/>
<line x1="191.40" y1="689.71" x2="191.40" y2="692.71" stroke="#c4c4c4" stroke-width="0.45"/>
<line x1="193.00" y1="689.65" x2="193.00" y2="692.65" stroke="#c4c4c4" stroke-width="0.45"/>
<line x1="194.60" y1="689.58" x2="194.60" y2="692.58" stroke="#c4c4c4" stroke-width="0.45"/>
<line x1="196.20" y1="689.49" x2="196.20" y2="692.49" stroke="#c4c4c4" stroke-width="0.45"/>
<line x1="197.80" y1="689.40" x2="197.80" y2="692.40" stroke="#c4c4c4" stroke-width="0.45"/>
<line x1="199.40" y1="689.30" x2="199.40" y2="692.30" stroke="#c4c4c4" stroke-width="0.45"/>
<line x1="201.00" y1="689.19" x2="201.00" y2="692.19" stroke="#c4c4c4" stroke-width="0.45"/>
<polygon points="58.60,685.20 59.69,685.41 61.14,685.70 62.89,686.04 64.85,686.43 66.94,686.86 69.10,687.30 71.51,687.82 74.28,688.43 77.19,689.08 80.01,689.70 82.52,690.23 84.50,690.60 85.78,690.22 86.51,689.73 86.92,689.16 87.28,688.50 87.82,687.78 88.80,687.00 90.28,686.74 92.09,686.38 94.09,685.95 96.13,685.49 98.08,685.03 99.80,684.60 101.28,684.15 102.61,683.66 103.86,683.16 105.06,682.71 106.26,682.37 107.50,682.20 108.73,682.22 109.91,682.39 111.09,682.67 112.32,683.01 113.64,683.37 115.10,683.70 116.83,684.03 118.80,684.39 120.87,684.77 122.88,685.14 124.67,685.50 126.10,685.80 127.07,685.99 127.69,686.07 128.10,686.12 128.43,686.23 128.82,686.50 129.40,687.00 130.14,688.01 130.92,689.27 131.76,690.67 132.67,692.13 133.68,693.54 134.80,694.80 136.05,695.72 137.40,696.58 138.86,697.39 140.39,698.16 141.97,698.89 143.60,699.60 145.24,700.30 146.91,700.98 148.64,701.62 150.46,702.22 152.40,702.75 154.50,703.20 156.78,703.54 159.22,703.78 161.79,703.95 164.44,704.09 167.16,704.23 169.90,704.40 172.72,704.60 175.67,704.80 178.67,705.00 181.67,705.20 184.60,705.40 187.40,705.60 190.23,705.81 193.17,706.04 196.04,706.27 198.67,706.49 200.88,706.67 202.50,706.80 202.50,720.00 200.88,719.87 198.67,719.69 196.04,719.48 193.17,719.24 190.23,719.01 187.40,718.80 184.60,718.60 181.67,718.40 178.67,718.20 175.67,718.00 172.72,717.80 169.90,717.60 167.16,717.43 164.44,717.29 161.79,717.15 159.22,716.98 156.78,716.74 154.50,716.40 152.40,715.95 150.46,715.42 148.64,714.82 146.91,714.18 145.24,713.50 143.60,712.80 141.97,712.09 140.39,711.36 138.86,710.59 137.40,709.78 136.05,708.92 134.80,708.00 133.68,707.14 132.67,706.13 131.76,705.07 130.92,704.07 130.14,703.21 129.40,702.60 128.82,702.10 128.43,701.83 128.10,701.72 127.69,701.67 127.07,701.59 126.10,701.40 124.67,701.10 122.88,700.74 120.87,700.37 118.80,699.99 116.83,699.63 115.10,699.30 113.64,698.97 112.32,698.61 111.09,698.27 109.91,697.99 108.73,697.82 107.50,697.80 106.26,697.97 105.06,698.31 103.86,698.76 102.61,699.26 101.28,699.75 99.80,700.20 98.08,700.63 96.13,701.09 94.09,701.55 92.09,701.98 90.28,702.34 88.80,702.60 87.82,702.18 87.28,701.70 86.92,701.16 86.51,700.53 85.78,699.82 84.50,699.00 82.52,698.63 80.01,698.10 77.19,697.48 74.28,696.83 71.51,696.22 69.10,695.70 66.94,695.26 64.85,694.83 62.89,694.44 61.14,694.10 59.69,693.81 58.60,693.60" fill="#f5b3b7" opacity="0.8"/>
<line x1="60.20" y1="685.52" x2="60.20" y2="693.92" stroke="#ee9ca1" stroke-width="0.45"/>
<line x1="61.80" y1="685.83" x2="61.80" y2="694.23" stroke="#ee9ca1" stroke-width="0.45"/>
<line x1="63.40" y1="686.15" x2="63.40" y2="694.55" stroke="#ee9ca1" stroke-width="0.45"/>
<line x1="65.00" y1="686.46" x2="65.00" y2="694.86" stroke="#ee9ca1" stroke-width="0.45"/>
<line x1="66.60" y1="686.79" x2="66.60" y2="695.19" stroke="#ee9ca1" stroke-width="0.45"/>
<line x1="68.20" y1="687.11" x2="68.20" y2="695.51" stroke="#ee9ca1" stroke-width="0.45"/>
<line x1="69.80" y1="687.45" x2="69.80" y2="695.85" stroke="#ee9ca1" stroke-width="0.45"/>
<line x1="71.40" y1="687.79" x2="71.40" y2="696.19" stroke="#ee9ca1" stroke-width="0.45"/>
<line x1="73.00" y1="688.15" x2="73.00" y2="696.55" stroke="#ee9ca1" stroke-width="0.45"/>
<line x1="74.60" y1="688.50" x2="74.60" y2="696.90" stroke="#ee9ca1" stroke-width="0.45"/>
<line x1="76.20" y1="688.86" x2="76.20" y2="697.26" stroke="#ee9ca1" stroke-width="0.45"/>
<line x1="77.80" y1="689.22" x2="77.80" y2="697.62" stroke="#ee9ca1" stroke-width="0.45"/>
<line x1="79.40" y1="689.57" x2="79.40" y2="697.97" stroke="#ee9ca1" stroke-width="0.45"/>
<line x1="81.00" y1="689.91" x2="81.00" y2="698.31" stroke="#ee9ca1" stroke-width="0.45"/>
<line x1="82.60" y1="690.24" x2="82.60" y2="698.64" stroke="#ee9ca1" stroke-width="0.45"/>
<line x1="84.20" y1="690.54" x2="84.20" y2="698.94" stroke="#ee9ca1" stroke-width="0.45"/>
<line x1="85.80" y1="690.21" x2="85.80" y2="699.84" stroke="#ee9ca1" stroke-width="0.45"/>
<line x1="87.40" y1="688.34" x2="87.40" y2="701.80" stroke="#ee9ca1" stroke-width="0.45"/>
<line x1="89.00" y1="686.96" x2="89.00" y2="702.56" stroke="#ee9ca1" stroke-width="0.45"/>
<line x1="90.60" y1="686.68" x2="90.60" y2="702.28" stroke="#ee9ca1" stroke-width="0.45"/>
<line x1="92.20" y1="686.35" x2="92.20" y2="701.95" stroke="#ee9ca1" stroke-width="0.45"/>
<line x1="93.80" y1="686.01" x2="93.80" y2="701.61" stroke="#ee9ca1" stroke-width="0.45"/>
<line x1="95.40" y1="685.65" x2="95.40" y2="701.25" stroke="#ee9ca1" stroke-width="0.45"/>
<line x1="97.00" y1="685.28" x2="97.00" y2="700.88" stroke="#ee9ca1" stroke-width="0.45"/>
<line x1="98.60" y1="684.90" x2="98.60" y2="700.50" stroke="#ee9ca1" stroke-width="0.45"/>
<line x1="100.20" y1="684.48" x2="100.20" y2="700.08" stroke="#ee9ca1" stroke-width="0.45"/>
<line x1="101.80" y1="683.96" x2="101.80" y2="699.56" stroke="#ee9ca1" stroke-width="0.45"/>
<line x1="103.40" y1="683.34" x2="103.40" y2="698.94" stroke="#ee9ca1" stroke-width="0.45"/>
<line x1="105.00" y1="682.73" x2="105.00" y2="698.33" stroke="#ee9ca1" stroke-width="0.45"/>
<line x1="106.60" y1="682.33" x2="106.60" y2="697.93" stroke="#ee9ca1" stroke-width="0.45"/>
<line x1="108.20" y1="682.21" x2="108.20" y2="697.81" stroke="#ee9ca1" stroke-width="0.45"/>
<line x1="109.80" y1="682.37" x2="109.80" y2="697.97" stroke="#ee9ca1" stroke-width="0.45"/>
<line x1="111.40" y1="682.75" x2="111.40" y2="698.35" stroke="#ee9ca1" stroke-width="0.45"/>
<line x1="113.00" y1="683.20" x2="113.00" y2="698.80" stroke="#ee9ca1" stroke-width="0.45"/>
<line x1="114.60" y1="683.59" x2="114.60" y2="699.19" stroke="#ee9ca1" stroke-width="0.45"/>
<line x1="116.20" y1="683.91" x2="116.20" y2="699.51" stroke="#ee9ca1" stroke-width="0.45"/>
<line x1="117.80" y1="684.20" x2="117.80" y2="699.80" stroke="#ee9ca1" stroke-width="0.45"/>
<line x1="119.40" y1="684.50" x2="119.40" y2="700.10" stroke="#ee9ca1" stroke-width="0.45"/>
<line x1="121.00" y1="684.79" x2="121.00" y2="700.39" stroke="#ee9ca1" stroke-width="0.45"/>
<line x1="122.60" y1="685.09" x2="122.60" y2="700.69" stroke="#ee9ca1" stroke-width="0.45"/>
<line x1="124.20" y1="685.40" x2="124.20" y2="701.00" stroke="#ee9ca1" stroke-width="0.45"/>
<line x1="125.80" y1="685.74" x2="125.80" y2="701.34" stroke="#ee9ca1" stroke-width="0.45"/>
<line x1="127.40" y1="686.03" x2="127.40" y2="701.63" stroke="#ee9ca1" stroke-width="0.45"/>
<line x1="129.00" y1="686.66" x2="129.00" y2="702.26" stroke="#ee9ca1" stroke-width="0.45"/>
<line x1="130.60" y1="688.75" x2="130.60" y2="703.72" stroke="#ee9ca1" stroke-width="0.45"/>
<line x1="132.20" y1="691.38" x2="132.20" y2="705.59" stroke="#ee9ca1" stroke-width="0.45"/>
<line x1="133.80" y1="693.68" x2="133.80" y2="707.23" stroke="#ee9ca1" stroke-width="0.45"/>
<line x1="135.40" y1="695.24" x2="135.40" y2="708.44" stroke="#ee9ca1" stroke-width="0.45"/>
<line x1="137.00" y1="696.32" x2="137.00" y2="709.52" stroke="#ee9ca1" stroke-width="0.45"/>
<line x1="138.60" y1="697.24" x2="138.60" y2="710.44" stroke="#ee9ca1" stroke-width="0.45"/>
<line x1="140.20" y1="698.06" x2="140.20" y2="711.26" stroke="#ee9ca1" stroke-width="0.45"/>
<line x1="141.80" y1="698.81" x2="141.80" y2="712.01" stroke="#ee9ca1" stroke-width="0.45"/>
<line x1="143.40" y1="699.51" x2="143.40" y2="712.71" stroke="#ee9ca1" stroke-width="0.45"/>
<line x1="145.00" y1="700.19" x2="145.00" y2="713.39" stroke="#ee9ca1" stroke-width="0.45"/>
<line x1="146.60" y1="700.85" x2="146.60" y2="714.05" stroke="#ee9ca1" stroke-width="0.45"/>
<line x1="148.20" y1="701.46" x2="148.20" y2="714.66" stroke="#ee9ca1" stroke-width="0.45"/>
<line x1="149.80" y1="702.01" x2="149.80" y2="715.21" stroke="#ee9ca1" stroke-width="0.45"/>
<line x1="151.40" y1="702.48" x2="151.40" y2="715.68" stroke="#ee9ca1" stroke-width="0.45"/>
<line x1="153.00" y1="702.88" x2="153.00" y2="716.08" stroke="#ee9ca1" stroke-width="0.45"/>
<line x1="154.60" y1="703.21" x2="154.60" y2="716.41" stroke="#ee9ca1" stroke-width="0.45"/>
<line x1="156.20" y1="703.45" x2="156.20" y2="716.65" stroke="#ee9ca1" stroke-width="0.45"/>
<line x1="157.80" y1="703.64" x2="157.80" y2="716.84" stroke="#ee9ca1" stroke-width="0.45"/>
<line x1="159.40" y1="703.79" x2="159.40" y2="716.99" stroke="#ee9ca1" stroke-width="0.45"/>
<line x1="161.00" y1="703.90" x2="161.00" y2="717.10" stroke="#ee9ca1" stroke-width="0.45"/>
<line x1="162.60" y1="703.99" x2="162.60" y2="717.19" stroke="#ee9ca1" stroke-width="0.45"/>
<line x1="164.20" y1="704.08" x2="164.20" y2="717.28" stroke="#ee9ca1" stroke-width="0.45"/>
<line x1="165.80" y1="704.16" x2="165.80" y2="717.36" stroke="#ee9ca1" stroke-width="0.45"/>
<line x1="167.40" y1="704.24" x2="167.40" y2="717.44" stroke="#ee9ca1" stroke-width="0.45"/>
<line x1="169.00" y1="704.34" x2="169.00" y2="717.54" stroke="#ee9ca1" stroke-width="0.45"/>
<line x1="170.60" y1="704.45" x2="170.60" y2="717.65" stroke="#ee9ca1" stroke-width="0.45"/>
<line x1="172.20" y1="704.56" x2="172.20" y2="717.76" stroke="#ee9ca1" stroke-width="0.45"/>
<line x1="173.80" y1="704.67" x2="173.80" y2="717.87" stroke="#ee9ca1" stroke-width="0.45"/>
<line x1="175.40" y1="704.78" x2="175.40" y2="717.98" stroke="#ee9ca1" stroke-width="0.45"/>
<line x1="177.00" y1="704.89" x2="177.00" y2="718.09" stroke="#ee9ca1" stroke-width="0.45"/>
<line x1="178.60" y1="705.00" x2="178.60" y2="718.20" stroke="#ee9ca1" stroke-width="0.45"/>
<line x1="180.20" y1="705.10" x2="180.20" y2="718.30" stroke="#ee9ca1" stroke-width="0.45"/>
<line x1="181.80" y1="705.21" x2="181.80" y2="718.41" stroke="#ee9ca1" stroke-width="0.45"/>
<line x1="183.40" y1="705.32" x2="183.40" y2="718.52" stroke="#ee9ca1" stroke-width="0.45"/>
<line x1="185.00" y1="705.43" x2="185.00" y2="718.63" stroke="#ee9ca1" stroke-width="0.45"/>
<line x1="186.60" y1="705.54" x2="186.60" y2="718.74" stroke="#ee9ca1" stroke-width="0.45"/>
<line x1="188.20" y1="705.66" x2="188.20" y2="718.86" stroke="#ee9ca1" stroke-width="0.45"/>
<line x1="189.80" y1="705.78" x2="189.80" y2="718.98" stroke="#ee9ca1" stroke-width="0.45"/>
<line x1="191.40" y1="705.91" x2="191.40" y2="719.11" stroke="#ee9ca1" stroke-width="0.45"/>
<line x1="193.00" y1="706.03" x2="193.00" y2="719.23" stroke="#ee9ca1" stroke-width="0.45"/>
<line x1="194.60" y1="706.16" x2="194.60" y2="719.36" stroke="#ee9ca1" stroke-width="0.45"/>
<line x1="196.20" y1="706.29" x2="196.20" y2="719.49" stroke="#ee9ca1" stroke-width="0.45"/>
<line x1="197.80" y1="706.42" x2="197.80" y2="719.62" stroke="#ee9ca1" stroke-width="0.45"/>
<line x1="199.40" y1="706.55" x2="199.40" y2="719.75" stroke="#ee9ca1" stroke-width="0.45"/>
<line x1="201.00" y1="706.68" x2="201.00" y2="719.88" stroke="#ee9ca1" stroke-width="0.45"/>
<polygon points="58.60,696.90 60.24,696.71 62.53,696.44 65.23,696.13 68.11,695.79 70.94,695.44 73.50,695.10 75.89,694.91 78.31,694.88 80.69,694.84 82.94,694.62 84.97,694.07 86.70,693.00 88.04,691.08 89.03,688.62 89.81,685.82 90.50,682.88 91.22,680.00 92.10,677.40 93.14,675.15 94.25,672.86 95.39,670.63 96.54,668.58 97.65,666.80 98.70,665.40 99.66,664.44 100.54,663.84 101.39,663.52 102.25,663.39 103.17,663.34 104.20,663.30 105.34,663.26 106.57,663.31 107.86,663.45 109.18,663.69 110.50,664.04 111.80,664.50 113.06,665.11 114.32,665.86 115.57,666.71 116.85,667.64 118.15,668.62 119.50,669.60 120.90,670.60 122.36,671.64 123.84,672.73 125.33,673.86 126.83,675.01 128.30,676.20 129.73,677.64 131.12,679.16 132.51,680.70 133.93,682.24 135.42,683.76 137.00,685.20 138.70,686.39 140.50,687.57 142.36,688.71 144.26,689.80 146.15,690.84 148.00,691.80 149.75,692.67 151.40,693.46 153.04,694.18 154.78,694.88 156.70,695.57 158.90,696.30 161.46,697.07 164.32,697.88 167.37,698.68 170.48,699.46 173.53,700.17 176.40,700.80 179.14,701.33 181.86,701.78 184.53,702.17 187.09,702.52 189.53,702.86 191.80,703.20 193.98,703.56 196.11,703.91 198.11,704.25 199.90,704.56 201.39,704.81 202.50,705.00 202.50,708.60 201.39,708.41 199.90,708.16 198.11,707.85 196.11,707.51 193.98,707.16 191.80,706.80 189.53,706.46 187.09,706.12 184.53,705.77 181.86,705.38 179.14,704.93 176.40,704.40 173.53,703.77 170.48,703.06 167.37,702.28 164.32,701.48 161.46,700.67 158.90,699.90 156.70,699.17 154.78,698.48 153.04,697.78 151.40,697.06 149.75,696.27 148.00,695.40 146.15,694.44 144.26,693.40 142.36,692.31 140.50,691.17 138.70,689.99 137.00,688.80 135.42,687.76 133.93,686.64 132.51,685.50 131.12,684.36 129.73,683.24 128.30,682.20 126.83,681.01 125.33,679.86 123.84,678.73 122.36,677.64 120.90,676.60 119.50,675.60 118.15,674.62 116.85,673.64 115.57,672.71 114.32,671.86 113.06,671.11 111.80,670.50 110.50,670.04 109.18,669.69 107.86,669.45 106.57,669.31 105.34,669.26 104.20,669.30 103.17,669.34 102.25,669.39 101.39,669.52 100.54,669.84 99.66,670.44 98.70,671.40 97.65,672.80 96.54,674.58 95.39,676.63 94.25,678.86 93.14,681.15 92.10,683.40 91.22,685.60 90.50,688.08 89.81,690.62 89.03,693.02 88.04,695.08 86.70,696.60 84.97,697.67 82.94,698.22 80.69,698.44 78.31,698.48 75.89,698.51 73.50,698.70 70.94,699.04 68.11,699.39 65.23,699.73 62.53,700.04 60.24,700.31 58.60,700.50" fill="#e5a9ab" opacity="0.7"/>
<line x1="60.20" y1="696.71" x2="60.20" y2="700.31" stroke="#d99a9c" stroke-width="0.45"/>
<line x1="61.80" y1="696.53" x2="61.80" y2="700.13" stroke="#d99a9c" stroke-width="0.45"/>
<line x1="63.40" y1="696.34" x2="63.40" y2="699.94" stroke="#d99a9c" stroke-width="0.45"/>
<line x1="65.00" y1="696.16" x2="65.00" y2="699.76" stroke="#d99a9c" stroke-width="0.45"/>
<line x1="66.60" y1="695.97" x2="66.60" y2="699.57" stroke="#d99a9c" stroke-width="0.45"/>
<line x1="68.20" y1="695.78" x2="68.20" y2="699.38" stroke="#d99a9c" stroke-width="0.45"/>
<line x1="69.80" y1="695.58" x2="69.80" y2="699.18" stroke="#d99a9c" stroke-width="0.45"/>
<line x1="71.40" y1="695.38" x2="71.40" y2="698.98" stroke="#d99a9c" stroke-width="0.45"/>
<line x1="73.00" y1="695.17" x2="73.00" y2="698.77" stroke="#d99a9c" stroke-width="0.45"/>
<line x1="74.60" y1="695.01" x2="74.60" y2="698.61" stroke="#d99a9c" stroke-width="0.45"/>
<line x1="76.20" y1="694.91" x2="76.20" y2="698.51" stroke="#d99a9c" stroke-width="0.45"/>
<line x1="77.80" y1="694.88" x2="77.80" y2="698.48" stroke="#d99a9c" stroke-width="0.45"/>
<line x1="79.40" y1="694.86" x2="79.40" y2="698.46" stroke="#d99a9c" stroke-width="0.45"/>
<line x1="81.00" y1="694.81" x2="81.00" y2="698.41" stroke="#d99a9c" stroke-width="0.45"/>
<line x1="82.60" y1="694.65" x2="82.60" y2="698.25" stroke="#d99a9c" stroke-width="0.45"/>
<line x1="84.20" y1="694.28" x2="84.20" y2="697.88" stroke="#d99a9c" stroke-width="0.45"/>
<line x1="85.80" y1="693.55" x2="85.80" y2="697.15" stroke="#d99a9c" stroke-width="0.45"/>
<line x1="87.40" y1="692.00" x2="87.40" y2="695.81" stroke="#d99a9c" stroke-width="0.45"/>
<line x1="89.00" y1="688.70" x2="89.00" y2="693.09" stroke="#d99a9c" stroke-width="0.45"/>
<line x1="90.60" y1="682.48" x2="90.60" y2="687.73" stroke="#d99a9c" stroke-width="0.45"/>
<line x1="92.20" y1="677.18" x2="92.20" y2="683.18" stroke="#d99a9c" stroke-width="0.45"/>
<line x1="93.80" y1="673.79" x2="93.80" y2="679.79" stroke="#d99a9c" stroke-width="0.45"/>
<line x1="95.40" y1="670.62" x2="95.40" y2="676.62" stroke="#d99a9c" stroke-width="0.45"/>
<line x1="97.00" y1="667.84" x2="97.00" y2="673.84" stroke="#d99a9c" stroke-width="0.45"/>
<line x1="98.60" y1="665.53" x2="98.60" y2="671.53" stroke="#d99a9c" stroke-width="0.45"/>
<line x1="100.20" y1="664.07" x2="100.20" y2="670.07" stroke="#d99a9c" stroke-width="0.45"/>
<line x1="101.80" y1="663.46" x2="101.80" y2="669.46" stroke="#d99a9c" stroke-width="0.45"/>
<line x1="103.40" y1="663.33" x2="103.40" y2="669.33" stroke="#d99a9c" stroke-width="0.45"/>
<line x1="105.00" y1="663.27" x2="105.00" y2="669.27" stroke="#d99a9c" stroke-width="0.45"/>
<line x1="106.60" y1="663.31" x2="106.60" y2="669.31" stroke="#d99a9c" stroke-width="0.45"/>
<line x1="108.20" y1="663.51" x2="108.20" y2="669.51" stroke="#d99a9c" stroke-width="0.45"/>
<line x1="109.80" y1="663.85" x2="109.80" y2="669.85" stroke="#d99a9c" stroke-width="0.45"/>
<line x1="111.40" y1="664.36" x2="111.40" y2="670.36" stroke="#d99a9c" stroke-width="0.45"/>
<line x1="113.00" y1="665.08" x2="113.00" y2="671.08" stroke="#d99a9c" stroke-width="0.45"/>
<line x1="114.60" y1="666.05" x2="114.60" y2="672.05" stroke="#d99a9c" stroke-width="0.45"/>
<line x1="116.20" y1="667.17" x2="116.20" y2="673.17" stroke="#d99a9c" stroke-width="0.45"/>
<line x1="117.80" y1="668.36" x2="117.80" y2="674.36" stroke="#d99a9c" stroke-width="0.45"/>
<line x1="119.40" y1="669.53" x2="119.40" y2="675.53" stroke="#d99a9c" stroke-width="0.45"/>
<line x1="121.00" y1="670.67" x2="121.00" y2="676.67" stroke="#d99a9c" stroke-width="0.45"/>
<line x1="122.60" y1="671.82" x2="122.60" y2="677.82" stroke="#d99a9c" stroke-width="0.45"/>
<line x1="124.20" y1="673.00" x2="124.20" y2="679.00" stroke="#d99a9c" stroke-width="0.45"/>
<line x1="125.80" y1="674.22" x2="125.80" y2="680.22" stroke="#d99a9c" stroke-width="0.45"/>
<line x1="127.40" y1="675.48" x2="127.40" y2="681.48" stroke="#d99a9c" stroke-width="0.45"/>
<line x1="129.00" y1="676.91" x2="129.00" y2="682.71" stroke="#d99a9c" stroke-width="0.45"/>
<line x1="130.60" y1="678.59" x2="130.60" y2="683.94" stroke="#d99a9c" stroke-width="0.45"/>
<line x1="132.20" y1="680.35" x2="132.20" y2="685.24" stroke="#d99a9c" stroke-width="0.45"/>
<line x1="133.80" y1="682.10" x2="133.80" y2="686.54" stroke="#d99a9c" stroke-width="0.45"/>
<line x1="135.40" y1="683.74" x2="135.40" y2="687.74" stroke="#d99a9c" stroke-width="0.45"/>
<line x1="137.00" y1="685.20" x2="137.00" y2="688.80" stroke="#d99a9c" stroke-width="0.45"/>
<line x1="138.60" y1="686.32" x2="138.60" y2="689.92" stroke="#d99a9c" stroke-width="0.45"/>
<line x1="140.20" y1="687.37" x2="140.20" y2="690.97" stroke="#d99a9c" stroke-width="0.45"/>
<line x1="141.80" y1="688.36" x2="141.80" y2="691.96" stroke="#d99a9c" stroke-width="0.45"/>
<line x1="143.40" y1="689.31" x2="143.40" y2="692.91" stroke="#d99a9c" stroke-width="0.45"/>
<line x1="145.00" y1="690.21" x2="145.00" y2="693.81" stroke="#d99a9c" stroke-width="0.45"/>
<line x1="146.60" y1="691.07" x2="146.60" y2="694.67" stroke="#d99a9c" stroke-width="0.45"/>
<line x1="148.20" y1="691.90" x2="148.20" y2="695.50" stroke="#d99a9c" stroke-width="0.45"/>
<line x1="149.80" y1="692.70" x2="149.80" y2="696.30" stroke="#d99a9c" stroke-width="0.45"/>
<line x1="151.40" y1="693.46" x2="151.40" y2="697.06" stroke="#d99a9c" stroke-width="0.45"/>
<line x1="153.00" y1="694.16" x2="153.00" y2="697.76" stroke="#d99a9c" stroke-width="0.45"/>
<line x1="154.60" y1="694.81" x2="154.60" y2="698.41" stroke="#d99a9c" stroke-width="0.45"/>
<line x1="156.20" y1="695.39" x2="156.20" y2="698.99" stroke="#d99a9c" stroke-width="0.45"/>
<line x1="157.80" y1="695.94" x2="157.80" y2="699.54" stroke="#d99a9c" stroke-width="0.45"/>
<line x1="159.40" y1="696.45" x2="159.40" y2="700.05" stroke="#d99a9c" stroke-width="0.45"/>
<line x1="161.00" y1="696.94" x2="161.00" y2="700.54" stroke="#d99a9c" stroke-width="0.45"/>
<line x1="162.60" y1="697.39" x2="162.60" y2="700.99" stroke="#d99a9c" stroke-width="0.45"/>
<line x1="164.20" y1="697.84" x2="164.20" y2="701.44" stroke="#d99a9c" stroke-width="0.45"/>
<line x1="165.80" y1="698.27" x2="165.80" y2="701.87" stroke="#d99a9c" stroke-width="0.45"/>
<line x1="167.40" y1="698.69" x2="167.40" y2="702.29" stroke="#d99a9c" stroke-width="0.45"/>
<line x1="169.00" y1="699.09" x2="169.00" y2="702.69" stroke="#d99a9c" stroke-width="0.45"/>
<line x1="170.60" y1="699.48" x2="170.60" y2="703.08" stroke="#d99a9c" stroke-width="0.45"/>
<line x1="172.20" y1="699.86" x2="172.20" y2="703.46" stroke="#d99a9c" stroke-width="0.45"/>
<line x1="173.80" y1="700.23" x2="173.80" y2="703.83" stroke="#d99a9c" stroke-width="0.45"/>
<line x1="175.40" y1="700.58" x2="175.40" y2="704.18" stroke="#d99a9c" stroke-width="0.45"/>
<line x1="177.00" y1="700.92" x2="177.00" y2="704.52" stroke="#d99a9c" stroke-width="0.45"/>
<line x1="178.60" y1="701.22" x2="178.60" y2="704.82" stroke="#d99a9c" stroke-width="0.45"/>
<line x1="180.20" y1="701.50" x2="180.20" y2="705.10" stroke="#d99a9c" stroke-width="0.45"/>
<line x1="181.80" y1="701.77" x2="181.80" y2="705.37" stroke="#d99a9c" stroke-width="0.45"/>
<line x1="183.40" y1="702.00" x2="183.40" y2="705.60" stroke="#d99a9c" stroke-width="0.45"/>
<line x1="185.00" y1="702.23" x2="185.00" y2="705.83" stroke="#d99a9c" stroke-width="0.45"/>
<line x1="186.60" y1="702.45" x2="186.60" y2="706.05" stroke="#d99a9c" stroke-width="0.45"/>
<line x1="188.20" y1="702.68" x2="188.20" y2="706.28" stroke="#d99a9c" stroke-width="0.45"/>
<line x1="189.80" y1="702.90" x2="189.80" y2="706.50" stroke="#d99a9c" stroke-width="0.45"/>
<line x1="191.40" y1="703.14" x2="191.40" y2="706.74" stroke="#d99a9c" stroke-width="0.45"/>
<line x1="193.00" y1="703.40" x2="193.00" y2="707.00" stroke="#d99a9c" stroke-width="0.45"/>
<line x1="194.60" y1="703.66" x2="194.60" y2="707.26" stroke="#d99a9c" stroke-width="0.45"/>
<line x1="196.20" y1="703.93" x2="196.20" y2="707.53" stroke="#d99a9c" stroke-width="0.45"/>
<line x1="197.80" y1="704.20" x2="197.80" y2="707.80" stroke="#d99a9c" stroke-width="0.45"/>
<line x1="199.40" y1="704.47" x2="199.40" y2="708.07" stroke="#d99a9c" stroke-width="0.45"/>
<line x1="201.00" y1="704.74" x2="201.00" y2="708.34" stroke="#d99a9c" stroke-width="0.45"/>
<polyline points="58.60,696.00 60.27,695.94 62.61,695.87 65.36,695.77 68.27,695.67 71.07,695.54 73.50,695.40 75.65,695.24 77.74,695.07 79.73,694.88 81.56,694.67 83.16,694.44 84.50,694.20 85.47,694.02 86.10,693.93 86.51,693.82 86.83,693.60 87.19,693.16 87.70,692.40 88.35,691.22 89.04,689.69 89.76,687.94 90.51,686.11 91.29,684.35 92.10,682.80 92.95,681.41 93.85,680.07 94.78,678.79 95.73,677.60 96.67,676.53 97.60,675.60 98.49,674.82 99.36,674.16 100.22,673.61 101.11,673.18 102.06,672.84 103.10,672.60 104.26,672.45 105.51,672.40 106.83,672.45 108.16,672.60 109.47,672.85 110.70,673.20 111.86,673.69 112.97,674.33 114.06,675.08 115.14,675.87 116.21,676.66 117.30,677.40 118.38,678.10 119.42,678.80 120.47,679.50 121.54,680.20 122.68,680.90 123.90,681.60 125.20,682.31 126.56,683.04 127.98,683.77 129.45,684.49 130.99,685.17 132.60,685.80 134.30,686.38 136.10,686.93 137.96,687.45 139.86,687.93 141.75,688.38 143.60,688.80 145.30,689.18 146.83,689.52 148.37,689.83 150.06,690.11 152.05,690.37 154.50,690.60 157.59,690.82 161.23,691.01 165.17,691.18 169.17,691.32 173.00,691.43 176.40,691.50 179.40,691.52 182.19,691.50 184.80,691.44 187.26,691.37 189.58,691.28 191.80,691.20 193.98,691.11 196.11,691.00 198.11,690.88 199.90,690.77 201.39,690.67 202.50,690.60" fill="none" stroke="#000" stroke-width="1.5" stroke-linejoin="round"/>
<polyline points="58.60,689.40 59.69,689.61 61.14,689.90 62.89,690.24 64.85,690.63 66.94,691.06 69.10,691.50 71.51,692.02 74.28,692.63 77.19,693.28 80.01,693.90 82.52,694.43 84.50,694.80 85.78,695.02 86.51,695.13 86.92,695.16 87.28,695.10 87.82,694.98 88.80,694.80 90.28,694.54 92.09,694.18 94.09,693.75 96.13,693.29 98.08,692.83 99.80,692.40 101.28,691.95 102.61,691.46 103.86,690.96 105.06,690.51 106.26,690.17 107.50,690.00 108.73,690.02 109.91,690.19 111.09,690.47 112.32,690.81 113.64,691.17 115.10,691.50 116.83,691.83 118.80,692.19 120.87,692.57 122.88,692.94 124.67,693.30 126.10,693.60 127.07,693.79 127.69,693.87 128.10,693.92 128.43,694.03 128.82,694.30 129.40,694.80 130.14,695.61 130.92,696.67 131.76,697.88 132.67,699.13 133.68,700.34 134.80,701.40 136.05,702.32 137.40,703.18 138.86,703.99 140.39,704.76 141.97,705.49 143.60,706.20 145.24,706.90 146.91,707.58 148.64,708.23 150.46,708.82 152.40,709.35 154.50,709.80 156.78,710.14 159.22,710.38 161.79,710.55 164.44,710.69 167.16,710.83 169.90,711.00 172.72,711.20 175.67,711.40 178.67,711.60 181.67,711.80 184.60,712.00 187.40,712.20 190.23,712.41 193.17,712.64 196.04,712.88 198.67,713.09 200.88,713.27 202.50,713.40" fill="none" stroke="#ff2a2a" stroke-width="1.9" stroke-linejoin="round"/>
<polyline points="58.60,698.70 60.24,698.51 62.53,698.24 65.23,697.93 68.11,697.59 70.94,697.24 73.50,696.90 75.89,696.71 78.31,696.68 80.69,696.64 82.94,696.42 84.97,695.87 86.70,694.80 88.04,693.08 89.03,690.82 89.81,688.22 90.50,685.48 91.22,682.80 92.10,680.40 93.14,678.15 94.25,675.86 95.39,673.63 96.54,671.58 97.65,669.80 98.70,668.40 99.66,667.44 100.54,666.84 101.39,666.52 102.25,666.39 103.17,666.34 104.20,666.30 105.34,666.26 106.57,666.31 107.86,666.45 109.18,666.69 110.50,667.04 111.80,667.50 113.06,668.11 114.32,668.86 115.57,669.71 116.85,670.64 118.15,671.62 119.50,672.60 120.90,673.60 122.36,674.64 123.84,675.73 125.33,676.86 126.83,678.01 128.30,679.20 129.73,680.44 131.12,681.76 132.51,683.10 133.93,684.44 135.42,685.76 137.00,687.00 138.70,688.19 140.50,689.37 142.36,690.51 144.26,691.60 146.15,692.64 148.00,693.60 149.75,694.47 151.40,695.26 153.04,695.98 154.78,696.68 156.70,697.37 158.90,698.10 161.46,698.87 164.32,699.68 167.37,700.48 170.48,701.26 173.53,701.97 176.40,702.60 179.14,703.13 181.86,703.58 184.53,703.97 187.09,704.32 189.53,704.66 191.80,705.00 193.98,705.36 196.11,705.71 198.11,706.05 199.90,706.36 201.39,706.61 202.50,706.80" fill="none" stroke="#a8272b" stroke-width="1.9" stroke-linejoin="round"/>
<line x1="58.60" y1="635.40" x2="58.60" y2="755.40" stroke="#222" stroke-width="1.3"/>
<line x1="54.40" y1="755.40" x2="58.60" y2="755.40" stroke="#222" stroke-width="1.3"/>
<text x="51.40" y="758.64" font-size="9.0" font-weight="bold" font-style="normal" text-anchor="end" fill="#111">0.0</text>
<line x1="54.40" y1="725.40" x2="58.60" y2="725.40" stroke="#222" stroke-width="1.3"/>
<text x="51.40" y="728.64" font-size="9.0" font-weight="bold" font-style="normal" text-anchor="end" fill="#111">0.5</text>
<line x1="54.40" y1="695.40" x2="58.60" y2="695.40" stroke="#222" stroke-width="1.3"/>
<text x="51.40" y="698.64" font-size="9.0" font-weight="bold" font-style="normal" text-anchor="end" fill="#111">1.0</text>
<line x1="54.40" y1="665.40" x2="58.60" y2="665.40" stroke="#222" stroke-width="1.3"/>
<text x="51.40" y="668.64" font-size="9.0" font-weight="bold" font-style="normal" text-anchor="end" fill="#111">1.5</text>
<line x1="54.40" y1="635.40" x2="58.60" y2="635.40" stroke="#222" stroke-width="1.3"/>
<text x="51.40" y="638.64" font-size="9.0" font-weight="bold" font-style="normal" text-anchor="end" fill="#111">2.0</text>
<text x="21.90" y="695.00" font-size="10.8" font-weight="bold" font-style="normal" text-anchor="middle" fill="#111" transform="rotate(-90 21.90 695.00)">Relative mitochondrial</text>
<text x="35.00" y="695.00" font-size="10.8" font-weight="bold" font-style="normal" text-anchor="middle" fill="#111" transform="rotate(-90 35.00 695.00)">calcium level</text>
<text x="83.80" y="643.80" font-size="10.4" font-weight="normal" font-style="normal" text-anchor="middle" fill="#222" stroke="#222" stroke-width="0.2">TG</text>
<line x1="83.80" y1="646.50" x2="83.80" y2="657.00" stroke="#000" stroke-width="2.2"/>
<polygon points="79.00,655.40 88.60,655.40 83.80,665.00" fill="#000"/>
<line x1="73.60" y1="595.30" x2="88.90" y2="595.30" stroke="#000" stroke-width="1.4"/>
<text x="93.50" y="598.40" font-size="10.1" font-weight="normal" font-style="normal" text-anchor="start" fill="#222" stroke="#222" stroke-width="0.2"><tspan font-style="italic">CDK4</tspan>-WT</text>
<line x1="73.60" y1="609.10" x2="88.90" y2="609.10" stroke="#ff2a2a" stroke-width="1.4"/>
<text x="93.50" y="612.20" font-size="10.1" font-weight="normal" font-style="normal" text-anchor="start" fill="#222" stroke="#222" stroke-width="0.2"><tspan font-style="italic">CDK4</tspan>-KO</text>
<line x1="73.60" y1="626.00" x2="88.90" y2="626.00" stroke="#a8272b" stroke-width="1.4"/>
<text x="93.50" y="629.00" font-size="10.1" font-weight="normal" font-style="normal" text-anchor="start" fill="#222" stroke="#222" stroke-width="0.2"><tspan font-style="italic">CDK4</tspan>-KO</text>
<line x1="141.60" y1="591.60" x2="141.60" y2="613.70" stroke="#000" stroke-width="1.5"/>
<line x1="141.60" y1="621.40" x2="141.60" y2="632.10" stroke="#000" stroke-width="1.5"/>
<text x="146.50" y="604.50" font-size="10.3" font-weight="normal" font-style="normal" text-anchor="start" fill="#222" stroke="#222" stroke-width="0.2">HA_Tr.</text>
<text x="145.60" y="629.00" font-size="9.8" font-weight="normal" font-style="normal" text-anchor="start" fill="#222" stroke="#222" stroke-width="0.2">CDK4_Tr.</text>
<line x1="173.20" y1="755.70" x2="200.80" y2="755.70" stroke="#000" stroke-width="1.5"/>
<text x="187.00" y="750.10" font-size="10" font-weight="bold" font-style="normal" text-anchor="middle" fill="#000">60s</text>
<text x="200.50" y="259.90" font-size="16" font-weight="bold" font-style="normal" text-anchor="start" fill="#000">e</text>
<line x1="255.90" y1="279.80" x2="255.90" y2="375.20" stroke="#222" stroke-width="1.3"/>
<line x1="251.90" y1="375.20" x2="255.90" y2="375.20" stroke="#222" stroke-width="1.3"/>
<text x="250.90" y="378.55" font-size="9.3" font-weight="bold" font-style="normal" text-anchor="end" fill="#111">0</text>
<line x1="251.90" y1="343.40" x2="255.90" y2="343.40" stroke="#222" stroke-width="1.3"/>
<text x="250.90" y="346.75" font-size="9.3" font-weight="bold" font-style="normal" text-anchor="end" fill="#111">200</text>
<line x1="251.90" y1="311.60" x2="255.90" y2="311.60" stroke="#222" stroke-width="1.3"/>
<text x="250.90" y="314.95" font-size="9.3" font-weight="bold" font-style="normal" text-anchor="end" fill="#111">400</text>
<line x1="251.90" y1="279.80" x2="255.90" y2="279.80" stroke="#222" stroke-width="1.3"/>
<text x="250.90" y="283.15" font-size="9.3" font-weight="bold" font-style="normal" text-anchor="end" fill="#111">600</text>
<line x1="255.90" y1="375.20" x2="318.70" y2="375.20" stroke="#222" stroke-width="1.3"/>
<line x1="274.00" y1="375.20" x2="274.00" y2="379.20" stroke="#222" stroke-width="1.3"/>
<line x1="301.00" y1="375.20" x2="301.00" y2="379.20" stroke="#222" stroke-width="1.3"/>
<polyline points="274.00,293.31 301.00,316.05" fill="none" stroke="#111" stroke-width="1.15" stroke-linejoin="round"/>
<polyline points="274.00,303.33 301.00,309.22" fill="none" stroke="#111" stroke-width="1.15" stroke-linejoin="round"/>
<polyline points="274.00,318.60 301.00,327.18" fill="none" stroke="#111" stroke-width="1.15" stroke-linejoin="round"/>
<polyline points="274.00,321.14 301.00,333.54" fill="none" stroke="#111" stroke-width="1.15" stroke-linejoin="round"/>
<circle cx="274.00" cy="293.31" r="1.8" fill="#000" stroke="#222" stroke-width="1"/>
<rect x="299.20" y="314.25" width="3.6" height="3.6" fill="#ff2a2a" stroke="#ff2a2a" stroke-width="1"/>
<circle cx="274.00" cy="303.33" r="1.8" fill="#fff" stroke="#222" stroke-width="1"/>
<rect x="299.20" y="307.42" width="3.6" height="3.6" fill="#fff" stroke="#ff2a2a" stroke-width="1"/>
<circle cx="274.00" cy="318.60" r="1.8" fill="#fff" stroke="#222" stroke-width="1"/>
<rect x="299.20" y="325.38" width="3.6" height="3.6" fill="#fff" stroke="#ff2a2a" stroke-width="1"/>
<circle cx="274.00" cy="321.14" r="1.8" fill="#fff" stroke="#222" stroke-width="1"/>
<rect x="299.20" y="331.74" width="3.6" height="3.6" fill="#fff" stroke="#ff2a2a" stroke-width="1"/>
<text x="286.40" y="271.00" font-size="10.5" font-weight="normal" font-style="normal" text-anchor="middle" fill="#222" stroke="#222" stroke-width="0.2">TG</text>
<text x="287.60" y="281.00" font-size="8.5" font-weight="bold" font-style="italic" text-anchor="middle" fill="#222">0.0399</text>
<line x1="273.50" y1="286.20" x2="301.60" y2="286.20" stroke="#333" stroke-width="1.3"/>
<text x="220.50" y="325.50" font-size="9.3" font-weight="bold" font-style="normal" text-anchor="middle" fill="#000" transform="rotate(-90 220.50 325.50)">AUC</text>
<text x="231.00" y="325.50" font-size="9.3" font-weight="bold" font-style="normal" text-anchor="middle" fill="#000" transform="rotate(-90 231.00 325.50)">(Mitochondria)</text>
<text x="276.60" y="386.80" font-size="7.7" font-weight="normal" font-style="normal" text-anchor="end" fill="#222" transform="rotate(-45 276.60 386.80)" stroke="#222" stroke-width="0.2"><tspan font-style="italic">CDK4</tspan><tspan font-weight="bold">-WT</tspan></text>
<text x="303.60" y="386.80" font-size="7.7" font-weight="normal" font-style="normal" text-anchor="end" fill="#222" transform="rotate(-45 303.60 386.80)" stroke="#222" stroke-width="0.2"><tspan font-style="italic">CDK4</tspan><tspan font-weight="bold">-KO</tspan></text>
<text x="546.20" y="260.90" font-size="16" font-weight="bold" font-style="normal" text-anchor="start" fill="#000">g</text>
<line x1="601.90" y1="282.70" x2="601.90" y2="379.60" stroke="#222" stroke-width="1.3"/>
<line x1="597.90" y1="379.60" x2="601.90" y2="379.60" stroke="#222" stroke-width="1.3"/>
<text x="596.90" y="382.95" font-size="9.3" font-weight="bold" font-style="normal" text-anchor="end" fill="#111">0.0</text>
<line x1="597.90" y1="355.38" x2="601.90" y2="355.38" stroke="#222" stroke-width="1.3"/>
<text x="596.90" y="358.72" font-size="9.3" font-weight="bold" font-style="normal" text-anchor="end" fill="#111">0.5</text>
<line x1="597.90" y1="331.15" x2="601.90" y2="331.15" stroke="#222" stroke-width="1.3"/>
<text x="596.90" y="334.50" font-size="9.3" font-weight="bold" font-style="normal" text-anchor="end" fill="#111">1.0</text>
<line x1="597.90" y1="306.93" x2="601.90" y2="306.93" stroke="#222" stroke-width="1.3"/>
<text x="596.90" y="310.27" font-size="9.3" font-weight="bold" font-style="normal" text-anchor="end" fill="#111">1.5</text>
<line x1="597.90" y1="282.70" x2="601.90" y2="282.70" stroke="#222" stroke-width="1.3"/>
<text x="596.90" y="286.05" font-size="9.3" font-weight="bold" font-style="normal" text-anchor="end" fill="#111">2.0</text>
<line x1="601.90" y1="379.60" x2="665.30" y2="379.60" stroke="#222" stroke-width="1.3"/>
<line x1="620.10" y1="379.60" x2="620.10" y2="383.60" stroke="#222" stroke-width="1.3"/>
<line x1="647.20" y1="379.60" x2="647.20" y2="383.60" stroke="#222" stroke-width="1.3"/>
<polyline points="620.10,286.09 647.20,295.30" fill="none" stroke="#111" stroke-width="1.15" stroke-linejoin="round"/>
<polyline points="620.10,290.94 647.20,297.72" fill="none" stroke="#111" stroke-width="1.15" stroke-linejoin="round"/>
<polyline points="620.10,296.75 647.20,309.83" fill="none" stroke="#111" stroke-width="1.15" stroke-linejoin="round"/>
<polyline points="620.10,300.63 647.20,326.31" fill="none" stroke="#111" stroke-width="1.15" stroke-linejoin="round"/>
<circle cx="620.10" cy="286.09" r="1.8" fill="#000" stroke="#222" stroke-width="1"/>
<rect x="645.40" y="293.50" width="3.6" height="3.6" fill="#ff2a2a" stroke="#ff2a2a" stroke-width="1"/>
<circle cx="620.10" cy="290.94" r="1.8" fill="#fff" stroke="#222" stroke-width="1"/>
<rect x="645.40" y="295.92" width="3.6" height="3.6" fill="#fff" stroke="#ff2a2a" stroke-width="1"/>
<circle cx="620.10" cy="296.75" r="1.8" fill="#fff" stroke="#222" stroke-width="1"/>
<rect x="645.40" y="308.03" width="3.6" height="3.6" fill="#fff" stroke="#ff2a2a" stroke-width="1"/>
<circle cx="620.10" cy="300.63" r="1.8" fill="#fff" stroke="#222" stroke-width="1"/>
<rect x="645.40" y="324.50" width="3.6" height="3.6" fill="#fff" stroke="#ff2a2a" stroke-width="1"/>
<text x="633.80" y="261.70" font-size="10.5" font-weight="normal" font-style="normal" text-anchor="middle" fill="#222" stroke="#222" stroke-width="0.2">Hist.</text>
<text x="633.80" y="272.50" font-size="8.5" font-weight="bold" font-style="italic" text-anchor="middle" fill="#222">0.0466</text>
<line x1="620.10" y1="278.00" x2="647.20" y2="278.00" stroke="#333" stroke-width="1.3"/>
<text x="568.30" y="327.70" font-size="9.3" font-weight="bold" font-style="normal" text-anchor="middle" fill="#000" transform="rotate(-90 568.30 327.70)">Maximum peak (F-F0)</text>
<text x="579.80" y="327.70" font-size="9.3" font-weight="bold" font-style="normal" text-anchor="middle" fill="#000" transform="rotate(-90 579.80 327.70)">(Mitochondria)</text>
<text x="622.70" y="391.20" font-size="7.7" font-weight="normal" font-style="normal" text-anchor="end" fill="#222" transform="rotate(-45 622.70 391.20)" stroke="#222" stroke-width="0.2"><tspan font-style="italic">CDK4</tspan><tspan font-weight="bold">-WT</tspan></text>
<text x="649.80" y="391.20" font-size="7.7" font-weight="normal" font-style="normal" text-anchor="end" fill="#222" transform="rotate(-45 649.80 391.20)" stroke="#222" stroke-width="0.2"><tspan font-style="italic">CDK4</tspan><tspan font-weight="bold">-KO</tspan></text>
<text x="199.50" y="424.60" font-size="16" font-weight="bold" font-style="normal" text-anchor="start" fill="#000">i</text>
<line x1="256.40" y1="442.90" x2="256.40" y2="540.00" stroke="#222" stroke-width="1.3"/>
<line x1="252.40" y1="540.00" x2="256.40" y2="540.00" stroke="#222" stroke-width="1.3"/>
<text x="251.40" y="543.35" font-size="9.3" font-weight="bold" font-style="normal" text-anchor="end" fill="#111">0</text>
<line x1="252.40" y1="515.73" x2="256.40" y2="515.73" stroke="#222" stroke-width="1.3"/>
<text x="251.40" y="519.07" font-size="9.3" font-weight="bold" font-style="normal" text-anchor="end" fill="#111">200</text>
<line x1="252.40" y1="491.45" x2="256.40" y2="491.45" stroke="#222" stroke-width="1.3"/>
<text x="251.40" y="494.80" font-size="9.3" font-weight="bold" font-style="normal" text-anchor="end" fill="#111">400</text>
<line x1="252.40" y1="467.17" x2="256.40" y2="467.17" stroke="#222" stroke-width="1.3"/>
<text x="251.40" y="470.52" font-size="9.3" font-weight="bold" font-style="normal" text-anchor="end" fill="#111">600</text>
<line x1="252.40" y1="442.90" x2="256.40" y2="442.90" stroke="#222" stroke-width="1.3"/>
<text x="251.40" y="446.25" font-size="9.3" font-weight="bold" font-style="normal" text-anchor="end" fill="#111">800</text>
<line x1="256.40" y1="540.00" x2="320.60" y2="540.00" stroke="#222" stroke-width="1.3"/>
<line x1="274.40" y1="540.00" x2="274.40" y2="544.00" stroke="#222" stroke-width="1.3"/>
<line x1="302.10" y1="540.00" x2="302.10" y2="544.00" stroke="#222" stroke-width="1.3"/>
<polyline points="274.40,473.49 302.10,488.17" fill="none" stroke="#111" stroke-width="1.15" stroke-linejoin="round"/>
<polyline points="274.40,484.05 302.10,479.68" fill="none" stroke="#111" stroke-width="1.15" stroke-linejoin="round"/>
<polyline points="274.40,484.53 302.10,491.09" fill="none" stroke="#111" stroke-width="1.15" stroke-linejoin="round"/>
<circle cx="274.40" cy="473.49" r="1.8" fill="#000" stroke="#222" stroke-width="1"/>
<rect x="300.30" y="486.37" width="3.6" height="3.6" fill="#fff" stroke="#ff2a2a" stroke-width="1"/>
<circle cx="274.40" cy="484.05" r="1.8" fill="#fff" stroke="#222" stroke-width="1"/>
<rect x="300.30" y="477.88" width="3.6" height="3.6" fill="#fff" stroke="#ff2a2a" stroke-width="1"/>
<circle cx="274.40" cy="484.53" r="1.8" fill="#fff" stroke="#222" stroke-width="1"/>
<rect x="300.30" y="489.29" width="3.6" height="3.6" fill="#ff2a2a" stroke="#ff2a2a" stroke-width="1"/>
<text x="288.00" y="443.40" font-size="10.5" font-weight="normal" font-style="normal" text-anchor="middle" fill="#222" stroke="#222" stroke-width="0.2">TG</text>
<text x="288.00" y="454.40" font-size="8.5" font-weight="normal" font-style="italic" text-anchor="middle" fill="#222" stroke="#222" stroke-width="0.2">0.4679</text>
<line x1="274.90" y1="459.30" x2="302.60" y2="459.30" stroke="#333" stroke-width="1.3"/>
<text x="219.50" y="489.00" font-size="9.3" font-weight="bold" font-style="normal" text-anchor="middle" fill="#000" transform="rotate(-90 219.50 489.00)">AUC</text>
<text x="230.70" y="489.00" font-size="9.3" font-weight="bold" font-style="normal" text-anchor="middle" fill="#000" transform="rotate(-90 230.70 489.00)">(Cytosol)</text>
<text x="277.00" y="551.60" font-size="7.7" font-weight="normal" font-style="normal" text-anchor="end" fill="#222" transform="rotate(-45 277.00 551.60)" stroke="#222" stroke-width="0.2"><tspan font-style="italic">CDK4</tspan><tspan font-weight="bold">-WT</tspan></text>
<text x="304.70" y="551.60" font-size="7.7" font-weight="normal" font-style="normal" text-anchor="end" fill="#222" transform="rotate(-45 304.70 551.60)" stroke="#222" stroke-width="0.2"><tspan font-style="italic">CDK4</tspan><tspan font-weight="bold">-KO</tspan></text>
<text x="546.00" y="426.00" font-size="16" font-weight="bold" font-style="normal" text-anchor="start" fill="#000">k</text>
<line x1="602.00" y1="443.70" x2="602.00" y2="540.60" stroke="#222" stroke-width="1.3"/>
<line x1="598.00" y1="540.60" x2="602.00" y2="540.60" stroke="#222" stroke-width="1.3"/>
<text x="597.00" y="543.95" font-size="9.3" font-weight="bold" font-style="normal" text-anchor="end" fill="#111">0</text>
<line x1="598.00" y1="516.38" x2="602.00" y2="516.38" stroke="#222" stroke-width="1.3"/>
<text x="597.00" y="519.72" font-size="9.3" font-weight="bold" font-style="normal" text-anchor="end" fill="#111">2</text>
<line x1="598.00" y1="492.15" x2="602.00" y2="492.15" stroke="#222" stroke-width="1.3"/>
<text x="597.00" y="495.50" font-size="9.3" font-weight="bold" font-style="normal" text-anchor="end" fill="#111">4</text>
<line x1="598.00" y1="467.93" x2="602.00" y2="467.93" stroke="#222" stroke-width="1.3"/>
<text x="597.00" y="471.27" font-size="9.3" font-weight="bold" font-style="normal" text-anchor="end" fill="#111">6</text>
<line x1="598.00" y1="443.70" x2="602.00" y2="443.70" stroke="#222" stroke-width="1.3"/>
<text x="597.00" y="447.05" font-size="9.3" font-weight="bold" font-style="normal" text-anchor="end" fill="#111">8</text>
<line x1="602.00" y1="540.60" x2="666.30" y2="540.60" stroke="#222" stroke-width="1.3"/>
<line x1="619.90" y1="540.60" x2="619.90" y2="544.60" stroke="#222" stroke-width="1.3"/>
<line x1="647.30" y1="540.60" x2="647.30" y2="544.60" stroke="#222" stroke-width="1.3"/>
<polyline points="619.90,463.69 647.30,472.16" fill="none" stroke="#111" stroke-width="1.15" stroke-linejoin="round"/>
<polyline points="619.90,476.40 647.30,492.76" fill="none" stroke="#111" stroke-width="1.15" stroke-linejoin="round"/>
<polyline points="619.90,494.57 647.30,482.46" fill="none" stroke="#111" stroke-width="1.15" stroke-linejoin="round"/>
<circle cx="619.90" cy="463.69" r="1.8" fill="#000" stroke="#222" stroke-width="1"/>
<rect x="645.50" y="470.36" width="3.6" height="3.6" fill="#ff2a2a" stroke="#ff2a2a" stroke-width="1"/>
<circle cx="619.90" cy="476.40" r="1.8" fill="#fff" stroke="#222" stroke-width="1"/>
<rect x="645.50" y="490.96" width="3.6" height="3.6" fill="#fff" stroke="#ff2a2a" stroke-width="1"/>
<circle cx="619.90" cy="494.57" r="1.8" fill="#fff" stroke="#222" stroke-width="1"/>
<rect x="645.50" y="480.66" width="3.6" height="3.6" fill="#fff" stroke="#ff2a2a" stroke-width="1"/>
<text x="634.20" y="434.60" font-size="10.5" font-weight="normal" font-style="normal" text-anchor="middle" fill="#222" stroke="#222" stroke-width="0.2">Hist.</text>
<text x="634.20" y="446.30" font-size="8.5" font-weight="normal" font-style="italic" text-anchor="middle" fill="#222" stroke="#222" stroke-width="0.2">0.6717</text>
<line x1="620.20" y1="451.30" x2="646.70" y2="451.30" stroke="#333" stroke-width="1.3"/>
<text x="576.50" y="489.80" font-size="9.3" font-weight="bold" font-style="normal" text-anchor="middle" fill="#000" transform="rotate(-90 576.50 489.80)">Maximum peak (F-F0)</text>
<text x="587.50" y="489.80" font-size="9.3" font-weight="bold" font-style="normal" text-anchor="middle" fill="#000" transform="rotate(-90 587.50 489.80)">(Cytosol)</text>
<text x="622.50" y="552.20" font-size="7.7" font-weight="normal" font-style="normal" text-anchor="end" fill="#222" transform="rotate(-45 622.50 552.20)" stroke="#222" stroke-width="0.2"><tspan font-style="italic">CDK4</tspan><tspan font-weight="bold">-WT</tspan></text>
<text x="649.90" y="552.20" font-size="7.7" font-weight="normal" font-style="normal" text-anchor="end" fill="#222" transform="rotate(-45 649.90 552.20)" stroke="#222" stroke-width="0.2"><tspan font-style="italic">CDK4</tspan><tspan font-weight="bold">-KO</tspan></text>
<text x="223.50" y="593.30" font-size="16" font-weight="bold" font-style="normal" text-anchor="start" fill="#000">m</text>
<line x1="274.80" y1="624.00" x2="274.80" y2="714.10" stroke="#222" stroke-width="1.3"/>
<line x1="270.80" y1="714.10" x2="274.80" y2="714.10" stroke="#222" stroke-width="1.3"/>
<text x="269.80" y="717.45" font-size="9.3" font-weight="bold" font-style="normal" text-anchor="end" fill="#111">0</text>
<line x1="270.80" y1="691.58" x2="274.80" y2="691.58" stroke="#222" stroke-width="1.3"/>
<text x="269.80" y="694.92" font-size="9.3" font-weight="bold" font-style="normal" text-anchor="end" fill="#111">100</text>
<line x1="270.80" y1="669.05" x2="274.80" y2="669.05" stroke="#222" stroke-width="1.3"/>
<text x="269.80" y="672.40" font-size="9.3" font-weight="bold" font-style="normal" text-anchor="end" fill="#111">200</text>
<line x1="270.80" y1="646.52" x2="274.80" y2="646.52" stroke="#222" stroke-width="1.3"/>
<text x="269.80" y="649.87" font-size="9.3" font-weight="bold" font-style="normal" text-anchor="end" fill="#111">300</text>
<line x1="270.80" y1="624.00" x2="274.80" y2="624.00" stroke="#222" stroke-width="1.3"/>
<text x="269.80" y="627.35" font-size="9.3" font-weight="bold" font-style="normal" text-anchor="end" fill="#111">400</text>
<line x1="274.80" y1="714.10" x2="354.50" y2="714.10" stroke="#222" stroke-width="1.3"/>
<line x1="290.70" y1="714.10" x2="290.70" y2="718.10" stroke="#222" stroke-width="1.3"/>
<line x1="314.70" y1="714.10" x2="314.70" y2="718.10" stroke="#222" stroke-width="1.3"/>
<line x1="338.50" y1="714.10" x2="338.50" y2="718.10" stroke="#222" stroke-width="1.3"/>
<polyline points="290.70,630.76 314.70,639.77 338.50,636.39" fill="none" stroke="#111" stroke-width="1.15" stroke-linejoin="round"/>
<polyline points="290.70,634.14 314.70,648.78 338.50,638.64" fill="none" stroke="#111" stroke-width="1.15" stroke-linejoin="round"/>
<polyline points="290.70,636.39 314.70,657.79 338.50,640.89" fill="none" stroke="#111" stroke-width="1.15" stroke-linejoin="round"/>
<polyline points="290.70,638.64 314.70,658.91 338.50,643.15" fill="none" stroke="#111" stroke-width="1.15" stroke-linejoin="round"/>
<polyline points="290.70,640.89 314.70,661.17 338.50,645.40" fill="none" stroke="#111" stroke-width="1.15" stroke-linejoin="round"/>
<polyline points="290.70,642.02 314.70,669.05 338.50,646.52" fill="none" stroke="#111" stroke-width="1.15" stroke-linejoin="round"/>
<circle cx="290.70" cy="630.76" r="1.8" fill="#fff" stroke="#222" stroke-width="1"/>
<rect x="312.90" y="637.97" width="3.6" height="3.6" fill="#fff" stroke="#ff2a2a" stroke-width="1"/>
<rect x="336.70" y="634.59" width="3.6" height="3.6" fill="#fff" stroke="#ff2a2a" stroke-width="1"/>
<circle cx="290.70" cy="634.14" r="1.8" fill="#000" stroke="#222" stroke-width="1"/>
<rect x="312.90" y="646.98" width="3.6" height="3.6" fill="#ff2a2a" stroke="#ff2a2a" stroke-width="1"/>
<rect x="336.70" y="636.84" width="3.6" height="3.6" fill="#ff2a2a" stroke="#ff2a2a" stroke-width="1"/>
<circle cx="290.70" cy="636.39" r="1.8" fill="#fff" stroke="#222" stroke-width="1"/>
<rect x="312.90" y="655.99" width="3.6" height="3.6" fill="#fff" stroke="#ff2a2a" stroke-width="1"/>
<rect x="336.70" y="639.09" width="3.6" height="3.6" fill="#fff" stroke="#ff2a2a" stroke-width="1"/>
<circle cx="290.70" cy="638.64" r="1.8" fill="#fff" stroke="#222" stroke-width="1"/>
<rect x="312.90" y="657.11" width="3.6" height="3.6" fill="#fff" stroke="#ff2a2a" stroke-width="1"/>
<rect x="336.70" y="641.35" width="3.6" height="3.6" fill="#fff" stroke="#ff2a2a" stroke-width="1"/>
<circle cx="290.70" cy="640.89" r="1.8" fill="#fff" stroke="#222" stroke-width="1"/>
<rect x="312.90" y="659.37" width="3.6" height="3.6" fill="#fff" stroke="#ff2a2a" stroke-width="1"/>
<rect x="336.70" y="643.60" width="3.6" height="3.6" fill="#fff" stroke="#ff2a2a" stroke-width="1"/>
<circle cx="290.70" cy="642.02" r="1.8" fill="#000" stroke="#222" stroke-width="1"/>
<rect x="312.90" y="667.25" width="3.6" height="3.6" fill="#ff2a2a" stroke="#ff2a2a" stroke-width="1"/>
<rect x="336.70" y="644.73" width="3.6" height="3.6" fill="#ff2a2a" stroke="#ff2a2a" stroke-width="1"/>
<text x="300.50" y="597.60" font-size="10.5" font-weight="normal" font-style="normal" text-anchor="middle" fill="#222" stroke="#222" stroke-width="0.2">TG</text>
<text x="327.00" y="600.80" font-size="8.5" font-weight="bold" font-style="italic" text-anchor="middle" fill="#222">0.0466</text>
<line x1="314.70" y1="605.70" x2="338.50" y2="605.70" stroke="#333" stroke-width="1.3"/>
<text x="303.00" y="619.60" font-size="8.5" font-weight="bold" font-style="italic" text-anchor="middle" fill="#222">0.0261</text>
<line x1="291.50" y1="624.80" x2="314.70" y2="624.80" stroke="#333" stroke-width="1.3"/>
<text x="240.10" y="668.00" font-size="9.3" font-weight="bold" font-style="normal" text-anchor="middle" fill="#000" transform="rotate(-90 240.10 668.00)">AUC</text>
<text x="249.90" y="668.00" font-size="9.3" font-weight="bold" font-style="normal" text-anchor="middle" fill="#000" transform="rotate(-90 249.90 668.00)">(Mitochondria)</text>
<text x="293.30" y="725.70" font-size="8.4" font-weight="normal" font-style="normal" text-anchor="end" fill="#222" transform="rotate(-45 293.30 725.70)" stroke="#222" stroke-width="0.2"><tspan font-style="italic">CDK4</tspan><tspan font-weight="bold">-WT</tspan></text>
<text x="317.30" y="725.70" font-size="8.4" font-weight="normal" font-style="normal" text-anchor="end" fill="#222" transform="rotate(-45 317.30 725.70)" stroke="#222" stroke-width="0.2"><tspan font-style="italic">CDK4</tspan><tspan font-weight="bold">-KO</tspan></text>
<text x="341.10" y="725.70" font-size="8.4" font-weight="normal" font-style="normal" text-anchor="end" fill="#222" transform="rotate(-45 341.10 725.70)" stroke="#222" stroke-width="0.2"><tspan font-style="italic">CDK4</tspan><tspan font-weight="bold">-KO</tspan></text>
<line x1="254.00" y1="752.50" x2="298.10" y2="752.50" stroke="#111" stroke-width="1.5"/>
<line x1="304.20" y1="752.50" x2="325.50" y2="752.50" stroke="#111" stroke-width="1.5"/>
<text x="274.80" y="764.00" font-size="9" font-weight="normal" font-style="normal" text-anchor="middle" fill="#222" stroke="#222" stroke-width="0.2">HA_Tr.</text>
<text x="315.70" y="764.00" font-size="8.5" font-weight="normal" font-style="normal" text-anchor="middle" fill="#222" stroke="#222" stroke-width="0.2">CDK4_Tr.</text>
</svg></body></html>
